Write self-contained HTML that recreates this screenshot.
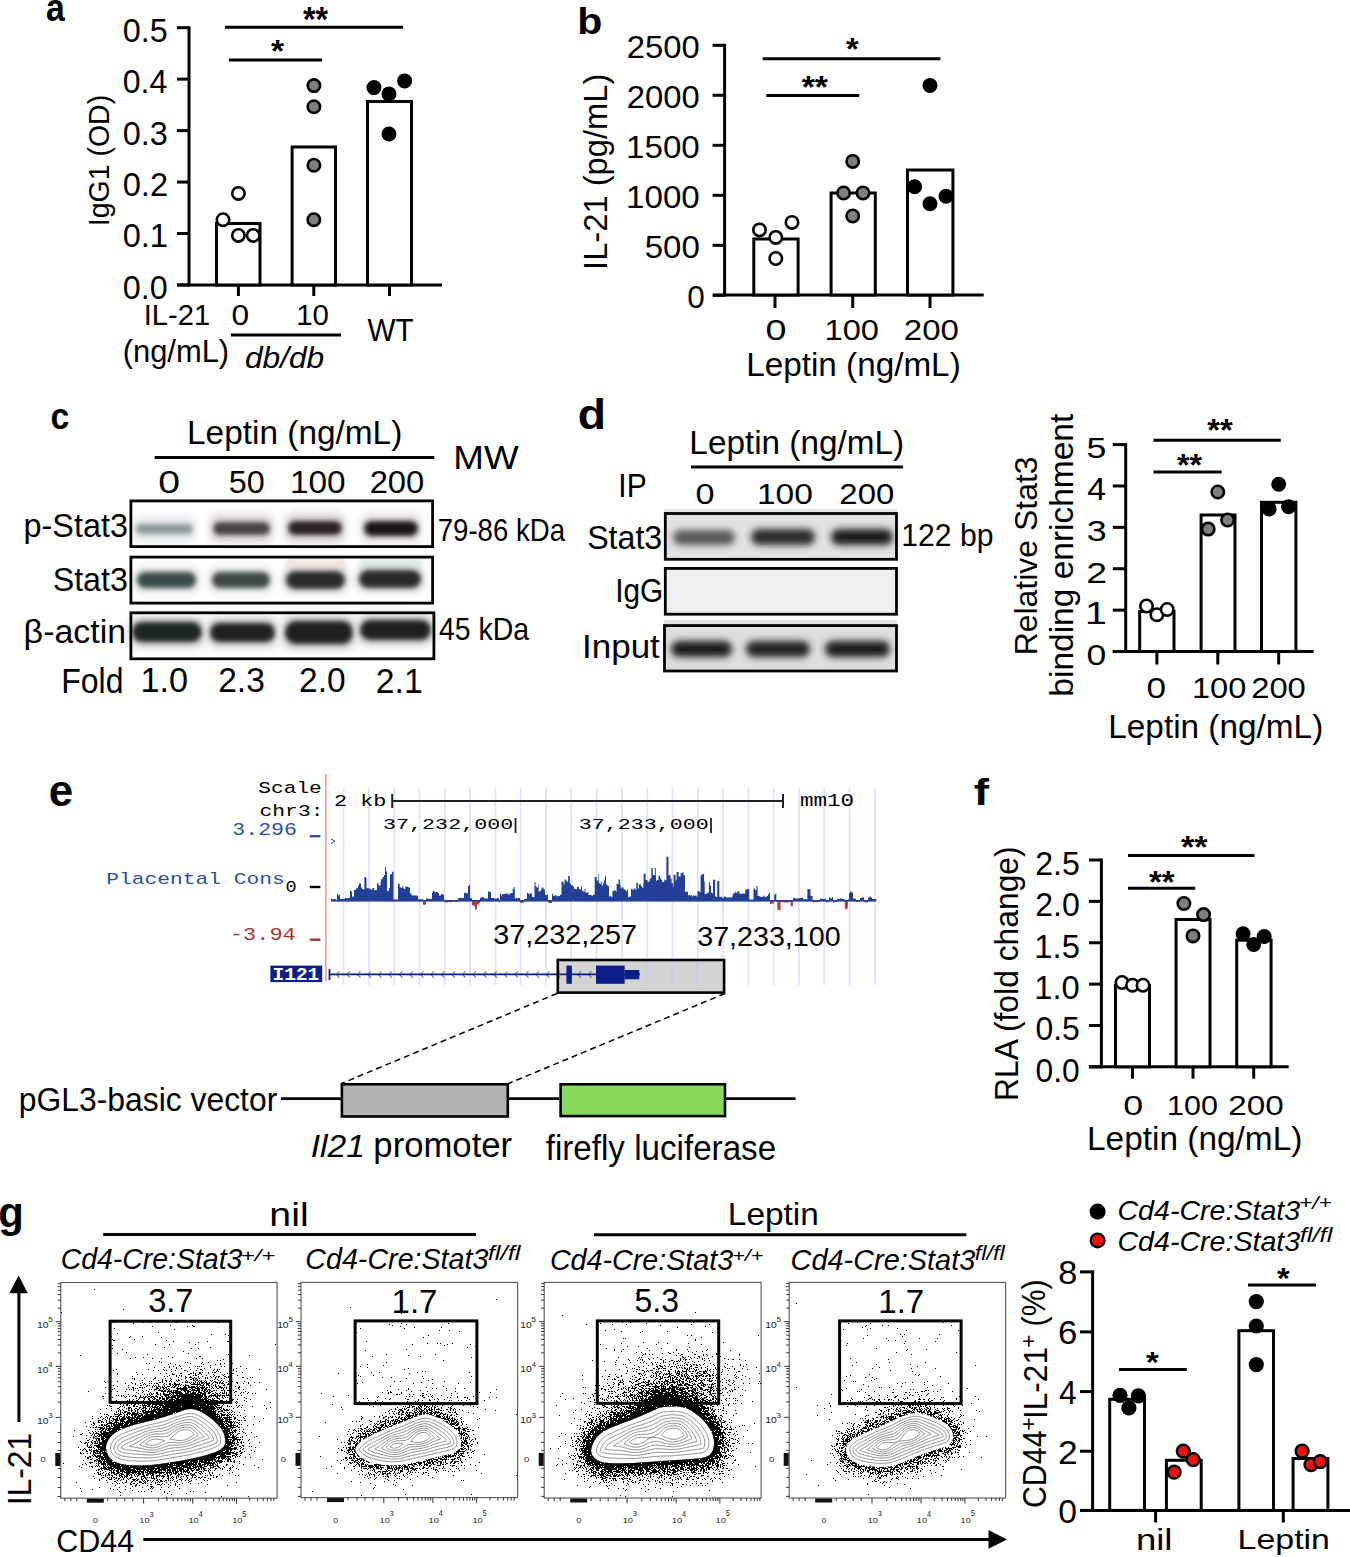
<!DOCTYPE html>
<html><head><meta charset="utf-8"><style>
html,body{margin:0;padding:0;background:#fff;width:1350px;height:1557px;overflow:hidden}
svg{display:block}
</style></head><body>
<svg width="1350" height="1557" viewBox="0 0 1350 1557">
<defs>
<filter id="bl25" x="-50%" y="-150%" width="200%" height="400%"><feGaussianBlur stdDeviation="2.5"/></filter>
<filter id="bl35" x="-50%" y="-150%" width="200%" height="400%"><feGaussianBlur stdDeviation="3.5"/></filter>
<filter id="bl40" x="-50%" y="-150%" width="200%" height="400%"><feGaussianBlur stdDeviation="4"/></filter>
<filter id="bl15" x="-50%" y="-150%" width="200%" height="400%"><feGaussianBlur stdDeviation="1.5"/></filter>
</defs>
<rect width="1350" height="1557" fill="#fff"/>
<text transform="translate(45.99,21.21) scale(0.8568,1)" font-size="39.45" style="font-family:'Liberation Sans', sans-serif;font-weight:bold;" fill="#000" >a</text>
<line x1="189" y1="26.2" x2="189" y2="286.5" stroke="#000" stroke-width="3" />
<line x1="177" y1="27.7" x2="189" y2="27.7" stroke="#000" stroke-width="3" />
<line x1="177" y1="79.15" x2="189" y2="79.15" stroke="#000" stroke-width="3" />
<line x1="177" y1="130.6" x2="189" y2="130.6" stroke="#000" stroke-width="3" />
<line x1="177" y1="182.05" x2="189" y2="182.05" stroke="#000" stroke-width="3" />
<line x1="177" y1="233.5" x2="189" y2="233.5" stroke="#000" stroke-width="3" />
<line x1="177" y1="284.95" x2="189" y2="284.95" stroke="#000" stroke-width="3" />
<line x1="177" y1="285" x2="442" y2="285" stroke="#000" stroke-width="3" />
<line x1="238.4" y1="285" x2="238.4" y2="296" stroke="#000" stroke-width="3" />
<line x1="313.8" y1="285" x2="313.8" y2="296" stroke="#000" stroke-width="3" />
<line x1="389.5" y1="285" x2="389.5" y2="296" stroke="#000" stroke-width="3" />
<rect x="216.5" y="223.5" width="43.5" height="61.5" fill="#fff" stroke="#000" stroke-width="3"/>
<rect x="292.1" y="147.0" width="43.39999999999998" height="138.0" fill="#fff" stroke="#000" stroke-width="3"/>
<rect x="367.5" y="101.5" width="44" height="183.5" fill="#fff" stroke="#000" stroke-width="3"/>
<circle cx="238.4" cy="193.4" r="6.2" fill="#fff" stroke="#000" stroke-width="2.6"/>
<circle cx="223" cy="219.7" r="6.2" fill="#fff" stroke="#000" stroke-width="2.6"/>
<circle cx="238.4" cy="235.4" r="6.2" fill="#fff" stroke="#000" stroke-width="2.6"/>
<circle cx="253.2" cy="235.4" r="6.2" fill="#fff" stroke="#000" stroke-width="2.6"/>
<circle cx="313.9" cy="85.6" r="6.2" fill="#7f7f7f" stroke="#000" stroke-width="2.6"/>
<circle cx="313.9" cy="106.8" r="6.2" fill="#7f7f7f" stroke="#000" stroke-width="2.6"/>
<circle cx="313.9" cy="165.2" r="6.2" fill="#7f7f7f" stroke="#000" stroke-width="2.6"/>
<circle cx="313.8" cy="219.7" r="6.2" fill="#7f7f7f" stroke="#000" stroke-width="2.6"/>
<circle cx="374" cy="87.6" r="6.2" fill="#000" stroke="#000" stroke-width="2.6"/>
<circle cx="389" cy="93.9" r="6.2" fill="#000" stroke="#000" stroke-width="2.6"/>
<circle cx="404.6" cy="80.9" r="6.2" fill="#000" stroke="#000" stroke-width="2.6"/>
<circle cx="389" cy="134" r="6.2" fill="#000" stroke="#000" stroke-width="2.6"/>
<text transform="translate(122.71,41.67) scale(0.9956,1)" font-size="32.51" style="font-family:'Liberation Sans', sans-serif;" fill="#000" >0.5</text>
<text transform="translate(122.72,93.12) scale(0.9862,1)" font-size="32.51" style="font-family:'Liberation Sans', sans-serif;" fill="#000" >0.4</text>
<text transform="translate(122.70,144.57) scale(0.9975,1)" font-size="32.51" style="font-family:'Liberation Sans', sans-serif;" fill="#000" >0.3</text>
<text transform="translate(122.70,196.02) scale(1.0033,1)" font-size="32.51" style="font-family:'Liberation Sans', sans-serif;" fill="#000" >0.2</text>
<text transform="translate(122.70,247.47) scale(1.0014,1)" font-size="32.51" style="font-family:'Liberation Sans', sans-serif;" fill="#000" >0.1</text>
<text transform="translate(122.71,298.92) scale(0.9937,1)" font-size="32.51" style="font-family:'Liberation Sans', sans-serif;" fill="#000" >0.0</text>
<line x1="225" y1="27.2" x2="403" y2="27.2" stroke="#000" stroke-width="3" />
<text transform="translate(302.92,30.99) scale(0.9243,1)" font-size="34.90" style="font-family:'Liberation Sans', sans-serif;font-weight:bold;" fill="#000" >**</text>
<line x1="229" y1="60" x2="322" y2="60" stroke="#000" stroke-width="3" />
<text transform="translate(270.92,62.15) scale(1.0482,1)" font-size="32.21" style="font-family:'Liberation Sans', sans-serif;font-weight:bold;" fill="#000" >*</text>
<text transform="translate(109.40,226.24) rotate(-90) scale(0.9427,1)" font-size="30.25" style="font-family:'Liberation Sans', sans-serif;" fill="#000" >IgG1 (OD)</text>
<text transform="translate(143.70,325.20) scale(0.9965,1)" font-size="29.25" style="font-family:'Liberation Sans', sans-serif;" fill="#000" >IL-21</text>
<text transform="translate(231.44,324.91) scale(1.0967,1)" font-size="28.83" style="font-family:'Liberation Sans', sans-serif;" fill="#000" >0</text>
<text transform="translate(296.19,324.91) scale(1.0222,1)" font-size="28.83" style="font-family:'Liberation Sans', sans-serif;" fill="#000" >10</text>
<text transform="translate(122.67,362.20) scale(0.9704,1)" font-size="31.85" style="font-family:'Liberation Sans', sans-serif;" fill="#000" >(ng/mL)</text>
<line x1="230.9" y1="335" x2="341.1" y2="335" stroke="#000" stroke-width="3" />
<text transform="translate(244.97,367.90) scale(1.0783,1)" font-size="29.38" style="font-family:'Liberation Sans', sans-serif;font-style:italic;" fill="#000" >db/db</text>
<text transform="translate(367.55,341.00) scale(0.9709,1)" font-size="30.55" style="font-family:'Liberation Sans', sans-serif;" fill="#000" >WT</text>
<text transform="translate(577.34,33.63) scale(1.0956,1)" font-size="37.41" style="font-family:'Liberation Sans', sans-serif;font-weight:bold;" fill="#000" >b</text>
<line x1="724.6" y1="43.8" x2="724.6" y2="296.5" stroke="#000" stroke-width="3" />
<line x1="712.6" y1="45.3" x2="724.6" y2="45.3" stroke="#000" stroke-width="3" />
<line x1="712.6" y1="95.3" x2="724.6" y2="95.3" stroke="#000" stroke-width="3" />
<line x1="712.6" y1="145.3" x2="724.6" y2="145.3" stroke="#000" stroke-width="3" />
<line x1="712.6" y1="195.3" x2="724.6" y2="195.3" stroke="#000" stroke-width="3" />
<line x1="712.6" y1="245.3" x2="724.6" y2="245.3" stroke="#000" stroke-width="3" />
<line x1="712.6" y1="295.3" x2="724.6" y2="295.3" stroke="#000" stroke-width="3" />
<line x1="713" y1="295" x2="983.7" y2="295" stroke="#000" stroke-width="3" />
<line x1="775" y1="295" x2="775" y2="308" stroke="#000" stroke-width="3" />
<line x1="852.7" y1="295" x2="852.7" y2="308" stroke="#000" stroke-width="3" />
<line x1="930" y1="295" x2="930" y2="308" stroke="#000" stroke-width="3" />
<rect x="753.8" y="239.0" width="44.30000000000007" height="56.0" fill="#fff" stroke="#000" stroke-width="3"/>
<rect x="831.1" y="193.0" width="44.19999999999993" height="102.0" fill="#fff" stroke="#000" stroke-width="3"/>
<rect x="907.5" y="170.0" width="45.39999999999998" height="125.0" fill="#fff" stroke="#000" stroke-width="3"/>
<circle cx="759.5" cy="229.9" r="6.2" fill="#fff" stroke="#000" stroke-width="2.6"/>
<circle cx="775.8" cy="237.4" r="6.2" fill="#fff" stroke="#000" stroke-width="2.6"/>
<circle cx="792" cy="222.4" r="6.2" fill="#fff" stroke="#000" stroke-width="2.6"/>
<circle cx="775.8" cy="258.5" r="6.2" fill="#fff" stroke="#000" stroke-width="2.6"/>
<circle cx="852.7" cy="161.4" r="6.2" fill="#7f7f7f" stroke="#000" stroke-width="2.6"/>
<circle cx="843.6" cy="193" r="6.2" fill="#7f7f7f" stroke="#000" stroke-width="2.6"/>
<circle cx="863" cy="193" r="6.2" fill="#7f7f7f" stroke="#000" stroke-width="2.6"/>
<circle cx="852.7" cy="216" r="6.2" fill="#7f7f7f" stroke="#000" stroke-width="2.6"/>
<circle cx="914.6" cy="186.8" r="6.2" fill="#000" stroke="#000" stroke-width="2.6"/>
<circle cx="930" cy="203.8" r="6.2" fill="#000" stroke="#000" stroke-width="2.6"/>
<circle cx="946" cy="196.3" r="6.2" fill="#000" stroke="#000" stroke-width="2.6"/>
<circle cx="930" cy="85.4" r="6.2" fill="#000" stroke="#000" stroke-width="2.6"/>
<text transform="translate(626.86,58.49) scale(1.0544,1)" font-size="31.10" style="font-family:'Liberation Sans', sans-serif;" fill="#000" >2500</text>
<text transform="translate(626.86,108.49) scale(1.0544,1)" font-size="31.10" style="font-family:'Liberation Sans', sans-serif;" fill="#000" >2000</text>
<text transform="translate(626.01,158.49) scale(1.0669,1)" font-size="31.10" style="font-family:'Liberation Sans', sans-serif;" fill="#000" >1500</text>
<text transform="translate(626.01,208.49) scale(1.0669,1)" font-size="31.10" style="font-family:'Liberation Sans', sans-serif;" fill="#000" >1000</text>
<text transform="translate(644.68,258.49) scale(1.0619,1)" font-size="31.10" style="font-family:'Liberation Sans', sans-serif;" fill="#000" >500</text>
<text transform="translate(687.14,308.49) scale(1.0102,1)" font-size="31.10" style="font-family:'Liberation Sans', sans-serif;" fill="#000" >0</text>
<line x1="762.7" y1="58.7" x2="940.4" y2="58.7" stroke="#000" stroke-width="3" />
<text transform="translate(845.92,60.22) scale(1.0517,1)" font-size="30.87" style="font-family:'Liberation Sans', sans-serif;font-weight:bold;" fill="#000" >*</text>
<line x1="766.3" y1="95.5" x2="859.2" y2="95.5" stroke="#000" stroke-width="3" />
<text transform="translate(801.72,97.64) scale(1.1046,1)" font-size="30.60" style="font-family:'Liberation Sans', sans-serif;font-weight:bold;" fill="#000" >**</text>
<text transform="translate(607.20,269.93) rotate(-90) scale(0.9780,1)" font-size="33.45" style="font-family:'Liberation Sans', sans-serif;" fill="#000" >IL-21 (pg/mL)</text>
<text transform="translate(765.49,340.40) scale(1.2580,1)" font-size="29.96" style="font-family:'Liberation Sans', sans-serif;" fill="#000" >0</text>
<text transform="translate(824.55,340.40) scale(1.0902,1)" font-size="29.96" style="font-family:'Liberation Sans', sans-serif;" fill="#000" >100</text>
<text transform="translate(903.85,340.40) scale(1.1005,1)" font-size="29.96" style="font-family:'Liberation Sans', sans-serif;" fill="#000" >200</text>
<text transform="translate(746.15,375.60) scale(1.0259,1)" font-size="32.44" style="font-family:'Liberation Sans', sans-serif;" fill="#000" >Leptin (ng/mL)</text>
<text transform="translate(50.55,429.02) scale(0.8952,1)" font-size="37.81" style="font-family:'Liberation Sans', sans-serif;font-weight:bold;" fill="#000" >c</text>
<text transform="translate(187.04,444.30) scale(0.9856,1)" font-size="33.89" style="font-family:'Liberation Sans', sans-serif;" fill="#000" >Leptin (ng/mL)</text>
<line x1="154.7" y1="457.6" x2="434.3" y2="457.6" stroke="#000" stroke-width="3" />
<text transform="translate(453.26,468.80) scale(1.1098,1)" font-size="33.16" style="font-family:'Liberation Sans', sans-serif;" fill="#000" >MW</text>
<text transform="translate(158.13,492.59) scale(1.2594,1)" font-size="31.10" style="font-family:'Liberation Sans', sans-serif;" fill="#000" >0</text>
<text transform="translate(228.71,492.59) scale(1.0403,1)" font-size="31.10" style="font-family:'Liberation Sans', sans-serif;" fill="#000" >50</text>
<text transform="translate(289.90,492.59) scale(1.0733,1)" font-size="31.10" style="font-family:'Liberation Sans', sans-serif;" fill="#000" >100</text>
<text transform="translate(369.66,492.59) scale(1.0523,1)" font-size="31.10" style="font-family:'Liberation Sans', sans-serif;" fill="#000" >200</text>
<text transform="translate(23.49,536.90) scale(0.9781,1)" font-size="33.12" style="font-family:'Liberation Sans', sans-serif;" fill="#000" >p-Stat3</text>
<text transform="translate(52.65,590.80) scale(0.9685,1)" font-size="33.26" style="font-family:'Liberation Sans', sans-serif;" fill="#000" >Stat3</text>
<text transform="translate(23.62,642.80) scale(1.0084,1)" font-size="33.66" style="font-family:'Liberation Sans', sans-serif;" fill="#000" >β-actin</text>
<text transform="translate(437.72,541.19) scale(0.9016,1)" font-size="30.61" style="font-family:'Liberation Sans', sans-serif;" fill="#000" >79-86 kDa</text>
<text transform="translate(438.96,640.39) scale(0.9299,1)" font-size="30.61" style="font-family:'Liberation Sans', sans-serif;" fill="#000" >45 kDa</text>
<text transform="translate(61.26,692.50) scale(0.9167,1)" font-size="34.91" style="font-family:'Liberation Sans', sans-serif;" fill="#000" >Fold</text>
<text transform="translate(140.43,692.45) scale(0.9759,1)" font-size="35.05" style="font-family:'Liberation Sans', sans-serif;" fill="#000" >1.0</text>
<text transform="translate(218.22,692.45) scale(0.9564,1)" font-size="35.05" style="font-family:'Liberation Sans', sans-serif;" fill="#000" >2.3</text>
<text transform="translate(299.03,692.45) scale(0.9550,1)" font-size="35.05" style="font-family:'Liberation Sans', sans-serif;" fill="#000" >2.0</text>
<text transform="translate(375.82,692.80) scale(0.9466,1)" font-size="35.56" style="font-family:'Liberation Sans', sans-serif;" fill="#000" >2.1</text>
<rect x="133" y="516" width="63" height="26" rx="8" fill="#e6eaea" filter="url(#bl40)"/>
<rect x="136" y="524" width="57" height="10" rx="5.0" fill="#8c9898" opacity="1" filter="url(#bl25)"/>
<rect x="210" y="514" width="63" height="29" rx="8" fill="#dcd6d6" filter="url(#bl40)"/>
<rect x="213" y="522" width="57" height="13" rx="6.5" fill="#4c4242" opacity="1" filter="url(#bl25)"/>
<rect x="285" y="513" width="60" height="30" rx="8" fill="#dcd6d6" filter="url(#bl40)"/>
<rect x="288" y="521" width="54" height="14" rx="7.0" fill="#2c2222" opacity="1" filter="url(#bl25)"/>
<rect x="361" y="514" width="60" height="29" rx="8" fill="#e2dcdc" filter="url(#bl40)"/>
<rect x="364" y="521" width="54" height="15" rx="7.5" fill="#1c1212" opacity="1" filter="url(#bl25)"/>
<rect x="286" y="559" width="60" height="14" fill="#f6e6d8" filter="url(#bl25)"/>
<rect x="360" y="559" width="62" height="13" fill="#dfece2" filter="url(#bl25)"/>
<rect x="134" y="567" width="65" height="26" rx="8" fill="#dfe6e4" filter="url(#bl40)"/>
<rect x="137" y="572" width="59" height="16" rx="8.0" fill="#3a4c48" opacity="1" filter="url(#bl25)"/>
<rect x="209" y="567" width="64" height="26" rx="8" fill="#dfe6e4" filter="url(#bl40)"/>
<rect x="212" y="572" width="58" height="16" rx="8.0" fill="#3c4a46" opacity="1" filter="url(#bl25)"/>
<rect x="283" y="567" width="65" height="26" rx="8" fill="#d8dcdc" filter="url(#bl40)"/>
<rect x="286" y="571" width="59" height="18" rx="9.0" fill="#2a2c2a" opacity="1" filter="url(#bl25)"/>
<rect x="356" y="566" width="68" height="26" rx="8" fill="#d8dcdc" filter="url(#bl40)"/>
<rect x="359" y="570" width="62" height="18" rx="9.0" fill="#2a2a26" opacity="1" filter="url(#bl25)"/>
<rect x="130" y="617" width="74" height="30" rx="8" fill="#c8cccc" filter="url(#bl40)"/>
<rect x="132" y="622" width="70" height="20" rx="10.0" fill="#1c2624" opacity="1" filter="url(#bl25)"/>
<rect x="208" y="618" width="69" height="29" rx="8" fill="#c8cccc" filter="url(#bl40)"/>
<rect x="210" y="623" width="65" height="19" rx="9.5" fill="#1e2424" opacity="1" filter="url(#bl25)"/>
<rect x="283" y="616" width="72" height="33" rx="8" fill="#c8cccc" filter="url(#bl40)"/>
<rect x="285" y="621" width="68" height="23" rx="11.5" fill="#1c2222" opacity="1" filter="url(#bl25)"/>
<rect x="358" y="615" width="75" height="30" rx="8" fill="#c8cccc" filter="url(#bl40)"/>
<rect x="360" y="620" width="71" height="20" rx="10.0" fill="#1e2222" opacity="1" filter="url(#bl25)"/>
<rect x="130.9" y="500.9" width="301.7" height="45.7" fill="none" stroke="#000" stroke-width="2.8"/>
<rect x="130.9" y="557.1" width="301.7" height="45.99999999999996" fill="none" stroke="#000" stroke-width="2.8"/>
<rect x="130.9" y="612.8" width="303.0" height="46.00000000000007" fill="none" stroke="#000" stroke-width="2.8"/>
<text transform="translate(577.75,428.58) scale(1.0986,1)" font-size="42.18" style="font-family:'Liberation Sans', sans-serif;font-weight:bold;" fill="#000" >d</text>
<text transform="translate(689.35,454.10) scale(1.0182,1)" font-size="32.73" style="font-family:'Liberation Sans', sans-serif;" fill="#000" >Leptin (ng/mL)</text>
<line x1="691" y1="467.1" x2="903.1" y2="467.1" stroke="#000" stroke-width="3" />
<text transform="translate(618.33,496.60) scale(0.8967,1)" font-size="33.45" style="font-family:'Liberation Sans', sans-serif;" fill="#000" >IP</text>
<text transform="translate(695.53,503.70) scale(1.1446,1)" font-size="29.82" style="font-family:'Liberation Sans', sans-serif;" fill="#000" >0</text>
<text transform="translate(756.99,503.70) scale(1.1234,1)" font-size="29.82" style="font-family:'Liberation Sans', sans-serif;" fill="#000" >100</text>
<text transform="translate(839.35,503.70) scale(1.1035,1)" font-size="29.82" style="font-family:'Liberation Sans', sans-serif;" fill="#000" >200</text>
<text transform="translate(587.15,548.60) scale(0.9713,1)" font-size="33.12" style="font-family:'Liberation Sans', sans-serif;" fill="#000" >Stat3</text>
<text transform="translate(615.15,601.80) scale(0.9174,1)" font-size="32.44" style="font-family:'Liberation Sans', sans-serif;" fill="#000" >IgG</text>
<text transform="translate(582.07,658.40) scale(1.0779,1)" font-size="32.44" style="font-family:'Liberation Sans', sans-serif;" fill="#000" >Input</text>
<text transform="translate(901.34,546.10) scale(0.9858,1)" font-size="30.55" style="font-family:'Liberation Sans', sans-serif;" fill="#000" >122 bp</text>
<rect x="664" y="509" width="233" height="3" fill="#e4e4e4"/>
<rect x="664" y="512" width="233" height="48" fill="#e2e2e2"/>
<rect x="664" y="567" width="233" height="48" fill="#efefef"/>
<rect x="664" y="620" width="233" height="4" fill="#e4e4e4"/>
<rect x="664" y="624" width="233" height="48" fill="#dedede"/>
<rect x="673" y="530" width="62" height="15" rx="7.5" fill="#585858" opacity="1" filter="url(#bl35)"/>
<rect x="751" y="529" width="64" height="16" rx="8.0" fill="#2c2c2c" opacity="1" filter="url(#bl35)"/>
<rect x="831" y="529" width="62" height="16" rx="8.0" fill="#1e1e1e" opacity="1" filter="url(#bl35)"/>
<rect x="671" y="641" width="61" height="16" rx="8.0" fill="#1c1c1c" opacity="1" filter="url(#bl35)"/>
<rect x="746" y="641" width="64" height="16" rx="8.0" fill="#222" opacity="1" filter="url(#bl35)"/>
<rect x="825" y="641" width="65" height="16" rx="8.0" fill="#1c1c1c" opacity="1" filter="url(#bl35)"/>
<rect x="665.3" y="513.5" width="231.2" height="45.800000000000026" fill="none" stroke="#000" stroke-width="2.8"/>
<rect x="665.3" y="568.4" width="231.2" height="45.800000000000026" fill="none" stroke="#000" stroke-width="2.8"/>
<rect x="664.5" y="625.6" width="231.99999999999994" height="45.399999999999935" fill="none" stroke="#000" stroke-width="2.8"/>
<line x1="1125.7" y1="443.1" x2="1125.7" y2="653.0" stroke="#000" stroke-width="3" />
<line x1="1112.8" y1="444.6" x2="1125.7" y2="444.6" stroke="#000" stroke-width="3" />
<line x1="1112.8" y1="485.98" x2="1125.7" y2="485.98" stroke="#000" stroke-width="3" />
<line x1="1112.8" y1="527.36" x2="1125.7" y2="527.36" stroke="#000" stroke-width="3" />
<line x1="1112.8" y1="568.74" x2="1125.7" y2="568.74" stroke="#000" stroke-width="3" />
<line x1="1112.8" y1="610.12" x2="1125.7" y2="610.12" stroke="#000" stroke-width="3" />
<line x1="1112.8" y1="651.5" x2="1125.7" y2="651.5" stroke="#000" stroke-width="3" />
<line x1="1112.8" y1="651.5" x2="1313.7" y2="651.5" stroke="#000" stroke-width="3" />
<line x1="1156.9" y1="651.5" x2="1156.9" y2="664.5" stroke="#000" stroke-width="3" />
<line x1="1217.8" y1="651.5" x2="1217.8" y2="664.5" stroke="#000" stroke-width="3" />
<line x1="1278.7" y1="651.5" x2="1278.7" y2="664.5" stroke="#000" stroke-width="3" />
<rect x="1139.7" y="611.5" width="34.299999999999955" height="40.0" fill="#fff" stroke="#000" stroke-width="3"/>
<rect x="1201.1" y="515.0" width="33.90000000000009" height="136.5" fill="#fff" stroke="#000" stroke-width="3"/>
<rect x="1261.5" y="502.3" width="34.40000000000009" height="149.2" fill="#fff" stroke="#000" stroke-width="3"/>
<circle cx="1146.5" cy="606" r="6.2" fill="#fff" stroke="#000" stroke-width="2.6"/>
<circle cx="1156.9" cy="614.7" r="6.2" fill="#fff" stroke="#000" stroke-width="2.6"/>
<circle cx="1167.2" cy="609.5" r="6.2" fill="#fff" stroke="#000" stroke-width="2.6"/>
<circle cx="1217.8" cy="492" r="6.2" fill="#7f7f7f" stroke="#000" stroke-width="2.6"/>
<circle cx="1208.2" cy="529.1" r="6.2" fill="#7f7f7f" stroke="#000" stroke-width="2.6"/>
<circle cx="1227.6" cy="520" r="6.2" fill="#7f7f7f" stroke="#000" stroke-width="2.6"/>
<circle cx="1278.7" cy="484.3" r="6.2" fill="#000" stroke="#000" stroke-width="2.6"/>
<circle cx="1269.1" cy="508.9" r="6.2" fill="#000" stroke="#000" stroke-width="2.6"/>
<circle cx="1288.6" cy="506.8" r="6.2" fill="#000" stroke="#000" stroke-width="2.6"/>
<text transform="translate(1086.57,458.10) scale(1.1887,1)" font-size="30.11" style="font-family:'Liberation Sans', sans-serif;" fill="#000" >5</text>
<text transform="translate(1087.24,499.78) scale(1.1021,1)" font-size="30.55" style="font-family:'Liberation Sans', sans-serif;" fill="#000" >4</text>
<text transform="translate(1086.66,540.86) scale(1.2058,1)" font-size="29.68" style="font-family:'Liberation Sans', sans-serif;" fill="#000" >3</text>
<text transform="translate(1086.13,582.54) scale(1.2410,1)" font-size="30.11" style="font-family:'Liberation Sans', sans-serif;" fill="#000" >2</text>
<text transform="translate(1085.05,623.92) scale(1.2868,1)" font-size="30.55" style="font-family:'Liberation Sans', sans-serif;" fill="#000" >1</text>
<text transform="translate(1086.58,665.00) scale(1.1995,1)" font-size="29.68" style="font-family:'Liberation Sans', sans-serif;" fill="#000" >0</text>
<line x1="1153.5" y1="440.2" x2="1280.8" y2="440.2" stroke="#000" stroke-width="3" />
<text transform="translate(1207.32,440.81) scale(1.0524,1)" font-size="31.14" style="font-family:'Liberation Sans', sans-serif;font-weight:bold;" fill="#000" >**</text>
<line x1="1153.5" y1="472" x2="1221.7" y2="472" stroke="#000" stroke-width="3" />
<text transform="translate(1176.92,475.81) scale(1.0359,1)" font-size="31.14" style="font-family:'Liberation Sans', sans-serif;font-weight:bold;" fill="#000" >**</text>
<text transform="translate(1146.39,697.71) scale(1.2084,1)" font-size="29.12" style="font-family:'Liberation Sans', sans-serif;" fill="#000" >0</text>
<text transform="translate(1191.96,697.71) scale(1.1176,1)" font-size="29.12" style="font-family:'Liberation Sans', sans-serif;" fill="#000" >100</text>
<text transform="translate(1251.16,697.71) scale(1.1260,1)" font-size="29.12" style="font-family:'Liberation Sans', sans-serif;" fill="#000" >200</text>
<text transform="translate(1108.25,737.90) scale(1.0058,1)" font-size="33.16" style="font-family:'Liberation Sans', sans-serif;" fill="#000" >Leptin (ng/mL)</text>
<text transform="translate(1036.80,655.34) rotate(-90) scale(0.9900,1)" font-size="32.29" style="font-family:'Liberation Sans', sans-serif;" fill="#000" >Relative Stat3</text>
<text transform="translate(1072.70,696.68) rotate(-90) scale(0.9993,1)" font-size="33.52" style="font-family:'Liberation Sans', sans-serif;" fill="#000" >binding enrichment</text>
<text transform="translate(973.70,804.80) scale(1.2542,1)" font-size="36.41" style="font-family:'Liberation Sans', sans-serif;font-weight:bold;" fill="#000" >f</text>
<line x1="1101.4" y1="858.5" x2="1101.4" y2="1068.3" stroke="#000" stroke-width="3" />
<line x1="1089.0" y1="860.0" x2="1101.4" y2="860.0" stroke="#000" stroke-width="3" />
<line x1="1089.0" y1="901.38" x2="1101.4" y2="901.38" stroke="#000" stroke-width="3" />
<line x1="1089.0" y1="942.76" x2="1101.4" y2="942.76" stroke="#000" stroke-width="3" />
<line x1="1089.0" y1="984.14" x2="1101.4" y2="984.14" stroke="#000" stroke-width="3" />
<line x1="1089.0" y1="1025.52" x2="1101.4" y2="1025.52" stroke="#000" stroke-width="3" />
<line x1="1089.0" y1="1066.9" x2="1101.4" y2="1066.9" stroke="#000" stroke-width="3" />
<line x1="1089" y1="1066.8" x2="1288.7" y2="1066.8" stroke="#000" stroke-width="3" />
<line x1="1132.5" y1="1066.8" x2="1132.5" y2="1078.7" stroke="#000" stroke-width="3" />
<line x1="1193" y1="1066.8" x2="1193" y2="1078.7" stroke="#000" stroke-width="3" />
<line x1="1253.7" y1="1066.8" x2="1253.7" y2="1078.7" stroke="#000" stroke-width="3" />
<rect x="1115.5" y="985.5" width="34" height="81.29999999999995" fill="#fff" stroke="#000" stroke-width="3"/>
<rect x="1176.1" y="919.5" width="33.90000000000009" height="147.29999999999995" fill="#fff" stroke="#000" stroke-width="3"/>
<rect x="1236.7" y="940.2" width="34.399999999999864" height="126.59999999999991" fill="#fff" stroke="#000" stroke-width="3"/>
<circle cx="1122" cy="982.5" r="6.2" fill="#fff" stroke="#000" stroke-width="2.6"/>
<circle cx="1132.5" cy="985.2" r="6.2" fill="#fff" stroke="#000" stroke-width="2.6"/>
<circle cx="1143" cy="985.2" r="6.2" fill="#fff" stroke="#000" stroke-width="2.6"/>
<circle cx="1183.9" cy="903.5" r="6.2" fill="#7f7f7f" stroke="#000" stroke-width="2.6"/>
<circle cx="1203.6" cy="914.6" r="6.2" fill="#7f7f7f" stroke="#000" stroke-width="2.6"/>
<circle cx="1193" cy="935.9" r="6.2" fill="#7f7f7f" stroke="#000" stroke-width="2.6"/>
<circle cx="1243.1" cy="933.8" r="6.2" fill="#000" stroke="#000" stroke-width="2.6"/>
<circle cx="1253.7" cy="944.4" r="6.2" fill="#000" stroke="#000" stroke-width="2.6"/>
<circle cx="1264.2" cy="936.5" r="6.2" fill="#000" stroke="#000" stroke-width="2.6"/>
<text transform="translate(1035.19,874.77) scale(0.9722,1)" font-size="33.07" style="font-family:'Liberation Sans', sans-serif;" fill="#000" >2.5</text>
<text transform="translate(1035.20,916.15) scale(0.9703,1)" font-size="33.07" style="font-family:'Liberation Sans', sans-serif;" fill="#000" >2.0</text>
<text transform="translate(1034.34,957.52) scale(0.9772,1)" font-size="33.55" style="font-family:'Liberation Sans', sans-serif;" fill="#000" >1.5</text>
<text transform="translate(1034.35,998.91) scale(0.9893,1)" font-size="33.07" style="font-family:'Liberation Sans', sans-serif;" fill="#000" >1.0</text>
<text transform="translate(1035.52,1040.29) scale(0.9648,1)" font-size="33.07" style="font-family:'Liberation Sans', sans-serif;" fill="#000" >0.5</text>
<text transform="translate(1035.53,1081.67) scale(0.9629,1)" font-size="33.07" style="font-family:'Liberation Sans', sans-serif;" fill="#000" >0.0</text>
<line x1="1128" y1="855.6" x2="1254.4" y2="855.6" stroke="#000" stroke-width="3" />
<text transform="translate(1180.91,858.18) scale(1.0835,1)" font-size="31.68" style="font-family:'Liberation Sans', sans-serif;font-weight:bold;" fill="#000" >**</text>
<line x1="1128" y1="888.3" x2="1195.2" y2="888.3" stroke="#000" stroke-width="3" />
<text transform="translate(1148.92,892.56) scale(1.0340,1)" font-size="31.95" style="font-family:'Liberation Sans', sans-serif;font-weight:bold;" fill="#000" >**</text>
<text transform="translate(1123.17,1115.22) scale(1.2861,1)" font-size="27.84" style="font-family:'Liberation Sans', sans-serif;" fill="#000" >0</text>
<text transform="translate(1167.11,1115.22) scale(1.0947,1)" font-size="27.84" style="font-family:'Liberation Sans', sans-serif;" fill="#000" >100</text>
<text transform="translate(1228.34,1115.22) scale(1.1956,1)" font-size="27.84" style="font-family:'Liberation Sans', sans-serif;" fill="#000" >200</text>
<text transform="translate(1087.04,1150.00) scale(1.0161,1)" font-size="32.87" style="font-family:'Liberation Sans', sans-serif;" fill="#000" >Leptin (ng/mL)</text>
<text transform="translate(1017.60,1101.03) rotate(-90) scale(0.9554,1)" font-size="33.31" style="font-family:'Liberation Sans', sans-serif;" fill="#000" >RLA (fold change)</text>
<text transform="translate(48.64,805.56) scale(1.0023,1)" font-size="43.84" style="font-family:'Liberation Sans', sans-serif;font-weight:bold;" fill="#000" >e</text>
<rect x="342.7" y="788" width="1.8" height="197" fill="#dfe3fd"/>
<rect x="368.0" y="788" width="1.8" height="197" fill="#dfe3fd"/>
<rect x="393.3" y="788" width="1.8" height="197" fill="#dfe3fd"/>
<rect x="418.6" y="788" width="1.8" height="197" fill="#dfe3fd"/>
<rect x="443.9" y="788" width="1.8" height="197" fill="#dfe3fd"/>
<rect x="469.2" y="788" width="1.8" height="197" fill="#dfe3fd"/>
<rect x="494.5" y="788" width="1.8" height="197" fill="#dfe3fd"/>
<rect x="519.8" y="788" width="1.8" height="197" fill="#dfe3fd"/>
<rect x="545.1" y="788" width="1.8" height="197" fill="#dfe3fd"/>
<rect x="570.4" y="788" width="1.8" height="197" fill="#dfe3fd"/>
<rect x="595.7" y="788" width="1.8" height="197" fill="#dfe3fd"/>
<rect x="621.0" y="788" width="1.8" height="197" fill="#dfe3fd"/>
<rect x="646.3" y="788" width="1.8" height="197" fill="#dfe3fd"/>
<rect x="671.6" y="788" width="1.8" height="197" fill="#dfe3fd"/>
<rect x="696.9" y="788" width="1.8" height="197" fill="#dfe3fd"/>
<rect x="722.2" y="788" width="1.8" height="197" fill="#dfe3fd"/>
<rect x="747.5" y="788" width="1.8" height="197" fill="#dfe3fd"/>
<rect x="772.8" y="788" width="1.8" height="197" fill="#dfe3fd"/>
<rect x="798.1" y="788" width="1.8" height="197" fill="#dfe3fd"/>
<rect x="823.4" y="788" width="1.8" height="197" fill="#dfe3fd"/>
<rect x="848.7" y="788" width="1.8" height="197" fill="#dfe3fd"/>
<rect x="874.0" y="788" width="1.8" height="197" fill="#dfe3fd"/>
<rect x="325" y="773.6" width="1.8" height="208" fill="#f6a4a4"/>
<text transform="translate(258.31,792.94) scale(1.3522,1)" font-size="15.65" style="font-family:'Liberation Mono', monospace;" fill="#000" >Scale</text>
<text transform="translate(259.57,816.44) scale(1.3155,1)" font-size="16.19" style="font-family:'Liberation Mono', monospace;" fill="#000" >chr3:</text>
<text transform="translate(232.35,834.73) scale(1.2314,1)" font-size="17.50" style="font-family:'Liberation Mono', monospace;" fill="#2d4ea0" >3.296</text>
<rect x="309.8" y="835" width="10.6" height="2.4" fill="#2d4ea0"/>
<text transform="translate(106.30,883.63) scale(1.2495,1)" font-size="17.01" style="font-family:'Liberation Mono', monospace;" fill="#2d4ea0" >Placental Cons</text>
<text transform="translate(285.59,891.63) scale(1.0869,1)" font-size="17.06" style="font-family:'Liberation Mono', monospace;" fill="#000" >0</text>
<rect x="309.8" y="885.8" width="10.6" height="2.4" fill="#000"/>
<text transform="translate(229.83,940.43) scale(1.2566,1)" font-size="17.50" style="font-family:'Liberation Mono', monospace;" fill="#a83232" >-3.94</text>
<rect x="309.8" y="938.5" width="10.6" height="2.4" fill="#a83232"/>
<path d="M331 839 L335 841 L331 843.5" fill="none" stroke="#2d4ea0" stroke-width="1"/>
<text transform="translate(334.07,805.84) scale(1.3955,1)" font-size="15.65" style="font-family:'Liberation Mono', monospace;" fill="#000" >2 kb</text>
<line x1="392.2" y1="800.9" x2="783" y2="800.9" stroke="#222" stroke-width="2" />
<line x1="392.2" y1="794" x2="392.2" y2="808" stroke="#222" stroke-width="2" />
<line x1="783" y1="794" x2="783" y2="808" stroke="#222" stroke-width="2" />
<text transform="translate(799.93,806.32) scale(1.2779,1)" font-size="17.65" style="font-family:'Liberation Mono', monospace;" fill="#000" >mm10</text>
<text transform="translate(383.04,829.49) scale(1.5333,1)" font-size="14.16" style="font-family:'Liberation Mono', monospace;" fill="#000" >37,232,000</text>
<line x1="515.5" y1="818" x2="515.5" y2="833" stroke="#222" stroke-width="1.8" />
<text transform="translate(578.64,829.49) scale(1.5321,1)" font-size="14.16" style="font-family:'Liberation Mono', monospace;" fill="#000" >37,233,000</text>
<line x1="711" y1="818" x2="711" y2="833" stroke="#222" stroke-width="1.8" />
<path d="M423.0 900.8V904.8H425.0V900.8ZM425.0 900.8V904.5H426.0V900.8ZM444.0 900.8V901.9H445.5V900.8ZM445.5 900.8V902.6H447.0V900.8ZM447.0 900.8V902.2H448.5V900.8ZM448.5 900.8V901.9H450.0V900.8ZM450.0 900.8V902.4H451.0V900.8ZM451.0 900.8V902.0H453.0V900.8ZM453.0 900.8V902.0H455.0V900.8ZM455.0 900.8V902.0H456.0V900.8ZM456.0 900.8V902.1H458.0V900.8ZM472.0 900.8V905.2H473.5V900.8ZM473.5 900.8V906.4H474.5V900.8ZM474.5 900.8V905.4H475.0V900.8ZM475.0 900.8V909.9H476.0V900.8ZM476.0 900.8V909.0H477.0V900.8ZM477.0 900.8V904.4H479.0V900.8ZM479.0 900.8V903.0H480.0V900.8ZM499.0 900.8V902.4H500.0V900.8ZM520.0 900.8V903.1H521.5V900.8ZM521.5 900.8V902.8H523.5V900.8ZM523.5 900.8V902.6H524.0V900.8ZM548.0 900.8V902.7H549.5V900.8ZM549.5 900.8V902.9H550.5V900.8ZM550.5 900.8V903.1H552.0V900.8ZM770.0 900.8V903.9H771.5V900.8ZM771.5 900.8V903.3H772.5V900.8ZM772.5 900.8V903.6H774.0V900.8ZM776.3 900.8V901.9H777.3V900.8ZM777.3 900.8V909.8H779.3V900.8ZM779.3 900.8V910.3H780.5V900.8ZM780.5 900.8V901.9H782.5V900.8ZM782.5 900.8V902.2H784.5V900.8ZM784.5 900.8V902.4H786.5V900.8ZM786.5 900.8V902.5H788.5V900.8ZM788.5 900.8V901.9H790.0V900.8ZM790.0 900.8V901.9H790.8V900.8ZM790.8 900.8V906.2H792.3V900.8ZM792.3 900.8V906.0H792.9V900.8ZM812.6 900.8V902.4H813.6V900.8ZM813.6 900.8V902.1H815.1V900.8ZM815.1 900.8V902.2H817.1V900.8ZM817.1 900.8V902.1H818.6V900.8ZM818.6 900.8V902.2H819.6V900.8ZM819.6 900.8V902.6H820.0V900.8ZM826.0 900.8V902.5H827.5V900.8ZM827.5 900.8V901.9H828.5V900.8ZM828.5 900.8V902.4H829.0V900.8ZM833.0 900.8V902.5H835.0V900.8ZM835.0 900.8V902.0H836.5V900.8ZM836.5 900.8V902.0H837.0V900.8ZM844.8 900.8V908.7H845.8V900.8ZM845.8 900.8V909.6H847.3V900.8ZM847.3 900.8V907.5H847.9V900.8ZM856.0 900.8V902.1H858.0V900.8ZM858.0 900.8V902.1H859.5V900.8ZM859.5 900.8V902.3H860.0V900.8ZM864.0 900.8V901.9H865.0V900.8ZM865.0 900.8V902.5H866.5V900.8ZM866.5 900.8V902.2H868.0V900.8Z" fill="#b83a3a"/>
<path d="M331.0 900.8V899.0H332.5V900.8ZM332.5 900.8V899.2H334.0V900.8ZM334.0 900.8V899.1H335.0V900.8ZM335.0 900.8V899.3H336.0V900.8ZM337.0 900.8V893.7H338.0V900.8ZM338.0 900.8V895.6H339.0V900.8ZM339.0 900.8V894.8H340.0V900.8ZM340.0 900.8V899.1H341.0V900.8ZM341.0 900.8V899.1H342.5V900.8ZM342.5 900.8V899.1H344.5V900.8ZM344.5 900.8V898.7H345.0V900.8ZM345.0 900.8V897.9H347.0V900.8ZM347.0 900.8V898.2H349.0V900.8ZM349.0 900.8V897.8H350.0V900.8ZM350.0 900.8V890.6H351.0V900.8ZM351.0 900.8V891.6H352.0V900.8ZM352.0 900.8V896.4H353.0V900.8ZM353.0 900.8V896.7H354.0V900.8ZM354.0 900.8V890.0H356.0V900.8ZM356.0 900.8V888.2H358.0V900.8ZM358.0 900.8V885.5H359.0V900.8ZM359.0 900.8V883.4H361.0V900.8ZM361.0 900.8V887.4H362.0V900.8ZM362.0 900.8V889.0H363.0V900.8ZM363.0 900.8V889.3H364.4V900.8ZM364.4 900.8V877.1H365.9V900.8ZM365.9 900.8V878.1H366.5V900.8ZM366.5 900.8V888.2H367.5V900.8ZM367.5 900.8V888.3H369.5V900.8ZM369.5 900.8V889.1H370.5V900.8ZM370.5 900.8V889.5H372.5V900.8ZM372.5 900.8V888.5H372.7V900.8ZM372.7 900.8V888.0H374.2V900.8ZM374.2 900.8V890.3H375.2V900.8ZM375.2 900.8V890.1H376.7V900.8ZM376.7 900.8V890.1H377.0V900.8ZM377.0 900.8V883.3H378.5V900.8ZM378.5 900.8V885.6H380.5V900.8ZM380.5 900.8V882.2H381.0V900.8ZM381.0 900.8V879.2H382.5V900.8ZM382.5 900.8V876.9H384.0V900.8ZM384.0 900.8V875.1H385.0V900.8ZM385.0 900.8V867.3H386.0V900.8ZM386.0 900.8V871.5H387.0V900.8ZM387.0 900.8V890.9H389.0V900.8ZM389.0 900.8V888.1H390.0V900.8ZM390.0 900.8V874.2H392.0V900.8ZM392.0 900.8V871.7H393.5V900.8ZM393.5 900.8V899.4H395.0V900.8ZM395.0 900.8V899.5H397.0V900.8ZM397.0 900.8V899.5H398.0V900.8ZM398.0 900.8V883.8H399.7V900.8ZM399.7 900.8V887.3H400.7V900.8ZM400.7 900.8V887.8H402.2V900.8ZM402.2 900.8V886.3H403.2V900.8ZM403.2 900.8V888.1H403.8V900.8ZM403.8 900.8V889.0H405.3V900.8ZM405.3 900.8V886.7H406.8V900.8ZM406.8 900.8V886.8H408.3V900.8ZM408.3 900.8V887.6H409.8V900.8ZM409.8 900.8V887.7H410.0V900.8ZM410.0 900.8V893.6H411.5V900.8ZM411.5 900.8V895.5H412.5V900.8ZM412.5 900.8V895.2H413.5V900.8ZM413.5 900.8V895.7H414.5V900.8ZM414.5 900.8V895.3H416.5V900.8ZM416.5 900.8V895.7H418.0V900.8ZM418.0 900.8V899.2H419.5V900.8ZM419.5 900.8V899.2H421.5V900.8ZM421.5 900.8V899.2H422.5V900.8ZM422.5 900.8V899.0H423.0V900.8ZM426.0 900.8V898.6H428.0V900.8ZM428.0 900.8V898.9H429.5V900.8ZM429.5 900.8V899.1H431.0V900.8ZM431.0 900.8V898.8H432.0V900.8ZM432.0 900.8V892.5H433.0V900.8ZM433.0 900.8V891.1H434.0V900.8ZM434.0 900.8V891.4H435.0V900.8ZM435.0 900.8V892.3H436.0V900.8ZM436.0 900.8V892.1H438.0V900.8ZM438.0 900.8V893.6H439.0V900.8ZM439.0 900.8V895.6H441.0V900.8ZM441.0 900.8V894.3H442.0V900.8ZM442.0 900.8V894.3H443.0V900.8ZM443.0 900.8V894.4H444.0V900.8ZM458.0 900.8V898.3H460.0V900.8ZM460.0 900.8V898.0H461.0V900.8ZM461.0 900.8V897.8H462.5V900.8ZM462.5 900.8V898.1H463.5V900.8ZM463.5 900.8V898.3H464.0V900.8ZM464.0 900.8V893.1H465.0V900.8ZM465.0 900.8V892.6H466.0V900.8ZM466.0 900.8V893.2H468.0V900.8ZM468.0 900.8V886.0H469.0V900.8ZM469.0 900.8V885.0H470.0V900.8ZM470.0 900.8V898.1H471.5V900.8ZM471.5 900.8V898.6H472.0V900.8ZM480.0 900.8V897.8H481.0V900.8ZM481.0 900.8V897.6H482.0V900.8ZM482.0 900.8V897.2H483.5V900.8ZM483.5 900.8V896.8H484.0V900.8ZM484.0 900.8V898.5H485.5V900.8ZM485.5 900.8V898.6H487.0V900.8ZM487.0 900.8V898.5H488.0V900.8ZM488.0 900.8V891.5H489.0V900.8ZM489.0 900.8V892.0H491.0V900.8ZM491.0 900.8V897.9H492.5V900.8ZM492.5 900.8V898.0H494.0V900.8ZM494.0 900.8V898.7H495.5V900.8ZM495.5 900.8V898.4H497.5V900.8ZM497.5 900.8V898.1H499.0V900.8ZM500.0 900.8V893.5H501.0V900.8ZM501.0 900.8V895.4H502.0V900.8ZM502.0 900.8V893.9H503.5V900.8ZM503.5 900.8V894.3H504.5V900.8ZM504.5 900.8V893.5H506.5V900.8ZM506.5 900.8V893.6H507.5V900.8ZM507.5 900.8V893.5H508.5V900.8ZM508.5 900.8V894.9H509.5V900.8ZM509.5 900.8V893.3H511.5V900.8ZM511.5 900.8V893.0H512.7V900.8ZM512.7 900.8V888.8H513.7V900.8ZM513.7 900.8V887.0H514.7V900.8ZM514.7 900.8V890.7H514.8V900.8ZM514.8 900.8V898.5H515.8V900.8ZM515.8 900.8V898.0H516.8V900.8ZM516.8 900.8V898.5H518.3V900.8ZM518.3 900.8V898.0H519.8V900.8ZM519.8 900.8V897.9H520.0V900.8ZM524.0 900.8V899.1H526.0V900.8ZM526.0 900.8V898.8H527.0V900.8ZM527.0 900.8V892.7H528.0V900.8ZM528.0 900.8V893.4H529.0V900.8ZM529.0 900.8V894.5H530.0V900.8ZM530.0 900.8V893.3H531.5V900.8ZM531.5 900.8V893.5H532.0V900.8ZM532.0 900.8V897.1H533.5V900.8ZM533.5 900.8V897.3H534.5V900.8ZM534.5 900.8V882.3H535.5V900.8ZM535.5 900.8V886.2H536.5V900.8ZM536.5 900.8V887.5H538.0V900.8ZM538.0 900.8V884.6H538.6V900.8ZM538.6 900.8V891.5H540.6V900.8ZM540.6 900.8V889.7H541.6V900.8ZM541.6 900.8V887.4H543.6V900.8ZM543.6 900.8V889.4H545.0V900.8ZM545.0 900.8V895.1H547.0V900.8ZM547.0 900.8V894.5H548.0V900.8ZM552.0 900.8V893.8H553.0V900.8ZM553.0 900.8V895.7H554.0V900.8ZM554.0 900.8V895.6H555.5V900.8ZM555.5 900.8V895.2H556.5V900.8ZM556.5 900.8V896.3H558.0V900.8ZM558.0 900.8V895.9H560.0V900.8ZM560.0 900.8V894.8H561.0V900.8ZM561.0 900.8V894.7H561.5V900.8ZM561.5 900.8V881.6H563.5V900.8ZM563.5 900.8V884.4H564.5V900.8ZM564.5 900.8V879.5H565.5V900.8ZM565.5 900.8V881.0H565.6V900.8ZM565.6 900.8V879.7H566.6V900.8ZM566.6 900.8V881.7H568.1V900.8ZM568.1 900.8V876.1H569.8V900.8ZM569.8 900.8V883.4H570.8V900.8ZM570.8 900.8V885.3H572.8V900.8ZM572.8 900.8V886.5H574.0V900.8ZM574.0 900.8V888.8H575.5V900.8ZM575.5 900.8V889.2H577.0V900.8ZM577.0 900.8V886.9H579.0V900.8ZM579.0 900.8V889.2H581.0V900.8ZM581.0 900.8V886.5H582.0V900.8ZM582.0 900.8V890.8H583.5V900.8ZM583.5 900.8V892.3H584.5V900.8ZM584.5 900.8V889.1H585.5V900.8ZM585.5 900.8V892.4H586.5V900.8ZM586.5 900.8V892.6H588.0V900.8ZM588.0 900.8V891.7H588.4V900.8ZM588.4 900.8V894.9H589.4V900.8ZM589.4 900.8V894.9H591.4V900.8ZM591.4 900.8V895.7H592.9V900.8ZM592.9 900.8V894.7H594.7V900.8ZM594.7 900.8V876.9H596.7V900.8ZM596.7 900.8V880.6H598.2V900.8ZM598.2 900.8V874.1H598.8V900.8ZM598.8 900.8V883.0H599.8V900.8ZM599.8 900.8V884.1H600.8V900.8ZM600.8 900.8V881.5H601.8V900.8ZM601.8 900.8V885.4H603.0V900.8ZM603.0 900.8V883.3H604.0V900.8ZM604.0 900.8V880.2H605.0V900.8ZM605.0 900.8V875.8H606.0V900.8ZM606.0 900.8V884.4H607.5V900.8ZM607.5 900.8V886.0H609.0V900.8ZM609.0 900.8V896.4H610.0V900.8ZM610.0 900.8V895.8H611.0V900.8ZM611.0 900.8V896.8H612.0V900.8ZM612.0 900.8V896.9H612.4V900.8ZM612.4 900.8V891.1H613.9V900.8ZM613.9 900.8V890.6H615.9V900.8ZM615.9 900.8V891.7H616.6V900.8ZM616.6 900.8V884.1H618.6V900.8ZM618.6 900.8V879.6H620.1V900.8ZM620.1 900.8V885.2H620.7V900.8ZM620.7 900.8V888.6H621.7V900.8ZM621.7 900.8V887.5H623.7V900.8ZM623.7 900.8V889.6H625.7V900.8ZM625.7 900.8V891.2H627.2V900.8ZM627.2 900.8V889.8H628.0V900.8ZM628.0 900.8V897.3H629.5V900.8ZM629.5 900.8V896.6H631.0V900.8ZM631.0 900.8V888.7H632.5V900.8ZM632.5 900.8V890.2H633.5V900.8ZM633.5 900.8V888.6H635.5V900.8ZM635.5 900.8V889.9H636.3V900.8ZM636.3 900.8V882.8H637.8V900.8ZM637.8 900.8V888.4H638.8V900.8ZM638.8 900.8V884.2H640.8V900.8ZM640.8 900.8V886.0H642.3V900.8ZM642.3 900.8V888.0H643.3V900.8ZM643.3 900.8V883.5H643.6V900.8ZM643.6 900.8V873.7H645.6V900.8ZM645.6 900.8V880.1H647.6V900.8ZM647.6 900.8V881.9H649.1V900.8ZM649.1 900.8V880.9H649.8V900.8ZM649.8 900.8V878.4H651.3V900.8ZM651.3 900.8V868.1H652.8V900.8ZM652.8 900.8V875.0H654.8V900.8ZM654.8 900.8V868.1H655.8V900.8ZM655.8 900.8V876.1H656.0V900.8ZM656.0 900.8V880.7H657.0V900.8ZM657.0 900.8V879.9H658.5V900.8ZM658.5 900.8V875.9H660.0V900.8ZM660.0 900.8V878.3H661.0V900.8ZM661.0 900.8V879.8H662.0V900.8ZM662.0 900.8V879.3H662.2V900.8ZM662.2 900.8V881.9H664.2V900.8ZM664.2 900.8V879.6H665.2V900.8ZM665.2 900.8V880.2H666.4V900.8ZM666.4 900.8V856.7H668.4V900.8ZM668.4 900.8V861.1H668.5V900.8ZM668.5 900.8V875.3H670.5V900.8ZM670.5 900.8V878.8H671.6V900.8ZM671.6 900.8V883.3H673.1V900.8ZM673.1 900.8V886.8H673.6V900.8ZM673.6 900.8V874.7H675.6V900.8ZM675.6 900.8V880.3H676.6V900.8ZM676.6 900.8V872.1H678.6V900.8ZM678.6 900.8V876.6H680.6V900.8ZM680.6 900.8V872.9H682.6V900.8ZM682.6 900.8V871.9H683.6V900.8ZM683.6 900.8V875.2H685.0V900.8ZM685.0 900.8V891.8H686.0V900.8ZM686.0 900.8V891.8H688.0V900.8ZM688.0 900.8V895.2H690.0V900.8ZM690.0 900.8V895.3H692.0V900.8ZM692.0 900.8V896.4H693.0V900.8ZM693.0 900.8V895.3H694.0V900.8ZM694.0 900.8V895.8H695.0V900.8ZM695.0 900.8V895.4H696.5V900.8ZM696.5 900.8V896.4H697.5V900.8ZM697.5 900.8V890.9H699.5V900.8ZM699.5 900.8V892.3H700.6V900.8ZM700.6 900.8V875.2H702.1V900.8ZM702.1 900.8V874.0H704.1V900.8ZM704.1 900.8V881.5H704.7V900.8ZM704.7 900.8V894.0H706.7V900.8ZM706.7 900.8V892.8H708.7V900.8ZM708.7 900.8V891.7H708.9V900.8ZM708.9 900.8V882.3H709.9V900.8ZM709.9 900.8V885.5H710.9V900.8ZM710.9 900.8V880.6H711.0V900.8ZM711.0 900.8V892.8H712.5V900.8ZM712.5 900.8V893.7H713.0V900.8ZM713.0 900.8V879.7H715.0V900.8ZM715.0 900.8V896.3H716.0V900.8ZM716.0 900.8V896.9H717.2V900.8ZM717.2 900.8V881.0H719.2V900.8ZM719.2 900.8V876.5H719.3V900.8ZM719.3 900.8V896.7H721.3V900.8ZM721.3 900.8V897.0H722.4V900.8ZM722.4 900.8V898.0H723.9V900.8ZM723.9 900.8V896.6H725.4V900.8ZM725.4 900.8V897.1H726.4V900.8ZM726.4 900.8V897.4H728.4V900.8ZM728.4 900.8V897.3H730.4V900.8ZM730.4 900.8V897.4H731.9V900.8ZM731.9 900.8V896.6H732.8V900.8ZM732.8 900.8V893.6H734.8V900.8ZM734.8 900.8V891.4H735.8V900.8ZM735.8 900.8V893.3H736.8V900.8ZM736.8 900.8V891.8H737.8V900.8ZM737.8 900.8V891.3H739.3V900.8ZM739.3 900.8V893.6H740.8V900.8ZM740.8 900.8V894.0H741.8V900.8ZM741.8 900.8V893.8H742.8V900.8ZM742.8 900.8V893.4H744.8V900.8ZM744.8 900.8V893.8H745.2V900.8ZM745.2 900.8V889.5H747.2V900.8ZM747.2 900.8V888.7H748.2V900.8ZM748.2 900.8V889.5H749.2V900.8ZM749.2 900.8V890.0H749.3V900.8ZM749.3 900.8V899.6H750.3V900.8ZM750.3 900.8V899.4H751.8V900.8ZM751.8 900.8V899.5H753.3V900.8ZM753.3 900.8V899.5H753.5V900.8ZM753.5 900.8V888.5H755.0V900.8ZM755.0 900.8V890.1H756.5V900.8ZM756.5 900.8V885.9H757.6V900.8ZM757.6 900.8V895.8H758.6V900.8ZM758.6 900.8V896.1H759.6V900.8ZM759.6 900.8V896.8H761.6V900.8ZM761.6 900.8V897.1H763.1V900.8ZM763.1 900.8V895.7H764.6V900.8ZM764.6 900.8V897.1H766.6V900.8ZM766.6 900.8V896.1H768.0V900.8ZM768.0 900.8V894.2H769.0V900.8ZM769.0 900.8V892.8H770.0V900.8ZM774.2 900.8V894.5H775.7V900.8ZM775.7 900.8V892.9H776.3V900.8ZM792.9 900.8V898.1H794.9V900.8ZM794.9 900.8V898.5H796.9V900.8ZM796.9 900.8V898.6H798.9V900.8ZM798.9 900.8V898.2H799.0V900.8ZM799.0 900.8V897.9H800.5V900.8ZM800.5 900.8V897.9H802.5V900.8ZM802.5 900.8V897.3H803.0V900.8ZM803.0 900.8V899.2H804.5V900.8ZM804.5 900.8V899.0H806.0V900.8ZM806.0 900.8V899.3H807.4V900.8ZM807.4 900.8V889.1H809.4V900.8ZM809.4 900.8V889.2H810.4V900.8ZM810.4 900.8V889.6H810.5V900.8ZM810.5 900.8V895.8H811.5V900.8ZM811.5 900.8V896.1H812.6V900.8ZM820.0 900.8V898.6H821.0V900.8ZM821.0 900.8V898.7H823.0V900.8ZM823.0 900.8V899.1H824.0V900.8ZM824.0 900.8V898.9H825.0V900.8ZM825.0 900.8V898.8H826.0V900.8ZM829.0 900.8V897.2H830.5V900.8ZM830.5 900.8V898.4H832.0V900.8ZM832.0 900.8V897.3H833.0V900.8ZM837.0 900.8V898.8H838.0V900.8ZM838.0 900.8V899.1H840.0V900.8ZM840.0 900.8V898.6H842.0V900.8ZM842.0 900.8V899.1H843.5V900.8ZM843.5 900.8V899.1H844.5V900.8ZM844.5 900.8V899.0H844.8V900.8ZM847.9 900.8V899.3H849.0V900.8ZM849.0 900.8V892.9H850.0V900.8ZM850.0 900.8V891.4H851.5V900.8ZM851.5 900.8V892.6H853.0V900.8ZM853.0 900.8V898.6H854.5V900.8ZM854.5 900.8V898.8H856.0V900.8ZM860.0 900.8V897.9H861.0V900.8ZM861.0 900.8V897.8H862.0V900.8ZM862.0 900.8V897.2H863.0V900.8ZM863.0 900.8V897.6H864.0V900.8ZM868.0 900.8V897.8H869.5V900.8ZM869.5 900.8V896.7H871.0V900.8ZM871.0 900.8V897.4H872.0V900.8ZM872.0 900.8V898.9H874.0V900.8ZM874.0 900.8V898.9H875.5V900.8ZM875.5 900.8V899.0H876.4V900.8Z" fill="#243f98"/>
<rect x="331" y="900.0" width="545" height="1.6" fill="#243f98"/>
<text transform="translate(493.22,943.80) scale(1.0138,1)" font-size="28.36" style="font-family:'Liberation Sans', sans-serif;" fill="#000" >37,232,257</text>
<text transform="translate(697.22,945.70) scale(1.0112,1)" font-size="28.36" style="font-family:'Liberation Sans', sans-serif;" fill="#000" >37,233,100</text>
<rect x="270.4" y="965.6" width="51.8" height="16.5" fill="#0c1f88"/>
<text transform="translate(272.49,980.40) scale(1.0378,1)" font-size="18.81" style="font-family:'Liberation Mono', monospace;font-weight:bold;" fill="#fff" >I121</text>
<rect x="557.8" y="960" width="166.3" height="32.6" fill="#d4d4d4"/>
<rect x="645.8000000000001" y="961" width="1.8" height="25" fill="#c8cde8"/>
<rect x="671.0" y="961" width="1.8" height="25" fill="#c8cde8"/>
<rect x="696.1" y="961" width="1.8" height="25" fill="#c8cde8"/>
<line x1="329" y1="974.4" x2="640" y2="974.4" stroke="#0c1f88" stroke-width="1.8" />
<line x1="329.5" y1="969" x2="329.5" y2="980" stroke="#0c1f88" stroke-width="1.8" />
<path d="M339.5 971L336.5 974.4L339.5 977.8M350.0 971L347.0 974.4L350.0 977.8M360.5 971L357.5 974.4L360.5 977.8M371.0 971L368.0 974.4L371.0 977.8M381.5 971L378.5 974.4L381.5 977.8M392.0 971L389.0 974.4L392.0 977.8M402.5 971L399.5 974.4L402.5 977.8M413.0 971L410.0 974.4L413.0 977.8M423.5 971L420.5 974.4L423.5 977.8M434.0 971L431.0 974.4L434.0 977.8M444.5 971L441.5 974.4L444.5 977.8M455.0 971L452.0 974.4L455.0 977.8M465.5 971L462.5 974.4L465.5 977.8M476.0 971L473.0 974.4L476.0 977.8M486.5 971L483.5 974.4L486.5 977.8M497.0 971L494.0 974.4L497.0 977.8M507.5 971L504.5 974.4L507.5 977.8M518.0 971L515.0 974.4L518.0 977.8M528.5 971L525.5 974.4L528.5 977.8M539.0 971L536.0 974.4L539.0 977.8M549.5 971L546.5 974.4L549.5 977.8M560.0 971L557.0 974.4L560.0 977.8M581.0 971L578.0 974.4L581.0 977.8M591.5 971L588.5 974.4L591.5 977.8" fill="none" stroke="#0c1f88" stroke-width="1.1" opacity="0.6"/>
<rect x="566.4" y="965.6" width="5.5" height="18.2" fill="#0c1f88"/>
<rect x="596" y="965.6" width="28.7" height="18.2" fill="#0c1f88"/>
<rect x="624.7" y="970" width="14.6" height="9.3" fill="#0c1f88"/>
<rect x="557.8" y="960" width="166.3" height="32.6" fill="none" stroke="#000" stroke-width="2.6"/>
<path d="M557 993.5 L341.5 1083.5 M725 993.5 L508.5 1083.5" stroke="#000" stroke-width="1.5" stroke-dasharray="6,4" fill="none"/>
<line x1="281" y1="1098.6" x2="341" y2="1098.6" stroke="#000" stroke-width="2.6" />
<line x1="508" y1="1098.6" x2="559" y2="1098.6" stroke="#000" stroke-width="2.6" />
<line x1="726" y1="1098.6" x2="795.6" y2="1098.6" stroke="#000" stroke-width="2.6" />
<rect x="341.9" y="1084.3" width="165.9" height="32.2" fill="#b2b2b2" stroke="#000" stroke-width="2.6"/>
<rect x="560.6" y="1084.3" width="164.4" height="31.8" fill="#88d85c" stroke="#000" stroke-width="2.6"/>
<text transform="translate(18.73,1111.10) scale(0.9611,1)" font-size="33.16" style="font-family:'Liberation Sans', sans-serif;" fill="#000" >pGL3-basic vector</text>
<text transform="translate(310.75,1157.00) scale(1.0999,1)" font-size="30.62" style="font-family:'Liberation Sans', sans-serif;font-style:italic;" fill="#000" >Il21</text>
<text transform="translate(373.34,1157.00) scale(0.9787,1)" font-size="35.45" style="font-family:'Liberation Sans', sans-serif;" fill="#000" >promoter</text>
<text transform="translate(545.70,1159.70) scale(0.9358,1)" font-size="35.45" style="font-family:'Liberation Sans', sans-serif;" fill="#000" >firefly luciferase</text>
<text transform="translate(-1.67,1226.76) scale(1.0044,1)" font-size="41.60" style="font-family:'Liberation Sans', sans-serif;font-weight:bold;" fill="#000" >g</text>
<text transform="translate(269.35,1226.00) scale(1.1874,1)" font-size="33.10" style="font-family:'Liberation Sans', sans-serif;" fill="#000" >nil</text>
<line x1="103.2" y1="1234.4" x2="476" y2="1234.4" stroke="#000" stroke-width="3" />
<text transform="translate(727.84,1225.02) scale(1.0383,1)" font-size="32.17" style="font-family:'Liberation Sans', sans-serif;" fill="#000" >Leptin</text>
<line x1="594" y1="1234.8" x2="966.3" y2="1234.8" stroke="#000" stroke-width="3" />
<text transform="translate(60.64,1269.31) scale(0.9770,1)" font-size="29.12" style="font-family:'Liberation Sans', sans-serif;font-style:italic;" fill="#000" >Cd4-Cre:Stat3</text>
<text transform="translate(240.71,1260.93) scale(1.4370,1)" font-size="16.60" style="font-family:'Liberation Sans', sans-serif;font-style:italic;" fill="#000" >+/+</text>
<text transform="translate(305.32,1269.41) scale(0.9841,1)" font-size="29.12" style="font-family:'Liberation Sans', sans-serif;font-style:italic;" fill="#000" >Cd4-Cre:Stat3</text>
<text transform="translate(487.66,1259.71) scale(1.3313,1)" font-size="19.32" style="font-family:'Liberation Sans', sans-serif;font-style:italic;" fill="#000" >fl/fl</text>
<text transform="translate(549.92,1270.40) scale(0.9497,1)" font-size="30.20" style="font-family:'Liberation Sans', sans-serif;font-style:italic;" fill="#000" >Cd4-Cre:Stat3</text>
<text transform="translate(732.15,1260.93) scale(1.2986,1)" font-size="16.60" style="font-family:'Liberation Sans', sans-serif;font-style:italic;" fill="#000" >+/+</text>
<text transform="translate(790.61,1270.40) scale(0.9565,1)" font-size="30.20" style="font-family:'Liberation Sans', sans-serif;font-style:italic;" fill="#000" >Cd4-Cre:Stat3</text>
<text transform="translate(974.74,1259.71) scale(1.2129,1)" font-size="19.32" style="font-family:'Liberation Sans', sans-serif;font-style:italic;" fill="#000" >fl/fl</text>
<rect x="60.8" y="1282.5" width="216.3" height="215.70000000000005" fill="none" stroke="#555" stroke-width="1.1"/>
<path d="M57.8 1308.2H60.8M57.8 1300.2H60.8M57.8 1294.6H60.8M57.8 1290.2H60.8M57.8 1286.7H60.8M57.8 1283.7H60.8M57.8 1352.9H60.8M57.8 1345.1H60.8M57.8 1339.5H60.8M57.8 1335.2H60.8M57.8 1331.6H60.8M57.8 1328.6H60.8M57.8 1326.0H60.8M57.8 1323.7H60.8M57.8 1402.0H60.8M57.8 1393.1H60.8M57.8 1386.7H60.8M57.8 1381.8H60.8M57.8 1377.7H60.8M57.8 1374.3H60.8M57.8 1371.3H60.8M57.8 1368.7H60.8M55.8 1321.7H60.8M55.8 1366.4H60.8M55.8 1417.4H60.8M57.8 1432.5H60.8M57.8 1442.5H60.8M57.8 1450.5H60.8M57.8 1468.5H60.8M57.8 1477.5H60.8M57.8 1487.5H60.8M57.8 1496.5H60.8M158.4 1498.2V1501.2M167.0 1498.2V1501.2M173.2 1498.2V1501.2M177.9 1498.2V1501.2M181.8 1498.2V1501.2M185.1 1498.2V1501.2M187.9 1498.2V1501.2M190.5 1498.2V1501.2M205.9 1498.2V1501.2M213.6 1498.2V1501.2M219.1 1498.2V1501.2M223.3 1498.2V1501.2M226.8 1498.2V1501.2M229.7 1498.2V1501.2M232.3 1498.2V1501.2M234.5 1498.2V1501.2M249.8 1498.2V1501.2M257.6 1498.2V1501.2M263.2 1498.2V1501.2M267.5 1498.2V1501.2M271.0 1498.2V1501.2M273.9 1498.2V1501.2M143.6 1498.2V1503.7M192.7 1498.2V1503.7M236.5 1498.2V1503.7M64.8 1498.2V1501.2M70.8 1498.2V1501.2M76.8 1498.2V1501.2M107.8 1498.2V1501.2M116.8 1498.2V1501.2M124.8 1498.2V1501.2M132.8 1498.2V1501.2" stroke="#333" stroke-width="1" fill="none"/>
<rect x="86.8" y="1498.7" width="17" height="4" fill="#111"/>
<rect x="55.3" y="1453.0" width="5" height="13" fill="#111"/>
<text transform="translate(36.93,1327.82) scale(1.2596,1)" font-size="8.20" style="font-family:'Liberation Sans', sans-serif;" fill="#222" >10</text>
<text transform="translate(48.18,1322.03) scale(1.0731,1)" font-size="7.46" style="font-family:'Liberation Sans', sans-serif;" fill="#222" >5</text>
<text transform="translate(36.93,1372.52) scale(1.2596,1)" font-size="8.20" style="font-family:'Liberation Sans', sans-serif;" fill="#222" >10</text>
<text transform="translate(48.33,1366.80) scale(0.9949,1)" font-size="7.56" style="font-family:'Liberation Sans', sans-serif;" fill="#222" >4</text>
<text transform="translate(36.93,1423.52) scale(1.2596,1)" font-size="8.20" style="font-family:'Liberation Sans', sans-serif;" fill="#222" >10</text>
<text transform="translate(48.20,1417.73) scale(1.0885,1)" font-size="7.35" style="font-family:'Liberation Sans', sans-serif;" fill="#222" >3</text>
<text transform="translate(40.62,1461.83) scale(1.3074,1)" font-size="7.21" style="font-family:'Liberation Sans', sans-serif;" fill="#222" >0</text>
<text transform="translate(139.30,1523.22) scale(1.1993,1)" font-size="7.77" style="font-family:'Liberation Sans', sans-serif;" fill="#222" >10</text>
<text transform="translate(149.42,1516.62) scale(0.9407,1)" font-size="8.06" style="font-family:'Liberation Sans', sans-serif;" fill="#222" >3</text>
<text transform="translate(188.40,1523.22) scale(1.1993,1)" font-size="7.77" style="font-family:'Liberation Sans', sans-serif;" fill="#222" >10</text>
<text transform="translate(198.64,1516.70) scale(0.8598,1)" font-size="8.29" style="font-family:'Liberation Sans', sans-serif;" fill="#222" >4</text>
<text transform="translate(232.20,1523.22) scale(1.1993,1)" font-size="7.77" style="font-family:'Liberation Sans', sans-serif;" fill="#222" >10</text>
<text transform="translate(242.30,1516.62) scale(0.9274,1)" font-size="8.17" style="font-family:'Liberation Sans', sans-serif;" fill="#222" >5</text>
<text transform="translate(93.05,1523.22) scale(1.1315,1)" font-size="7.77" style="font-family:'Liberation Sans', sans-serif;" fill="#222" >0</text>
<path d="M94 1289.5h1M123 1309.5h1M61 1312.5h1M118 1320.5h1m37 0h1m25 0h1M113 1322.5h1m29 0h1m6 0h1m25 0h1m41 0h1M133 1323.5h1M170 1325.5h1m21 0h1M152 1326.5h1m34 0h1m5 0h2M114 1328.5h1m116 0h1M174 1329.5h1M158 1332.5h1M117 1333.5h1M211 1334.5h1m13 0h1M228 1335.5h1M111 1336.5h1m18 0h1m11 0h1M129 1337.5h1m31 0h1M112 1339.5h1m21 0h1M113 1340.5h2m51 0h1M173 1341.5h1m33 0h1m19 0h2M189 1342.5h1m8 0h1M155 1344.5h1m13 0h1m25 0h1m79 0h1M112 1345.5h1m117 0h1M164 1347.5h1m45 0h1M112 1348.5h1m78 0h1m6 0h1M122 1349.5h1M183 1351.5h1M126 1352.5h1M117 1353.5h1m70 0h1M147 1354.5h1m80 0h1M80 1355.5h1m148 0h1m19 0h1M168 1356.5h1m30 0h2M135 1357.5h1m7 0h1m28 0h1m58 0h1M130 1358.5h1m21 0h1m8 0h1m34 0h1m5 0h1M223 1359.5h1M109 1360.5h1m107 0h1m2 0h1M159 1361.5h1M161 1362.5h1m23 0h1m1 0h1m14 0h1m5 0h1M146 1363.5h1m2 0h1m20 0h1m19 0h1m10 0h1m18 0h1m3 0h1m6 0h2M168 1364.5h1m6 0h1m27 0h1m11 0h1m4 0h1M179 1365.5h1m30 0h1M169 1366.5h1m3 0h1m6 0h1m14 0h1m1 0h1m1 0h1m1 0h1m19 0h1m2 0h1m15 0h1M154 1367.5h1m9 0h1m4 0h1m6 0h1m12 0h1m20 0h1M176 1368.5h1m4 0h1m15 0h1m6 0h1m31 0h1m9 0h1M116 1369.5h1m31 0h1m14 0h1m7 0h1m18 0h1m9 0h2m12 0h1m2 0h1m1 0h1m13 0h1m25 0h1M113 1370.5h1m39 0h1m4 0h1m5 0h1m1 0h1m8 0h1m8 0h2m10 0h1m5 0h1m10 0h1m3 0h1m12 0h1m2 0h1M171 1371.5h1m15 0h1m28 0h1m1 0h1m17 0h1M136 1372.5h1m56 0h1m5 0h2m1 0h1m5 0h1m3 0h1m1 0h2m4 0h1m21 0h1M117 1373.5h1m42 0h1m5 0h1m5 0h1m7 0h2m8 0h2m1 0h1m1 0h1m3 0h2m7 0h1m18 0h1m1 0h1m2 0h2M117 1374.5h1m19 0h1m4 0h1m29 0h3m13 0h2m5 0h1m2 0h1m2 0h1m11 0h1m8 0h1m1 0h1M169 1375.5h1m6 0h1m2 0h1m1 0h1m11 0h1m1 0h2m9 0h1m7 0h1m8 0h1m13 0h1M132 1376.5h1m31 0h1m2 0h1m8 0h1m4 0h1m3 0h1m4 0h1m7 0h1m3 0h1m7 0h1m2 0h1m2 0h1m1 0h2m4 0h2m2 0h1M155 1377.5h1m22 0h1m6 0h2m2 0h3m2 0h1m3 0h1m6 0h1m1 0h1m3 0h1m3 0h1m2 0h1m7 0h1m1 0h1m13 0h2m6 0h1m1 0h1M132 1378.5h1m1 0h1m9 0h1m9 0h2m9 0h1m4 0h1m14 0h1m6 0h2m1 0h2m2 0h1m5 0h1m1 0h1m7 0h1m5 0h1m2 0h1m22 0h1M134 1379.5h1m18 0h1m8 0h1m8 0h1m6 0h1m2 0h1m8 0h2m1 0h1m1 0h1m1 0h1m16 0h1m2 0h1m11 0h1M142 1380.5h1m15 0h1m3 0h1m2 0h2m3 0h1m5 0h1m1 0h2m6 0h1m6 0h2m1 0h2m1 0h1m1 0h1m3 0h1m4 0h1m1 0h1m5 0h1m2 0h1M104 1381.5h1m12 0h1m31 0h1m1 0h1m10 0h1m3 0h1m2 0h1m1 0h1m5 0h1m7 0h1m1 0h1m7 0h1m2 0h1m1 0h2m2 0h1m1 0h1m4 0h1m2 0h2m4 0h1m2 0h1m4 0h1m3 0h1m11 0h1M105 1382.5h1m25 0h1m10 0h1m16 0h2m1 0h1m11 0h1m7 0h1m2 0h3m1 0h1m1 0h1m1 0h1m1 0h1m1 0h1m1 0h1m1 0h3m1 0h2m2 0h1m3 0h1m1 0h3m1 0h2m1 0h1m3 0h1m9 0h2m10 0h1m5 0h1m4 0h1M125 1383.5h1m6 0h1m2 0h1m4 0h1m3 0h1m4 0h1m1 0h1m2 0h1m1 0h2m6 0h1m4 0h2m3 0h2m3 0h1m10 0h1m2 0h2m2 0h1m1 0h1m1 0h2m1 0h1m1 0h4m2 0h1m4 0h1m1 0h1m1 0h3m4 0h1m2 0h1m5 0h1m5 0h1m4 0h1M135 1384.5h1m7 0h1m1 0h1m12 0h1m4 0h1m2 0h1m2 0h2m1 0h1m1 0h6m1 0h1m3 0h1m5 0h10m2 0h1m2 0h3m2 0h1m3 0h1m8 0h1m2 0h2M113 1385.5h1m14 0h1m11 0h2m5 0h1m1 0h1m3 0h1m1 0h1m2 0h1m5 0h1m5 0h1m2 0h1m1 0h2m1 0h1m1 0h1m2 0h1m1 0h4m8 0h1m2 0h4m2 0h1m1 0h2m3 0h1m1 0h1m2 0h1m4 0h2m25 0h1M117 1386.5h1m28 0h1m5 0h1m1 0h1m1 0h1m1 0h2m2 0h1m1 0h1m2 0h3m2 0h1m1 0h2m2 0h1m5 0h2m2 0h2m1 0h4m1 0h2m1 0h1m2 0h1m1 0h1m4 0h1m1 0h1m3 0h2m2 0h2m8 0h1m5 0h1m3 0h1M105 1387.5h1m22 0h1m3 0h2m5 0h2m1 0h1m1 0h1m7 0h1m3 0h2m2 0h1m1 0h2m1 0h2m4 0h1m1 0h2m2 0h1m2 0h1m2 0h4m1 0h8m1 0h2m1 0h5m1 0h2m1 0h1m2 0h1m3 0h1m2 0h4m1 0h1m1 0h1m2 0h2m7 0h2M114 1388.5h1m18 0h1m1 0h1m1 0h1m4 0h1m13 0h3m1 0h1m2 0h2m1 0h1m1 0h1m7 0h12m3 0h2m2 0h5m1 0h3m1 0h2m4 0h1m1 0h1m3 0h2m2 0h1m1 0h1m2 0h1m4 0h1m6 0h1M112 1389.5h1m13 0h1m2 0h1m1 0h1m1 0h1m15 0h1m1 0h1m2 0h3m2 0h1m3 0h1m2 0h2m1 0h1m7 0h2m1 0h7m2 0h2m1 0h3m2 0h3m2 0h1m1 0h3m1 0h2m13 0h1m15 0h1m3 0h1m22 0h1M133 1390.5h1m4 0h1m3 0h1m3 0h1m7 0h1m3 0h5m1 0h2m2 0h2m1 0h1m1 0h5m3 0h1m1 0h6m2 0h9m1 0h2m1 0h2m1 0h1m1 0h2m2 0h2m1 0h1m4 0h2m1 0h1m2 0h3m1 0h1m1 0h1M88 1391.5h1m22 0h1m5 0h1m7 0h1m17 0h1m4 0h1m12 0h5m1 0h5m1 0h1m1 0h6m3 0h2m1 0h4m2 0h1m2 0h1m1 0h2m3 0h2m1 0h2m1 0h1m1 0h2m11 0h1m10 0h2m8 0h1M136 1392.5h1m5 0h1m7 0h1m5 0h2m5 0h1m3 0h1m1 0h1m1 0h11m3 0h1m1 0h2m1 0h1m1 0h4m2 0h4m2 0h2m2 0h3m4 0h1m4 0h1m1 0h1m1 0h1m1 0h1m2 0h1m4 0h1m6 0h1m1 0h1m4 0h1M105 1393.5h1m32 0h1m10 0h1m1 0h1m1 0h1m2 0h2m2 0h1m2 0h2m4 0h2m1 0h2m1 0h8m2 0h4m1 0h6m1 0h2m1 0h6m2 0h2m2 0h2m2 0h2m1 0h1m2 0h3m1 0h1m13 0h1m6 0h1m4 0h1m2 0h1M128 1394.5h1m15 0h1m2 0h1m1 0h1m1 0h2m4 0h2m1 0h1m2 0h7m1 0h1m1 0h1m2 0h2m1 0h22m1 0h4m5 0h1m2 0h2m1 0h1m2 0h1m5 0h1m1 0h1m1 0h1M116 1395.5h1m1 0h1m2 0h1m1 0h1m9 0h1m1 0h1m4 0h1m6 0h1m2 0h1m5 0h1m3 0h1m3 0h5m1 0h1m1 0h22m1 0h8m1 0h2m3 0h7m1 0h4m1 0h3m1 0h3m2 0h1m3 0h1m2 0h1m2 0h1M102 1396.5h2m5 0h1m11 0h1m2 0h1m1 0h1m2 0h1m2 0h1m2 0h2m3 0h1m2 0h1m1 0h2m1 0h2m1 0h3m1 0h3m3 0h2m2 0h2m1 0h2m1 0h5m1 0h26m1 0h3m1 0h2m1 0h1m1 0h1m1 0h3m1 0h1m2 0h1m1 0h1m6 0h1M112 1397.5h1m12 0h1m13 0h4m1 0h2m1 0h1m2 0h2m1 0h2m2 0h1m1 0h2m1 0h1m3 0h10m1 0h3m1 0h21m1 0h1m1 0h2m1 0h1m1 0h1m5 0h2m4 0h1m2 0h1m1 0h1m16 0h1M103 1398.5h1m32 0h1m2 0h1m3 0h2m3 0h2m2 0h1m1 0h2m3 0h2m1 0h3m1 0h3m2 0h2m2 0h4m1 0h21m1 0h1m1 0h4m4 0h1m1 0h1m2 0h3m3 0h1m6 0h1m15 0h1M129 1399.5h1m3 0h1m4 0h1m5 0h1m3 0h2m3 0h2m1 0h2m1 0h1m2 0h3m1 0h2m1 0h6m1 0h31m1 0h3m1 0h2m5 0h1m12 0h2m3 0h1m12 0h1M110 1400.5h1m5 0h1m10 0h1m1 0h1m2 0h1m3 0h2m5 0h1m5 0h2m1 0h1m3 0h3m1 0h2m2 0h3m1 0h5m1 0h30m1 0h4m1 0h8m2 0h3m3 0h1m5 0h1m11 0h1M112 1401.5h1m6 0h1m4 0h1m3 0h1m3 0h1m10 0h3m1 0h3m1 0h1m1 0h2m2 0h5m1 0h1m1 0h4m1 0h3m1 0h29m1 0h4m2 0h4m5 0h1m1 0h1m1 0h1m4 0h1m7 0h1m9 0h1M114 1402.5h1m9 0h1m2 0h4m2 0h1m2 0h3m3 0h4m1 0h2m3 0h3m2 0h8m1 0h45m1 0h2m1 0h1m1 0h2m1 0h1m2 0h1m1 0h1m3 0h2m4 0h1m1 0h1m32 0h1M119 1403.5h1m4 0h1m3 0h1m2 0h2m2 0h1m1 0h2m1 0h1m2 0h1m1 0h3m1 0h1m3 0h10m1 0h9m1 0h31m1 0h2m1 0h10m1 0h1m1 0h1m2 0h1m10 0h1M120 1404.5h1m2 0h1m2 0h2m3 0h1m2 0h2m2 0h1m3 0h1m1 0h1m2 0h4m1 0h11m1 0h29m1 0h12m1 0h11m5 0h1M107 1405.5h1m1 0h1m13 0h1m2 0h2m1 0h1m3 0h2m5 0h1m1 0h5m1 0h2m2 0h1m2 0h2m2 0h5m1 0h44m1 0h3m1 0h2m1 0h3m2 0h1m4 0h1m8 0h1m2 0h1m2 0h1m21 0h1M110 1406.5h2m8 0h1m1 0h1m10 0h2m1 0h2m5 0h1m1 0h1m1 0h3m1 0h2m1 0h2m1 0h2m1 0h1m1 0h19m1 0h17m1 0h14m1 0h2m4 0h1m5 0h1m1 0h1m1 0h1m6 0h1m13 0h1M119 1407.5h1m4 0h1m3 0h3m8 0h2m2 0h3m4 0h1m1 0h6m1 0h2m1 0h53m1 0h6m15 0h1m3 0h1m28 0h1M106 1408.5h1m4 0h1m5 0h2m7 0h1m1 0h2m1 0h1m3 0h2m2 0h1m2 0h2m1 0h2m2 0h1m1 0h1m2 0h1m1 0h4m1 0h1m1 0h6m1 0h46m1 0h1m1 0h1m1 0h1m1 0h1m9 0h1m32 0h1M100 1409.5h1m18 0h1m2 0h1m5 0h1m2 0h1m2 0h1m2 0h2m2 0h1m3 0h1m3 0h1m1 0h1m1 0h37m2 0h9m1 0h13m2 0h2m1 0h1m2 0h2m1 0h2m1 0h1M111 1410.5h1m6 0h1m1 0h1m2 0h1m4 0h2m1 0h2m2 0h1m1 0h1m4 0h4m2 0h1m2 0h5m1 0h27m13 0h15m1 0h1m1 0h2m4 0h2m1 0h5m2 0h1m12 0h1M116 1411.5h1m1 0h1m1 0h1m3 0h3m4 0h1m3 0h1m1 0h1m2 0h1m1 0h2m1 0h12m1 0h3m1 0h6m1 0h13m17 0h17m2 0h5m9 0h1M116 1412.5h1m3 0h1m1 0h1m1 0h2m1 0h3m2 0h3m2 0h2m4 0h11m1 0h20m1 0h3m22 0h15m2 0h1m4 0h2m2 0h1m1 0h1m1 0h1m2 0h1m4 0h1M100 1413.5h1m13 0h1m3 0h1m1 0h1m2 0h1m3 0h4m1 0h6m1 0h3m1 0h5m2 0h4m2 0h17m1 0h2m27 0h13m1 0h1m2 0h2m6 0h1M104 1414.5h1m1 0h2m6 0h4m1 0h3m2 0h1m1 0h2m1 0h1m1 0h8m2 0h2m2 0h28m32 0h14m2 0h5m1 0h1m1 0h2m1 0h1m1 0h1M108 1415.5h1m9 0h2m4 0h1m2 0h1m3 0h2m1 0h3m1 0h5m1 0h26m36 0h10m1 0h1m1 0h1m1 0h4m1 0h3m2 0h1m5 0h1m2 0h1M92 1416.5h1m8 0h1m4 0h1m3 0h2m1 0h1m1 0h4m1 0h2m1 0h2m1 0h1m1 0h2m2 0h1m1 0h2m1 0h4m1 0h25m41 0h12m1 0h1m5 0h1m1 0h1m3 0h1m11 0h1m8 0h1M100 1417.5h1m4 0h1m1 0h1m2 0h1m6 0h1m1 0h1m2 0h3m1 0h14m1 0h23m45 0h9m1 0h3m1 0h9m2 0h2m7 0h1M92 1418.5h1m5 0h1m4 0h1m3 0h1m1 0h1m2 0h2m2 0h2m1 0h1m1 0h5m1 0h3m1 0h4m1 0h18m1 0h5m50 0h11m1 0h1m1 0h4m1 0h1m4 0h2m8 0h1m18 0h1M102 1419.5h1m2 0h1m3 0h1m3 0h5m1 0h7m2 0h5m1 0h4m1 0h18m55 0h12m1 0h7m2 0h1m2 0h1M98 1420.5h3m5 0h1m2 0h1m1 0h1m1 0h1m1 0h4m1 0h4m3 0h26m60 0h10m2 0h3m1 0h1m8 0h2m1 0h1m2 0h2M90 1421.5h1m7 0h1m2 0h2m3 0h1m2 0h1m2 0h1m2 0h2m3 0h5m1 0h7m1 0h15m65 0h18m1 0h1m1 0h1m23 0h1M85 1422.5h1m7 0h1m4 0h2m1 0h1m1 0h1m2 0h1m2 0h3m2 0h5m1 0h1m1 0h1m1 0h14m1 0h6m70 0h8m1 0h1m1 0h1m1 0h5m1 0h1m1 0h2m1 0h1M93 1423.5h2m12 0h8m1 0h1m1 0h6m1 0h4m1 0h11m75 0h8m1 0h3m2 0h2m2 0h1m3 0h1M91 1424.5h1m2 0h1m6 0h2m1 0h1m1 0h2m3 0h1m1 0h10m1 0h4m1 0h8m80 0h8m2 0h2m1 0h2m1 0h1m5 0h1m1 0h1m11 0h1M93 1425.5h1m5 0h1m1 0h2m1 0h3m1 0h2m1 0h1m1 0h20m85 0h2m1 0h3m1 0h2m1 0h8m1 0h1m9 0h1M86 1426.5h1m9 0h1m6 0h1m2 0h4m1 0h2m1 0h6m1 0h9m89 0h6m1 0h6m1 0h1m2 0h2M90 1427.5h1m2 0h1m1 0h2m1 0h5m1 0h1m1 0h1m2 0h2m2 0h14m93 0h8m2 0h6m2 0h2M100 1428.5h5m1 0h14m2 0h3m96 0h10m1 0h1M95 1429.5h1m1 0h1m1 0h2m1 0h2m1 0h2m1 0h3m1 0h10m99 0h2m1 0h6m1 0h1m3 0h1m3 0h1m3 0h1M74 1430.5h1m13 0h1m12 0h2m2 0h1m1 0h3m1 0h6m1 0h2m102 0h8m1 0h1m1 0h4M92 1431.5h1m2 0h1m2 0h1m1 0h2m1 0h3m3 0h9m104 0h8m2 0h1m1 0h2m3 0h1m2 0h1M89 1432.5h1m3 0h1m2 0h1m3 0h2m1 0h13m107 0h5m1 0h5m1 0h1m7 0h1m7 0h1M82 1433.5h1m7 0h1m2 0h1m1 0h4m2 0h14m108 0h8m1 0h1m5 0h2m5 0h1M80 1434.5h2m10 0h1m1 0h1m3 0h16m110 0h5m1 0h2m1 0h1m3 0h1M86 1435.5h1m4 0h1m2 0h1m2 0h1m1 0h3m1 0h9m112 0h5m1 0h1m1 0h2m2 0h1m9 0h1M73 1436.5h1m19 0h1m1 0h2m1 0h2m1 0h10m113 0h6m2 0h4m6 0h1m13 0h1M90 1437.5h1m2 0h2m6 0h3m1 0h6m113 0h11m1 0h3m1 0h1m1 0h1m11 0h1M86 1438.5h1m6 0h1m1 0h5m1 0h4m1 0h4m115 0h3m4 0h5M89 1439.5h1m6 0h1m1 0h2m1 0h3m1 0h4m116 0h7m1 0h8m1 0h1m6 0h1M87 1440.5h2m3 0h1m3 0h1m1 0h2m2 0h7m116 0h4m1 0h1m1 0h3m2 0h1m1 0h1m8 0h1M80 1441.5h1m10 0h1m2 0h2m1 0h1m1 0h1m2 0h6m117 0h6m1 0h2m3 0h1m3 0h1M81 1442.5h1m3 0h2m1 0h1m2 0h2m2 0h1m1 0h1m1 0h9m117 0h8m1 0h1m2 0h2m1 0h2m1 0h1m15 0h1M84 1443.5h2m1 0h1m4 0h1m1 0h4m1 0h8m118 0h10m1 0h1m4 0h1m7 0h1M87 1444.5h1m3 0h1m6 0h9m117 0h2m1 0h5m2 0h1m2 0h2M87 1445.5h1m2 0h1m3 0h6m2 0h5m117 0h6m1 0h3m1 0h1m1 0h1m4 0h2M87 1446.5h1m1 0h1m1 0h1m4 0h10m117 0h6m1 0h3m6 0h2m2 0h1m5 0h1m1 0h1M78 1447.5h1m9 0h4m1 0h1m3 0h9m116 0h9m3 0h3m4 0h1m13 0h1M84 1448.5h1m9 0h1m3 0h1m1 0h6m115 0h16m3 0h1m2 0h1M80 1449.5h1m2 0h1m1 0h1m3 0h1m1 0h1m4 0h1m1 0h9m113 0h13m1 0h2m1 0h1m4 0h1M82 1450.5h1m3 0h1m2 0h2m2 0h5m2 0h7m111 0h7m1 0h3m1 0h2m8 0h1m10 0h1M86 1451.5h2m3 0h1m1 0h2m1 0h7m1 0h1m1 0h1m109 0h7m2 0h4m1 0h1m3 0h1m4 0h2m3 0h1m9 0h1M80 1452.5h1m9 0h1m2 0h3m1 0h1m1 0h2m1 0h5m106 0h21m2 0h2m3 0h2M80 1453.5h2m1 0h1m3 0h1m2 0h1m2 0h1m1 0h13m102 0h21m1 0h5m3 0h2M93 1454.5h2m5 0h1m2 0h5m99 0h18m1 0h5m4 0h3m11 0h1M92 1455.5h1m1 0h2m1 0h4m2 0h6m94 0h14m3 0h6m6 0h3m1 0h1m3 0h1M85 1456.5h1m3 0h2m2 0h1m1 0h8m1 0h5m90 0h17m2 0h13m1 0h1m2 0h1m1 0h1m1 0h1M87 1457.5h2m1 0h1m5 0h2m1 0h11m85 0h25m1 0h5m1 0h2m1 0h1m4 0h1m9 0h1m4 0h1M87 1458.5h2m3 0h1m5 0h2m1 0h3m1 0h6m79 0h25m1 0h1m1 0h2m1 0h4m1 0h1m1 0h2m3 0h1M90 1459.5h2m4 0h2m1 0h1m1 0h11m73 0h31m2 0h1m3 0h1m2 0h1m1 0h4m31 0h1M83 1460.5h1m10 0h2m1 0h4m1 0h1m1 0h1m1 0h7m67 0h18m1 0h4m1 0h9m1 0h2m1 0h5m5 0h2m1 0h1m3 0h1M94 1461.5h1m1 0h1m1 0h4m1 0h9m2 0h1m59 0h15m1 0h8m1 0h8m1 0h2m2 0h1m2 0h8m1 0h1m2 0h2m1 0h2m1 0h2m4 0h1M89 1462.5h4m5 0h1m1 0h2m1 0h2m1 0h12m49 0h21m1 0h3m1 0h5m1 0h1m1 0h11m1 0h2m1 0h1m2 0h3m12 0h1M63 1463.5h1m21 0h1m4 0h1m5 0h1m1 0h2m1 0h5m1 0h7m1 0h6m39 0h9m1 0h14m1 0h9m1 0h2m1 0h3m3 0h11m2 0h1m1 0h1m19 0h1M82 1464.5h1m3 0h1m11 0h1m2 0h5m1 0h20m25 0h21m1 0h1m1 0h7m2 0h12m1 0h3m1 0h4m1 0h2m1 0h1m1 0h2m1 0h1m1 0h1m8 0h2m15 0h1M96 1465.5h1m1 0h1m4 0h1m1 0h1m1 0h1m1 0h11m1 0h47m1 0h23m1 0h3m1 0h1m1 0h4m1 0h1m2 0h1m1 0h5m2 0h2m8 0h1m5 0h1m21 0h1M79 1466.5h1m9 0h1m1 0h2m2 0h1m1 0h1m1 0h1m3 0h2m1 0h1m1 0h1m1 0h19m1 0h43m3 0h4m1 0h7m1 0h2m1 0h2m1 0h7m2 0h3m3 0h1m2 0h3m1 0h2m4 0h1m9 0h1M81 1467.5h1m10 0h1m8 0h1m1 0h3m1 0h5m1 0h8m1 0h33m2 0h21m1 0h3m1 0h8m2 0h4m1 0h1m1 0h4m6 0h4m4 0h2m4 0h1m5 0h1m1 0h1m25 0h1M100 1468.5h7m1 0h6m1 0h6m1 0h9m2 0h13m1 0h13m1 0h7m1 0h1m1 0h13m3 0h7m1 0h1m2 0h2m1 0h1m1 0h3m2 0h1m1 0h1m4 0h2m3 0h1m1 0h1m6 0h2m5 0h1M98 1469.5h2m1 0h1m2 0h6m1 0h2m1 0h1m2 0h18m1 0h18m1 0h2m1 0h8m1 0h4m1 0h4m1 0h1m1 0h5m1 0h1m1 0h2m1 0h2m2 0h1m1 0h4m1 0h1m1 0h2m4 0h1m5 0h1m6 0h1m7 0h1m7 0h1M96 1470.5h1m1 0h1m3 0h1m6 0h3m1 0h2m1 0h3m1 0h4m1 0h11m1 0h1m1 0h2m2 0h2m1 0h3m1 0h3m1 0h2m2 0h4m1 0h3m1 0h4m1 0h4m1 0h1m1 0h3m1 0h2m1 0h3m2 0h3m2 0h3m5 0h3m1 0h1m1 0h1m3 0h1m12 0h1m1 0h1M100 1471.5h1m4 0h1m5 0h1m1 0h1m2 0h3m1 0h5m1 0h5m1 0h12m1 0h1m1 0h13m1 0h1m3 0h1m1 0h1m1 0h2m1 0h2m1 0h4m1 0h2m1 0h5m1 0h1m2 0h1m6 0h3m1 0h1m4 0h1M97 1472.5h2m4 0h1m5 0h1m1 0h4m2 0h3m2 0h1m1 0h13m1 0h2m1 0h3m1 0h3m1 0h16m1 0h6m1 0h1m1 0h3m3 0h1m1 0h1m1 0h1m1 0h3m5 0h2m1 0h1m2 0h1m7 0h1m2 0h1m19 0h1M94 1473.5h1m3 0h1m1 0h1m1 0h1m3 0h1m1 0h1m2 0h1m1 0h2m1 0h3m1 0h3m3 0h4m2 0h2m1 0h1m1 0h4m1 0h2m3 0h7m1 0h2m2 0h3m1 0h1m2 0h2m1 0h1m1 0h1m1 0h4m1 0h1m1 0h2m6 0h1m1 0h2m2 0h1m4 0h2m1 0h1m2 0h1m3 0h1m2 0h1m16 0h1M98 1474.5h3m4 0h1m2 0h2m4 0h3m2 0h1m1 0h3m2 0h3m1 0h2m2 0h1m1 0h1m1 0h3m1 0h2m2 0h3m1 0h1m1 0h2m5 0h1m4 0h2m1 0h1m2 0h2m3 0h1m2 0h2m1 0h2m1 0h2m4 0h1m1 0h3m5 0h1m9 0h1m8 0h1M101 1475.5h1m1 0h1m1 0h1m1 0h1m1 0h1m1 0h2m3 0h1m2 0h3m2 0h1m1 0h2m1 0h1m1 0h1m2 0h1m2 0h2m4 0h2m1 0h2m3 0h3m2 0h5m1 0h2m3 0h2m1 0h1m6 0h2m7 0h3m2 0h3m1 0h1m9 0h1m1 0h1m2 0h2m1 0h1m8 0h1m12 0h1m2 0h1M93 1476.5h1m11 0h1m6 0h1m6 0h1m1 0h2m1 0h4m3 0h1m3 0h1m1 0h1m3 0h4m6 0h1m1 0h1m2 0h2m1 0h1m1 0h4m2 0h2m3 0h1m3 0h1m1 0h1m2 0h1m1 0h1m2 0h1m5 0h1m3 0h1m5 0h1m13 0h2M102 1477.5h2m3 0h1m1 0h1m1 0h1m1 0h2m1 0h1m3 0h1m1 0h1m1 0h1m1 0h1m3 0h3m8 0h1m2 0h2m1 0h1m1 0h1m1 0h1m1 0h1m2 0h1m6 0h1m4 0h1m2 0h1m1 0h1m2 0h1m3 0h1m6 0h1m4 0h1m1 0h2m2 0h2m1 0h1m2 0h2m7 0h1m2 0h1M94 1478.5h1m6 0h1m6 0h1m2 0h1m3 0h2m1 0h2m3 0h1m3 0h1m1 0h2m5 0h1m4 0h1m1 0h1m1 0h2m4 0h4m1 0h1m5 0h1m4 0h2m1 0h1m1 0h1m3 0h1m4 0h1m5 0h1m3 0h1m8 0h1m7 0h1m1 0h1M99 1479.5h1m9 0h3m2 0h1m3 0h1m2 0h1m1 0h1m4 0h1m3 0h4m1 0h2m2 0h2m3 0h1m7 0h1m2 0h1m1 0h1m8 0h1m4 0h1m5 0h2m1 0h1m3 0h1m2 0h1m6 0h1m6 0h1m6 0h1M99 1480.5h1m6 0h1m10 0h1m2 0h1m5 0h1m6 0h2m1 0h2m4 0h1m1 0h1m2 0h2m1 0h1m2 0h1m2 0h2m2 0h2m3 0h2m1 0h1m1 0h1m1 0h1m4 0h1m3 0h1m3 0h1m2 0h1m2 0h1m12 0h1m2 0h1M114 1481.5h2m10 0h1m4 0h2m2 0h1m3 0h2m2 0h1m1 0h1m1 0h1m4 0h1m5 0h1m1 0h3m1 0h1m9 0h1m1 0h1m12 0h2M76 1482.5h1m30 0h1m8 0h1m5 0h1m2 0h2m4 0h1m7 0h3m2 0h2m5 0h1m3 0h1m1 0h1m1 0h1m6 0h1m3 0h1m6 0h1m10 0h1m12 0h1m34 0h1M112 1483.5h1m4 0h1m1 0h1m3 0h1m6 0h1m2 0h2m2 0h1m4 0h2m1 0h1m1 0h1m7 0h1m6 0h1m12 0h1m6 0h1m7 0h1m7 0h1M130 1484.5h2m4 0h1m13 0h2m5 0h3m1 0h1m2 0h1m3 0h1m6 0h1m3 0h1m27 0h1M115 1485.5h1m19 0h2m2 0h1m7 0h1m12 0h1m9 0h1m4 0h1m51 0h1M125 1486.5h1m6 0h1m2 0h1m14 0h3m24 0h1M99 1487.5h1m19 0h1m22 0h1m8 0h1m1 0h1m7 0h1m6 0h1M80 1488.5h1m29 0h1m19 0h1m19 0h1m1 0h1m26 0h1M92 1489.5h1m20 0h1m3 0h1m7 0h1m22 0h1m11 0h1M132 1490.5h1M81 1491.5h1m37 0h1m18 0h1m2 0h1m2 0h1m6 0h1m12 0h1m4 0h1m20 0h1m2 0h1M120 1492.5h1m43 0h1m40 0h1M167 1493.5h1m18 0h1M171 1494.5h1M120 1495.5h1M221 1496.5h1m26 0h1M166 1497.5h1" stroke="#000" stroke-width="1" fill="none" shape-rendering="crispEdges"/>
<path d="M109.0 1439.7L109.9 1438.3L110.9 1437.1L112.0 1435.8L113.4 1434.6L114.9 1433.5L116.5 1432.4L118.4 1431.3L120.4 1430.3L122.5 1429.4L124.8 1428.4L127.2 1427.5L129.8 1426.7L132.4 1425.8L135.2 1425.0L138.1 1424.2L141.1 1423.5L144.2 1422.7L147.3 1422.0L150.3 1421.2L153.3 1420.5L156.2 1419.7L159.0 1418.9L161.8 1418.1L164.5 1417.3L167.1 1416.4L169.6 1415.6L172.0 1414.9L174.2 1414.1L176.2 1413.4L178.1 1412.8L179.8 1412.1L181.4 1411.5L182.9 1411.0L184.3 1410.5L185.7 1410.1L187.0 1409.8L188.3 1409.6L189.6 1409.5L190.9 1409.5L192.1 1409.5L193.4 1409.7L194.6 1409.9L196.0 1410.3L197.3 1410.8L198.8 1411.4L200.3 1412.0L201.8 1412.8L203.5 1413.7L205.1 1414.8L206.8 1415.8L208.4 1416.9L210.0 1418.1L211.6 1419.4L213.1 1420.6L214.6 1422.0L216.1 1423.4L217.5 1424.8L218.8 1426.3L220.0 1427.7L221.1 1429.2L222.0 1430.6L222.7 1432.1L223.4 1433.5L223.9 1434.9L224.2 1436.4L224.5 1437.7L224.7 1439.1L224.8 1440.3L224.8 1441.5L224.7 1442.7L224.5 1443.7L224.2 1444.8L223.9 1445.7L223.2 1446.7L222.4 1447.6L221.2 1448.5L219.9 1449.4L218.2 1450.3L216.3 1451.2L214.2 1452.1L211.7 1452.9L209.2 1453.8L206.5 1454.6L203.6 1455.4L200.6 1456.2L197.4 1456.9L194.1 1457.7L190.7 1458.4L187.0 1459.1L183.4 1459.8L179.8 1460.4L176.2 1461.1L172.6 1461.7L169.0 1462.2L165.4 1462.8L161.8 1463.3L158.2 1463.8L154.7 1464.2L151.3 1464.5L147.9 1464.8L144.7 1465.0L141.5 1465.1L138.4 1465.1L135.5 1465.1L132.5 1464.9L129.8 1464.8L127.3 1464.5L124.9 1464.2L122.8 1463.8L120.8 1463.4L119.0 1462.9L117.4 1462.4L115.9 1461.8L114.6 1461.2L113.4 1460.5L112.3 1459.7L111.3 1458.9L110.5 1458.1L109.7 1457.2L109.1 1456.3L108.5 1455.4L108.1 1454.4L107.7 1453.4L107.3 1452.5L107.0 1451.5L106.8 1450.6L106.6 1449.6L106.4 1448.6L106.4 1447.7L106.4 1446.7L106.6 1445.6L106.8 1444.5L107.2 1443.4L107.7 1442.2L108.3 1440.9Z" fill="#fff" stroke="#fff" stroke-width="0.6"/>
<path d="M146.8 1461.0L145.3 1461.1L143.8 1461.1L142.3 1461.1L140.8 1461.1L139.3 1461.1L137.8 1461.1L136.3 1461.0L135.3 1461.0L133.8 1460.9L132.3 1460.8L130.8 1460.7L129.3 1460.6L128.3 1460.5L126.8 1460.3L125.3 1460.1L124.3 1459.9L122.8 1459.7L121.8 1459.4L120.3 1459.0L119.3 1458.7L118.3 1458.3L117.3 1457.9L116.3 1457.4L115.3 1456.8L114.3 1456.1L113.6 1455.5L112.8 1454.5L112.3 1453.7L111.8 1452.7L111.3 1451.5L111.0 1450.5L110.7 1449.5L110.5 1448.0L110.6 1446.5L110.8 1445.5L111.3 1444.2L111.8 1443.1L112.3 1442.2L112.8 1441.4L113.4 1440.5L114.2 1439.5L114.8 1438.9L115.8 1438.0L116.4 1437.5L117.3 1436.8L118.3 1436.1L119.3 1435.5L120.2 1435.0L121.2 1434.5L122.2 1434.0L123.3 1433.5L124.3 1433.1L125.3 1432.7L126.3 1432.2L127.3 1431.9L128.3 1431.5L129.6 1431.0L130.8 1430.6L131.8 1430.2L132.8 1429.9L133.9 1429.5L135.3 1429.1L136.3 1428.7L137.3 1428.4L138.5 1428.0L139.8 1427.6L140.8 1427.3L141.8 1427.0L143.3 1426.6L144.3 1426.3L145.3 1426.0L146.8 1425.6L147.8 1425.3L149.0 1425.0L150.3 1424.7L151.3 1424.5L152.8 1424.1L153.8 1423.9L155.3 1423.6L156.3 1423.3L157.8 1423.0L158.8 1422.8L159.9 1422.5L161.3 1422.1L162.3 1421.9L163.5 1421.5L164.8 1421.1L165.8 1420.8L166.8 1420.4L168.0 1420.0L169.3 1419.5L170.3 1419.1L171.3 1418.8L172.3 1418.4L173.4 1418.0L174.8 1417.5L175.8 1417.1L176.8 1416.8L177.8 1416.5L179.2 1416.0L180.3 1415.6L181.3 1415.3L182.3 1415.0L183.8 1414.5L184.8 1414.2L185.8 1414.0L187.3 1413.6L188.3 1413.5L189.8 1413.4L191.3 1413.4L192.3 1413.5L193.8 1413.8L194.8 1414.1L195.9 1414.5L197.1 1415.0L198.2 1415.5L199.2 1416.0L200.1 1416.5L201.0 1417.0L201.9 1417.5L202.8 1418.1L203.8 1418.7L204.8 1419.4L205.7 1420.0L206.4 1420.5L207.3 1421.2L208.3 1422.0L208.9 1422.5L209.8 1423.2L210.7 1424.0L211.3 1424.5L212.3 1425.4L212.9 1426.0L213.8 1426.9L214.4 1427.5L215.3 1428.5L215.8 1429.0L216.6 1430.0L217.3 1431.0L217.8 1431.7L218.3 1432.5L218.9 1433.5L219.3 1434.5L219.8 1435.7L220.2 1437.0L220.4 1438.0L220.6 1439.5L220.7 1441.0L220.6 1442.5L220.3 1443.6L219.7 1444.5L218.8 1445.2L217.8 1445.9L216.8 1446.4L215.8 1446.9L214.8 1447.4L213.8 1447.8L212.8 1448.2L211.8 1448.6L210.6 1449.0L209.3 1449.4L208.3 1449.7L207.3 1450.1L205.8 1450.5L204.8 1450.8L203.8 1451.1L202.3 1451.5L201.3 1451.8L200.3 1452.0L198.8 1452.4L197.8 1452.7L196.6 1453.0L195.3 1453.3L194.3 1453.5L192.8 1453.9L191.8 1454.1L190.3 1454.5L189.3 1454.7L187.8 1455.0L186.8 1455.2L185.3 1455.5L184.3 1455.6L182.8 1455.9L181.8 1456.1L180.3 1456.4L179.3 1456.5L177.8 1456.8L176.4 1457.0L175.3 1457.2L173.8 1457.4L172.8 1457.6L171.3 1457.8L170.3 1458.0L168.8 1458.3L167.5 1458.5L166.3 1458.7L164.8 1459.0L163.8 1459.1L162.3 1459.4L161.3 1459.6L159.8 1459.8L158.6 1460.0L157.3 1460.2L155.8 1460.4L154.6 1460.5L153.3 1460.6L151.8 1460.8L150.3 1460.9L148.8 1460.9L147.3 1461.0ZM154.3 1457.5L152.8 1457.7L151.3 1457.8L149.8 1457.8L148.3 1457.8L146.8 1457.9L145.3 1457.8L143.8 1457.8L142.3 1457.8L140.8 1457.7L139.3 1457.7L137.8 1457.6L136.3 1457.6L135.2 1457.5L133.8 1457.4L132.3 1457.3L130.8 1457.2L129.3 1457.1L128.3 1457.0L126.8 1456.8L125.3 1456.5L124.3 1456.4L122.8 1456.1L121.8 1455.8L120.8 1455.5L119.4 1455.0L118.3 1454.5L117.4 1454.0L116.7 1453.5L115.8 1452.7L115.3 1451.9L114.8 1450.8L114.3 1449.5L114.1 1448.5L114.1 1447.0L114.4 1446.0L114.8 1445.0L115.3 1444.0L115.9 1443.0L116.7 1442.0L117.3 1441.4L118.2 1440.5L118.9 1440.0L119.8 1439.4L120.8 1438.7L121.8 1438.2L122.8 1437.6L123.8 1437.1L124.8 1436.7L125.8 1436.2L126.8 1435.8L127.8 1435.4L128.9 1435.0L130.1 1434.5L131.3 1434.1L132.3 1433.7L133.3 1433.3L134.3 1432.9L135.5 1432.5L136.8 1432.0L137.8 1431.6L138.8 1431.3L139.8 1430.9L140.8 1430.5L142.2 1430.0L143.3 1429.6L144.3 1429.3L145.3 1429.0L146.8 1428.5L147.8 1428.2L148.8 1427.9L150.3 1427.6L151.3 1427.3L152.8 1427.0L153.8 1426.8L155.3 1426.5L156.3 1426.3L157.8 1426.1L158.8 1425.9L160.3 1425.6L161.3 1425.4L162.8 1425.0L163.8 1424.7L164.8 1424.4L166.0 1424.0L167.3 1423.5L168.3 1423.1L169.3 1422.7L170.3 1422.3L171.3 1421.9L172.3 1421.5L173.4 1421.0L174.7 1420.5L175.8 1420.1L176.8 1419.7L177.8 1419.4L179.0 1419.0L180.3 1418.6L181.3 1418.3L182.4 1418.0L183.8 1417.6L184.8 1417.3L186.2 1417.0L187.3 1416.8L188.8 1416.6L190.3 1416.6L191.8 1416.7L193.0 1417.0L194.3 1417.4L195.3 1417.8L196.3 1418.3L197.3 1418.8L198.3 1419.3L199.3 1419.9L200.2 1420.5L201.0 1421.0L201.8 1421.5L202.8 1422.2L203.8 1422.9L204.6 1423.5L205.3 1424.0L206.3 1424.8L207.1 1425.5L207.8 1426.1L208.8 1427.0L209.4 1427.5L210.3 1428.4L210.9 1429.0L211.8 1429.9L212.4 1430.5L213.3 1431.5L213.8 1432.1L214.4 1433.0L215.1 1434.0L215.7 1435.0L216.2 1436.0L216.5 1437.0L216.8 1438.1L217.1 1439.5L217.2 1441.0L216.8 1442.3L215.8 1443.0L214.8 1443.5L213.8 1444.0L212.8 1444.4L211.8 1444.8L210.8 1445.2L209.8 1445.5L208.4 1446.0L207.3 1446.4L206.3 1446.7L205.3 1447.0L203.8 1447.5L202.8 1447.8L201.8 1448.1L200.3 1448.5L199.3 1448.8L198.3 1449.0L196.8 1449.5L195.8 1449.7L194.8 1450.0L193.3 1450.4L192.3 1450.7L190.9 1451.0L189.8 1451.3L188.8 1451.5L187.3 1451.8L186.3 1452.0L184.8 1452.3L183.8 1452.5L182.3 1452.8L180.8 1453.0L179.8 1453.1L178.3 1453.4L177.3 1453.5L175.8 1453.7L174.3 1454.0L173.3 1454.1L171.8 1454.4L170.8 1454.5L169.3 1454.8L168.3 1455.0L166.8 1455.3L165.8 1455.5L164.3 1455.8L163.3 1456.0L161.8 1456.3L160.8 1456.5L159.3 1456.8L158.2 1457.0L156.8 1457.2L155.3 1457.4L154.3 1457.5ZM150.8 1455.0L149.3 1455.0L148.3 1455.0L146.8 1454.9L145.3 1454.9L143.8 1454.7L142.3 1454.6L140.8 1454.5L139.8 1454.4L138.3 1454.3L136.8 1454.2L135.3 1454.1L134.3 1454.0L132.8 1453.9L131.3 1453.7L129.8 1453.6L128.8 1453.5L127.3 1453.3L125.8 1453.1L124.8 1452.9L123.3 1452.6L122.3 1452.3L121.3 1452.0L120.2 1451.5L119.3 1451.0L118.3 1450.0L117.9 1449.0L117.6 1448.0L117.8 1446.9L118.3 1445.9L118.8 1445.0L119.6 1444.0L120.3 1443.4L121.3 1442.6L122.2 1442.0L123.0 1441.5L123.9 1441.0L124.9 1440.5L126.0 1440.0L127.1 1439.5L128.3 1439.0L129.3 1438.6L130.3 1438.2L131.3 1437.8L132.3 1437.3L133.3 1436.9L134.4 1436.5L135.5 1436.0L136.7 1435.5L137.8 1435.0L138.8 1434.6L139.8 1434.1L140.8 1433.6L141.8 1433.2L142.8 1432.8L143.8 1432.3L144.8 1431.9L146.0 1431.5L147.3 1431.0L148.3 1430.7L149.3 1430.4L150.8 1430.0L151.8 1429.8L153.3 1429.5L154.3 1429.3L155.8 1429.1L156.8 1429.0L158.3 1428.8L159.8 1428.6L160.8 1428.5L162.3 1428.2L163.3 1428.0L164.8 1427.6L165.8 1427.2L166.8 1426.9L167.8 1426.5L168.8 1426.0L169.9 1425.5L170.9 1425.0L171.9 1424.5L173.0 1424.0L174.1 1423.5L175.2 1423.0L176.3 1422.6L177.3 1422.2L178.3 1421.8L179.4 1421.5L180.8 1421.1L181.8 1420.8L183.2 1420.5L184.3 1420.2L185.5 1420.0L186.8 1419.8L188.3 1419.6L189.8 1419.5L191.3 1419.7L192.4 1420.0L193.7 1420.5L194.7 1421.0L195.7 1421.5L196.5 1422.0L197.4 1422.5L198.3 1423.1L199.3 1423.8L200.3 1424.5L201.0 1425.0L201.8 1425.6L202.8 1426.4L203.5 1427.0L204.3 1427.6L205.3 1428.5L205.9 1429.0L206.8 1429.9L207.5 1430.5L208.3 1431.3L209.0 1432.0L209.8 1432.9L210.4 1433.5L211.2 1434.5L211.8 1435.4L212.3 1436.2L212.8 1437.1L213.3 1438.5L213.5 1439.5L213.0 1440.5L211.9 1441.0L210.8 1441.4L209.8 1441.8L208.8 1442.2L207.8 1442.5L206.4 1443.0L205.3 1443.4L204.3 1443.7L203.3 1444.0L201.8 1444.5L200.8 1444.8L199.8 1445.1L198.6 1445.5L197.3 1445.9L196.3 1446.3L195.3 1446.6L194.0 1447.0L192.8 1447.4L191.8 1447.7L190.6 1448.0L189.3 1448.4L188.3 1448.6L186.8 1449.0L185.8 1449.2L184.3 1449.5L183.3 1449.6L181.8 1449.9L180.8 1450.0L179.3 1450.2L177.8 1450.4L176.6 1450.5L175.3 1450.6L173.8 1450.8L172.5 1451.0L171.3 1451.2L169.8 1451.5L168.8 1451.7L167.3 1452.0L166.3 1452.2L165.3 1452.5L163.8 1452.9L162.8 1453.2L161.4 1453.5L160.3 1453.8L159.3 1454.0L157.8 1454.3L156.6 1454.5L155.3 1454.7L153.8 1454.9L152.3 1455.0L151.2 1455.0ZM156.3 1452.0L154.8 1452.3L153.3 1452.4L151.8 1452.5L150.3 1452.5L148.8 1452.4L147.3 1452.3L145.8 1452.1L144.8 1452.0L143.3 1451.8L141.8 1451.6L140.8 1451.4L139.3 1451.2L137.9 1451.0L136.8 1450.9L135.3 1450.7L133.8 1450.5L132.8 1450.4L131.3 1450.3L129.8 1450.1L128.8 1450.0L127.3 1449.8L125.8 1449.5L124.8 1449.3L123.6 1449.0L122.3 1448.6L121.3 1448.0L121.4 1447.5L122.1 1446.5L122.8 1445.9L123.8 1445.2L124.8 1444.5L125.8 1444.0L126.8 1443.5L127.8 1443.0L128.8 1442.6L129.8 1442.1L130.8 1441.7L131.8 1441.3L132.8 1440.8L133.8 1440.4L134.8 1439.9L135.8 1439.4L136.8 1438.9L137.8 1438.4L138.8 1437.9L139.8 1437.4L140.8 1436.8L141.8 1436.2L142.8 1435.7L143.8 1435.2L144.8 1434.7L145.8 1434.2L146.8 1433.8L147.8 1433.4L148.9 1433.0L150.3 1432.6L151.3 1432.3L152.8 1432.0L153.8 1431.8L155.3 1431.6L156.8 1431.5L157.8 1431.4L159.3 1431.3L160.8 1431.2L162.3 1431.1L163.3 1430.9L164.8 1430.6L165.8 1430.3L166.8 1430.0L167.9 1429.5L168.9 1429.0L169.8 1428.5L170.8 1428.0L171.8 1427.4L172.8 1426.8L173.8 1426.3L174.8 1425.8L175.8 1425.3L176.8 1424.8L177.8 1424.4L179.0 1424.0L180.3 1423.6L181.3 1423.3L182.8 1423.0L183.8 1422.8L185.3 1422.6L186.3 1422.4L187.8 1422.3L189.3 1422.3L190.8 1422.4L191.8 1422.7L192.8 1423.2L193.8 1423.7L194.8 1424.3L195.8 1425.0L196.5 1425.5L197.3 1426.1L198.3 1426.9L199.1 1427.5L199.8 1428.1L200.8 1429.0L201.4 1429.5L202.3 1430.3L203.0 1431.0L203.8 1431.7L204.6 1432.5L205.3 1433.2L206.1 1434.0L206.8 1434.7L207.5 1435.5L208.3 1436.5L208.8 1437.2L209.3 1438.0L208.7 1438.5L207.3 1439.0L206.3 1439.4L205.3 1439.7L204.3 1440.1L203.0 1440.5L201.8 1440.9L200.8 1441.3L199.8 1441.7L198.8 1442.0L197.6 1442.5L196.4 1443.0L195.3 1443.4L194.3 1443.8L193.3 1444.2L192.3 1444.6L191.1 1445.0L189.8 1445.4L188.8 1445.8L187.8 1446.0L186.3 1446.4L185.3 1446.6L183.8 1446.9L182.8 1447.1L181.3 1447.3L179.8 1447.4L178.8 1447.5L177.3 1447.6L175.8 1447.7L174.3 1447.8L172.8 1447.9L171.8 1448.1L170.3 1448.3L169.1 1448.5L167.8 1448.8L166.8 1449.1L165.4 1449.5L164.3 1449.8L163.3 1450.2L162.3 1450.5L160.8 1451.0L159.8 1451.2L158.8 1451.5L157.3 1451.9L156.3 1452.0ZM153.8 1450.0L152.3 1450.1L150.8 1450.1L149.3 1450.0L148.3 1449.9L146.8 1449.7L145.8 1449.5L144.3 1449.2L143.3 1448.9L141.8 1448.6L140.8 1448.4L139.3 1448.0L138.3 1447.8L136.8 1447.5L135.8 1447.4L134.3 1447.2L133.2 1447.0L131.8 1446.8L130.3 1446.6L129.3 1446.5L129.8 1445.9L130.8 1445.5L131.9 1445.0L133.0 1444.5L134.1 1444.0L135.1 1443.5L136.1 1443.0L137.0 1442.5L137.8 1442.0L138.8 1441.4L139.8 1440.8L140.8 1440.1L141.7 1439.5L142.5 1439.0L143.3 1438.5L144.3 1437.8L145.3 1437.2L146.3 1436.7L147.3 1436.2L148.3 1435.7L149.3 1435.3L150.3 1435.0L151.8 1434.6L152.8 1434.3L154.3 1434.1L155.3 1434.0L156.8 1433.9L158.3 1433.9L159.8 1433.9L161.3 1433.9L162.8 1433.9L164.3 1433.7L165.4 1433.5L166.8 1433.1L167.8 1432.7L168.8 1432.2L169.8 1431.6L170.8 1431.0L171.5 1430.5L172.3 1430.0L173.3 1429.3L174.3 1428.7L175.3 1428.1L176.3 1427.5L177.3 1427.0L178.3 1426.6L179.3 1426.2L180.3 1425.9L181.7 1425.5L182.8 1425.3L184.3 1425.1L185.3 1424.9L186.8 1424.8L188.3 1424.8L189.8 1424.9L190.8 1425.1L191.8 1425.6L192.8 1426.2L193.8 1426.9L194.6 1427.5L195.3 1428.1L196.3 1429.0L196.9 1429.5L197.8 1430.3L198.5 1431.0L199.3 1431.8L200.0 1432.5L200.8 1433.3L201.4 1434.0L202.3 1434.9L202.9 1435.5L203.8 1436.5L202.8 1437.0L201.5 1437.5L200.3 1438.0L199.3 1438.4L198.3 1438.9L197.3 1439.3L196.3 1439.8L195.3 1440.3L194.3 1440.8L193.3 1441.3L192.3 1441.7L191.3 1442.2L190.3 1442.6L189.3 1443.0L187.9 1443.5L186.8 1443.8L185.8 1444.1L184.3 1444.5L183.3 1444.6L181.8 1444.8L180.3 1445.0L179.3 1445.0L177.8 1445.1L176.3 1445.1L174.8 1445.1L173.3 1445.1L171.8 1445.2L170.3 1445.3L169.1 1445.5L167.8 1445.8L166.8 1446.1L165.6 1446.5L164.3 1447.0L163.3 1447.4L162.3 1447.8L161.3 1448.2L160.3 1448.5L158.9 1449.0L157.8 1449.3L156.8 1449.6L155.3 1449.9L154.2 1450.0ZM155.3 1447.5L153.8 1447.7L152.3 1447.8L150.8 1447.8L149.3 1447.6L148.3 1447.5L146.8 1447.1L145.8 1446.9L144.6 1446.5L143.3 1446.1L142.3 1445.8L141.3 1445.4L139.9 1445.0L140.6 1444.0L141.3 1443.5L142.3 1442.7L143.2 1442.0L143.8 1441.5L144.8 1440.7L145.7 1440.0L146.5 1439.5L147.3 1439.0L148.3 1438.4L149.3 1437.9L150.3 1437.5L151.7 1437.0L152.8 1436.7L154.3 1436.5L155.3 1436.4L156.8 1436.4L158.3 1436.4L159.3 1436.5L160.8 1436.7L162.3 1436.8L163.8 1436.8L165.3 1436.7L166.5 1436.5L167.8 1436.1L168.8 1435.6L169.8 1435.0L170.6 1434.5L171.3 1433.9L172.3 1433.1L173.1 1432.5L173.8 1431.9L174.8 1431.1L175.7 1430.5L176.4 1430.0L177.3 1429.5L178.3 1429.0L179.4 1428.5L180.8 1428.0L181.8 1427.7L183.0 1427.5L184.3 1427.3L185.8 1427.2L187.3 1427.3L188.8 1427.3L190.1 1427.5L191.2 1428.0L191.9 1428.5L192.8 1429.3L193.6 1430.0L194.3 1430.7L195.1 1431.5L195.8 1432.3L196.4 1433.0L197.3 1434.0L197.8 1434.6L197.8 1435.7L196.8 1436.2L195.8 1436.8L194.8 1437.4L193.9 1438.0L193.0 1438.5L192.2 1439.0L191.3 1439.5L190.3 1440.0L189.3 1440.5L188.1 1441.0L186.8 1441.5L185.8 1441.8L184.8 1442.1L183.3 1442.4L182.3 1442.6L180.8 1442.7L179.3 1442.8L177.8 1442.7L176.3 1442.7L174.8 1442.5L173.8 1442.5L172.3 1442.4L170.8 1442.4L169.3 1442.5L168.3 1442.7L166.9 1443.0L165.8 1443.4L164.8 1443.8L163.8 1444.2L162.8 1444.7L161.8 1445.2L160.8 1445.7L159.8 1446.1L158.8 1446.5L157.4 1447.0L156.3 1447.3L155.3 1447.5ZM180.8 1440.5L179.3 1440.5L178.3 1440.5L176.8 1440.3L175.3 1440.1L174.3 1439.9L172.8 1439.7L171.3 1439.5L170.3 1439.4L169.8 1439.0L170.8 1438.3L171.8 1437.5L172.3 1437.0L173.3 1436.1L173.8 1435.5L174.8 1434.5L175.3 1434.0L176.3 1433.1L177.1 1432.5L177.8 1432.0L178.8 1431.4L179.8 1430.8L180.8 1430.4L182.3 1430.0L183.3 1429.8L184.8 1429.7L186.3 1429.7L187.8 1429.9L188.8 1430.0L190.3 1430.3L191.2 1431.0L191.8 1431.7L192.6 1432.5L193.3 1433.4L193.8 1434.0L193.5 1435.0L192.8 1435.5L191.8 1436.3L190.8 1436.9L190.0 1437.5L189.1 1438.0L188.2 1438.5L187.2 1439.0L185.9 1439.5L184.8 1439.9L183.8 1440.1L182.3 1440.4L181.0 1440.5ZM155.3 1445.1L153.8 1445.3L152.3 1445.4L150.8 1445.3L149.3 1445.1L148.3 1444.9L147.0 1444.5L145.8 1444.1L146.0 1443.5L146.8 1442.8L147.8 1442.0L148.4 1441.5L149.3 1440.9L150.3 1440.4L151.3 1439.9L152.5 1439.5L153.8 1439.2L155.3 1439.1L156.8 1439.1L158.3 1439.2L159.8 1439.5L160.8 1439.7L162.3 1440.0L163.3 1440.1L164.8 1440.5L164.3 1440.8L163.3 1441.3L162.3 1441.9L161.3 1442.4L160.3 1443.0L159.4 1443.5L158.4 1444.0L157.3 1444.5L156.3 1444.8L155.3 1445.1Z" fill="none" stroke="#606060" stroke-width="0.7"/>
<rect x="110.1" y="1321.2" width="120.6" height="81.20000000000005" fill="none" stroke="#000" stroke-width="3"/>
<text transform="translate(148.18,1312.07) scale(0.9970,1)" font-size="32.65" style="font-family:'Liberation Sans', sans-serif;" fill="#000" >3.7</text>
<rect x="301" y="1282.4" width="216.60000000000002" height="215.19999999999982" fill="none" stroke="#555" stroke-width="1.1"/>
<path d="M298 1308.1H301M298 1300.1H301M298 1294.5H301M298 1290.1H301M298 1286.6H301M298 1283.6H301M298 1352.8H301M298 1345.0H301M298 1339.4H301M298 1335.1H301M298 1331.5H301M298 1328.5H301M298 1325.9H301M298 1323.6H301M298 1401.9H301M298 1393.0H301M298 1386.6H301M298 1381.7H301M298 1377.6H301M298 1374.2H301M298 1371.2H301M298 1368.6H301M296 1321.6H301M296 1366.3H301M296 1417.3H301M298 1432.4H301M298 1442.4H301M298 1450.4H301M298 1468.4H301M298 1477.4H301M298 1487.4H301M298 1496.4H301M398.6 1497.6V1500.6M407.2 1497.6V1500.6M413.4 1497.6V1500.6M418.1 1497.6V1500.6M422.0 1497.6V1500.6M425.3 1497.6V1500.6M428.1 1497.6V1500.6M430.7 1497.6V1500.6M446.1 1497.6V1500.6M453.8 1497.6V1500.6M459.3 1497.6V1500.6M463.5 1497.6V1500.6M467.0 1497.6V1500.6M469.9 1497.6V1500.6M472.5 1497.6V1500.6M474.7 1497.6V1500.6M490.0 1497.6V1500.6M497.8 1497.6V1500.6M503.4 1497.6V1500.6M507.7 1497.6V1500.6M511.2 1497.6V1500.6M514.1 1497.6V1500.6M383.8 1497.6V1503.1M432.9 1497.6V1503.1M476.7 1497.6V1503.1M305.0 1497.6V1500.6M311.0 1497.6V1500.6M317.0 1497.6V1500.6M348.0 1497.6V1500.6M357.0 1497.6V1500.6M365.0 1497.6V1500.6M373.0 1497.6V1500.6" stroke="#333" stroke-width="1" fill="none"/>
<rect x="327" y="1498.1" width="17" height="4" fill="#111"/>
<rect x="295.5" y="1452.9" width="5" height="13" fill="#111"/>
<text transform="translate(277.13,1327.72) scale(1.2596,1)" font-size="8.20" style="font-family:'Liberation Sans', sans-serif;" fill="#222" >10</text>
<text transform="translate(288.38,1321.93) scale(1.0731,1)" font-size="7.46" style="font-family:'Liberation Sans', sans-serif;" fill="#222" >5</text>
<text transform="translate(277.13,1372.42) scale(1.2596,1)" font-size="8.20" style="font-family:'Liberation Sans', sans-serif;" fill="#222" >10</text>
<text transform="translate(288.53,1366.70) scale(0.9949,1)" font-size="7.56" style="font-family:'Liberation Sans', sans-serif;" fill="#222" >4</text>
<text transform="translate(277.13,1423.42) scale(1.2596,1)" font-size="8.20" style="font-family:'Liberation Sans', sans-serif;" fill="#222" >10</text>
<text transform="translate(288.40,1417.63) scale(1.0885,1)" font-size="7.35" style="font-family:'Liberation Sans', sans-serif;" fill="#222" >3</text>
<text transform="translate(280.82,1461.73) scale(1.3074,1)" font-size="7.21" style="font-family:'Liberation Sans', sans-serif;" fill="#222" >0</text>
<text transform="translate(379.50,1522.62) scale(1.1993,1)" font-size="7.77" style="font-family:'Liberation Sans', sans-serif;" fill="#222" >10</text>
<text transform="translate(389.62,1516.02) scale(0.9407,1)" font-size="8.06" style="font-family:'Liberation Sans', sans-serif;" fill="#222" >3</text>
<text transform="translate(428.60,1522.62) scale(1.1993,1)" font-size="7.77" style="font-family:'Liberation Sans', sans-serif;" fill="#222" >10</text>
<text transform="translate(438.84,1516.10) scale(0.8598,1)" font-size="8.29" style="font-family:'Liberation Sans', sans-serif;" fill="#222" >4</text>
<text transform="translate(472.40,1522.62) scale(1.1993,1)" font-size="7.77" style="font-family:'Liberation Sans', sans-serif;" fill="#222" >10</text>
<text transform="translate(482.50,1516.02) scale(0.9274,1)" font-size="8.17" style="font-family:'Liberation Sans', sans-serif;" fill="#222" >5</text>
<text transform="translate(333.25,1522.62) scale(1.1315,1)" font-size="7.77" style="font-family:'Liberation Sans', sans-serif;" fill="#222" >0</text>
<path d="M496 1299.5h1M350 1307.5h1M401 1313.5h1M387 1321.5h1m26 0h1M356 1323.5h1m44 0h1m46 0h1M389 1324.5h1m16 0h1M392 1325.5h1M400 1326.5h1M414 1327.5h1m26 0h1M360 1328.5h1m43 0h1M439 1330.5h1m9 0h1M459 1331.5h1M356 1332.5h1M428 1335.5h1M423 1337.5h1M366 1341.5h1M427 1343.5h1m9 0h1m2 0h1m11 0h1M412 1344.5h1m34 0h1m22 0h1M444 1345.5h1M475 1346.5h1M467 1347.5h1M406 1349.5h1M365 1350.5h1M386 1354.5h1m48 0h1M408 1355.5h1M372 1356.5h1m47 0h1M471 1357.5h1M443 1360.5h1M386 1362.5h1M354 1364.5h1m12 0h1M383 1365.5h1M360 1366.5h1M367 1367.5h1M408 1368.5h1M404 1369.5h1M422 1371.5h1m2 0h1M371 1372.5h1m7 0h1m37 0h1m51 0h1M338 1373.5h1m70 0h1M358 1375.5h1m14 0h1M360 1376.5h1m61 0h1m48 0h1M382 1377.5h1m8 0h1M406 1378.5h1m16 0h1M432 1379.5h1M428 1380.5h1M394 1381.5h1m5 0h1m43 0h1M362 1382.5h1m58 0h1m48 0h1m5 0h1M357 1383.5h1m55 0h1m18 0h1m25 0h1M390 1386.5h1m52 0h1M426 1387.5h1M408 1388.5h1m23 0h1m3 0h1m9 0h1m8 0h1m8 0h1M398 1389.5h1m9 0h1m68 0h1m18 0h1M387 1390.5h1m18 0h1m13 0h1m25 0h1M390 1391.5h1m20 0h1m15 0h1m27 0h1M382 1392.5h1m5 0h1m1 0h2m9 0h1m77 0h1m10 0h1M321 1393.5h1m66 0h1m12 0h1m20 0h2m27 0h1m5 0h1M396 1394.5h2m1 0h1m9 0h1m3 0h1m12 0h1m3 0h1M348 1395.5h1m71 0h1m1 0h2m8 0h1m8 0h1m9 0h1M333 1396.5h1m44 0h1m27 0h1m2 0h1m2 0h1m9 0h1m5 0h1m2 0h1m25 0h1m15 0h1M377 1397.5h1m45 0h2m7 0h1m14 0h1m2 0h1m6 0h1m6 0h2m1 0h1m9 0h1m11 0h1m6 0h1M363 1398.5h1m3 0h1m17 0h1m4 0h1m14 0h1m31 0h1m29 0h1M389 1399.5h1m17 0h2m9 0h1m10 0h1m4 0h1m3 0h1m5 0h1m24 0h1M368 1400.5h1m8 0h1m40 0h1m3 0h1m6 0h2m18 0h1m1 0h1m6 0h1m2 0h1m4 0h1m17 0h1M359 1401.5h1m15 0h1m6 0h1m24 0h1m7 0h1m1 0h1m19 0h1M411 1402.5h1m2 0h1m3 0h1m3 0h3m3 0h1m5 0h2m14 0h1m16 0h1M379 1403.5h1m16 0h1m1 0h1m1 0h1m20 0h1m1 0h1m1 0h1m6 0h1m9 0h1m1 0h1m4 0h2m3 0h1m2 0h1M332 1404.5h1m59 0h1m12 0h1m6 0h1m2 0h2m1 0h2m1 0h1m5 0h3m7 0h2m10 0h1m9 0h1m5 0h1M369 1405.5h1m10 0h1m28 0h1m1 0h1m7 0h2m1 0h1m1 0h2m6 0h1m2 0h1m6 0h1m9 0h1m10 0h1m6 0h1M373 1406.5h1m29 0h1m1 0h1m3 0h1m2 0h3m3 0h1m1 0h2m2 0h1m1 0h2m1 0h1m2 0h1m1 0h1m2 0h1m13 0h1m21 0h1M341 1407.5h1m55 0h1m9 0h3m2 0h1m3 0h1m1 0h2m1 0h1m4 0h1m1 0h1m2 0h1m2 0h2m5 0h1m6 0h1m1 0h1m26 0h1M395 1408.5h1m6 0h1m1 0h1m1 0h1m7 0h1m1 0h2m1 0h2m3 0h2m3 0h1m1 0h1m2 0h1m3 0h1m2 0h1m8 0h2m2 0h1M342 1409.5h1m48 0h1m3 0h1m3 0h3m2 0h2m2 0h1m5 0h1m1 0h1m1 0h1m1 0h2m2 0h1m1 0h1m1 0h2m1 0h2m1 0h1m1 0h4m6 0h2m2 0h1m2 0h1m1 0h1m3 0h1m25 0h1M389 1410.5h1m8 0h1m1 0h3m4 0h2m3 0h1m2 0h2m2 0h1m1 0h3m2 0h2m1 0h3m2 0h1m5 0h2m1 0h1m6 0h1m2 0h1m8 0h1m32 0h1M388 1411.5h1m3 0h1m1 0h1m4 0h1m2 0h2m2 0h1m7 0h1m2 0h1m1 0h4m1 0h1m1 0h2m3 0h2m2 0h2m1 0h1m9 0h1m6 0h1M385 1412.5h1m12 0h2m2 0h2m2 0h2m1 0h3m2 0h3m1 0h1m1 0h2m1 0h3m1 0h1m1 0h3m1 0h7m1 0h1m7 0h2m1 0h1m1 0h2m12 0h1M389 1413.5h1m3 0h1m2 0h1m1 0h1m2 0h1m3 0h1m1 0h1m1 0h1m2 0h2m1 0h1m1 0h1m1 0h3m1 0h2m1 0h3m1 0h3m1 0h2m1 0h1m2 0h3m2 0h1m10 0h1m16 0h1M394 1414.5h1m3 0h2m1 0h3m2 0h1m1 0h2m3 0h1m1 0h3m1 0h3m1 0h2m2 0h1m1 0h3m2 0h1m1 0h1m2 0h2m2 0h3m1 0h1m3 0h1m4 0h2m58 0h1M382 1415.5h1m18 0h1m4 0h8m1 0h2m2 0h1m11 0h3m2 0h4m3 0h1m3 0h1m2 0h2m2 0h1M361 1416.5h1m12 0h1m4 0h1m5 0h2m3 0h1m1 0h1m2 0h1m3 0h1m5 0h1m1 0h4m1 0h1m1 0h4m16 0h7m1 0h1m1 0h1m1 0h2m1 0h1m6 0h1M362 1417.5h1m16 0h1m3 0h2m3 0h1m2 0h2m3 0h1m1 0h2m1 0h2m1 0h1m1 0h1m1 0h2m1 0h2m24 0h4m2 0h2m1 0h2m1 0h1m2 0h1m8 0h1M361 1418.5h1m21 0h1m4 0h1m9 0h1m1 0h2m2 0h2m1 0h5m29 0h5m1 0h3m1 0h2m1 0h1m5 0h1m18 0h1M361 1419.5h1m23 0h2m6 0h1m1 0h3m3 0h7m1 0h1m34 0h5m1 0h1m1 0h1m1 0h2m1 0h1m3 0h1m15 0h1M369 1420.5h1m10 0h1m4 0h1m1 0h2m2 0h3m1 0h1m1 0h3m2 0h1m1 0h3m36 0h1m4 0h2m1 0h4m1 0h1M352 1421.5h1m3 0h1m2 0h1m10 0h2m5 0h2m1 0h1m1 0h4m2 0h1m1 0h1m1 0h1m1 0h4m1 0h4m1 0h1m39 0h4m1 0h1m1 0h3m2 0h2m3 0h1m1 0h1M325 1422.5h1m54 0h2m3 0h1m1 0h2m1 0h1m3 0h1m1 0h1m1 0h4m44 0h2m1 0h1m1 0h1m2 0h3m1 0h1m2 0h1M374 1423.5h1m1 0h1m2 0h1m4 0h2m3 0h2m1 0h5m1 0h2m47 0h2m1 0h6m1 0h2m3 0h1M362 1424.5h1m7 0h1m4 0h1m1 0h2m2 0h3m1 0h1m3 0h2m2 0h3m53 0h6m1 0h3m3 0h1m3 0h1M360 1425.5h1m13 0h1m5 0h4m1 0h2m1 0h1m2 0h2m57 0h2m3 0h3m3 0h1M360 1426.5h1m6 0h1m5 0h1m1 0h2m4 0h2m2 0h3m1 0h3m60 0h2m5 0h1M366 1427.5h2m5 0h1m2 0h6m1 0h2m2 0h2m65 0h1m3 0h2m2 0h1m4 0h1m10 0h1M358 1428.5h1m1 0h2m2 0h2m3 0h1m4 0h2m2 0h3m4 0h1m1 0h1m66 0h7m2 0h4M349 1429.5h1m4 0h1m6 0h2m3 0h1m1 0h1m1 0h2m1 0h2m1 0h1m2 0h2m1 0h2m72 0h1m1 0h2m2 0h3m2 0h2m1 0h1M353 1430.5h1m1 0h1m2 0h1m1 0h1m3 0h1m2 0h1m1 0h1m2 0h3m2 0h5m76 0h2m3 0h3m6 0h2M348 1431.5h1m7 0h1m1 0h1m2 0h1m2 0h1m1 0h5m1 0h1m2 0h1m1 0h3m79 0h1m1 0h1m3 0h1m1 0h3M353 1432.5h1m8 0h1m2 0h1m5 0h6m82 0h1m1 0h1m1 0h2M352 1433.5h1m5 0h3m1 0h4m1 0h2m1 0h1m2 0h1m84 0h6m1 0h2M347 1434.5h1m2 0h1m9 0h1m2 0h1m1 0h2m1 0h2m1 0h2m87 0h3m1 0h1m1 0h2m5 0h1M358 1435.5h1m1 0h1m4 0h2m1 0h4m87 0h1m1 0h1m1 0h2m3 0h1M319 1436.5h1m31 0h1m4 0h3m1 0h7m1 0h2m89 0h1m1 0h1m4 0h1m1 0h1M350 1437.5h4m2 0h1m2 0h4m1 0h3m94 0h1m1 0h1m1 0h1m1 0h1m1 0h1M349 1438.5h1m2 0h1m2 0h1m2 0h1m1 0h1m2 0h3m94 0h2m1 0h1m1 0h3m7 0h1M337 1439.5h1m11 0h1m1 0h1m5 0h1m2 0h1m2 0h1m96 0h1m2 0h1m1 0h1m3 0h1m2 0h1m2 0h1M348 1440.5h2m1 0h2m4 0h1m1 0h2m100 0h1m2 0h3m4 0h1M349 1441.5h2m2 0h2m1 0h1m2 0h2m101 0h1m1 0h3m3 0h1m2 0h1M341 1442.5h1m2 0h1m2 0h1m2 0h1m3 0h2m1 0h1m1 0h1m101 0h4m1 0h2m9 0h1M348 1443.5h3m2 0h2m1 0h3m102 0h1m1 0h2m1 0h2m1 0h1m7 0h1M348 1444.5h3m4 0h3m103 0h2m2 0h2m4 0h2M345 1445.5h1m9 0h2m103 0h4m3 0h2m1 0h1M350 1446.5h1m2 0h1m1 0h2m104 0h1m2 0h1m2 0h2m2 0h1M343 1447.5h1m2 0h1m1 0h3m1 0h4m107 0h1m4 0h1M338 1448.5h1m7 0h1m2 0h2m1 0h2m1 0h1m104 0h3m1 0h2m2 0h1M341 1449.5h1m6 0h7m103 0h2m1 0h3m2 0h1m1 0h1m1 0h1M341 1450.5h2m4 0h3m1 0h1m2 0h2m101 0h3m5 0h1m4 0h1m3 0h1M344 1451.5h1m3 0h1m1 0h1m1 0h1m1 0h2m100 0h9m7 0h2M337 1452.5h1m8 0h1m1 0h2m2 0h1m2 0h2m97 0h1m1 0h3m4 0h1m3 0h2m2 0h1M347 1453.5h1m5 0h2m1 0h1m94 0h1m2 0h3m1 0h1m1 0h4m3 0h1m5 0h1M349 1454.5h6m2 0h1m89 0h2m1 0h1m3 0h1m1 0h1m2 0h1m1 0h1m22 0h1M353 1455.5h2m2 0h2m83 0h5m1 0h3m1 0h4m2 0h1m1 0h3m5 0h1M320 1456.5h1m29 0h1m2 0h3m2 0h2m78 0h1m1 0h1m1 0h1m1 0h10m1 0h1m3 0h1m2 0h3M345 1457.5h2m2 0h1m1 0h1m1 0h1m1 0h1m79 0h2m1 0h1m3 0h2m1 0h2m1 0h1m1 0h1m6 0h3m9 0h1m1 0h1M345 1458.5h2m2 0h3m1 0h2m1 0h2m1 0h4m67 0h4m4 0h4m2 0h1m1 0h1m7 0h2m1 0h1m2 0h1M343 1459.5h1m3 0h1m4 0h1m4 0h3m1 0h4m60 0h2m1 0h4m1 0h5m2 0h7m1 0h1m2 0h4m3 0h1m1 0h1m4 0h1M337 1460.5h1m3 0h1m4 0h1m4 0h3m1 0h3m2 0h2m1 0h2m1 0h1m59 0h4m1 0h2m3 0h2m4 0h1m2 0h1m6 0h1m7 0h1M354 1461.5h2m2 0h1m1 0h1m2 0h1m2 0h3m47 0h1m1 0h1m4 0h3m1 0h1m1 0h1m1 0h2m1 0h2m2 0h4m3 0h1m5 0h2m1 0h5m2 0h1M349 1462.5h2m1 0h1m1 0h1m1 0h2m1 0h1m2 0h1m1 0h1m3 0h2m1 0h1m44 0h6m1 0h2m2 0h4m1 0h2m2 0h2m2 0h2m1 0h1m1 0h1m4 0h2m2 0h2m5 0h2m16 0h1M340 1463.5h1m9 0h2m5 0h2m2 0h3m12 0h1m30 0h1m3 0h1m1 0h3m2 0h4m2 0h1m1 0h1m1 0h3m1 0h2m3 0h1m2 0h2m4 0h2m2 0h1m2 0h2m3 0h1M348 1464.5h1m7 0h1m1 0h2m1 0h3m1 0h1m1 0h1m6 0h7m22 0h2m3 0h5m1 0h3m2 0h2m3 0h4m3 0h1m1 0h2m5 0h1m1 0h2m1 0h1m24 0h1M355 1465.5h1m3 0h1m1 0h1m3 0h2m1 0h5m1 0h3m1 0h7m1 0h3m1 0h3m1 0h3m1 0h3m1 0h1m1 0h2m2 0h1m3 0h2m3 0h1m1 0h1m1 0h1m2 0h1m1 0h2m1 0h2m6 0h4m9 0h1m1 0h3m6 0h1m2 0h1m10 0h1M331 1466.5h1m21 0h2m4 0h1m1 0h6m1 0h6m1 0h4m1 0h1m6 0h3m1 0h1m1 0h1m2 0h1m2 0h1m1 0h1m1 0h5m1 0h1m3 0h2m8 0h1m5 0h2m12 0h1m8 0h1m3 0h1M344 1467.5h1m16 0h1m7 0h4m1 0h1m1 0h3m1 0h4m3 0h3m1 0h1m1 0h1m1 0h2m1 0h3m1 0h1m1 0h4m1 0h1m1 0h2m10 0h2m3 0h1m4 0h1m2 0h1m6 0h1M326 1468.5h1m17 0h1m9 0h1m6 0h1m1 0h4m1 0h1m1 0h1m2 0h1m2 0h4m1 0h1m5 0h6m1 0h1m1 0h4m1 0h2m1 0h1m2 0h2m1 0h4m1 0h3m1 0h1m2 0h2m2 0h2m3 0h1m1 0h1m5 0h1m2 0h1m1 0h1m11 0h1m1 0h1m5 0h1M367 1469.5h1m5 0h2m5 0h2m3 0h1m1 0h1m4 0h1m1 0h3m1 0h1m3 0h1m1 0h1m1 0h3m3 0h4m4 0h1m12 0h1m1 0h2m13 0h1M351 1470.5h1m9 0h1m8 0h1m1 0h1m1 0h1m11 0h1m1 0h2m2 0h1m2 0h1m2 0h1m1 0h3m5 0h1m2 0h1m2 0h1m1 0h1m10 0h1m7 0h1m1 0h1m5 0h1m1 0h1m13 0h1m16 0h1M358 1471.5h1m3 0h1m11 0h1m3 0h3m1 0h6m2 0h2m2 0h1m5 0h3m5 0h1m1 0h1m27 0h1m9 0h1m3 0h1m1 0h1M368 1472.5h1m6 0h1m1 0h1m2 0h1m1 0h1m2 0h1m3 0h1m4 0h1m3 0h1m1 0h1m6 0h1m2 0h1m1 0h1m2 0h1m2 0h1m4 0h1m1 0h2m9 0h1M337 1473.5h1m30 0h1m1 0h1m5 0h1m5 0h4m1 0h4m2 0h1m1 0h1m1 0h1m1 0h1m6 0h1m2 0h1m13 0h1m4 0h1m52 0h1M359 1474.5h1m2 0h1m3 0h1m2 0h1m1 0h1m1 0h2m4 0h1m2 0h2m2 0h2m7 0h1m7 0h1m3 0h1m3 0h1m10 0h1M365 1475.5h1m3 0h1m4 0h1m3 0h1m8 0h1m2 0h1m3 0h1m1 0h1m6 0h1m24 0h1m24 0h1m62 0h1M367 1476.5h1m6 0h1m8 0h1m1 0h1m1 0h2m6 0h1m3 0h1m4 0h1m12 0h1M364 1477.5h1m5 0h1m5 0h1m11 0h1m18 0h1m24 0h1M368 1478.5h1m6 0h1m9 0h1m11 0h1m1 0h1M374 1479.5h1m12 0h1m13 0h1m8 0h1M388 1480.5h1m5 0h1m66 0h1m1 0h1M351 1481.5h1m32 0h1M360 1482.5h1m35 0h1M370 1483.5h1M393 1484.5h1M375 1485.5h1m19 0h1m16 0h1M374 1487.5h1M373 1488.5h1M403 1489.5h1M312 1491.5h1M405 1494.5h1m65 0h1M361 1495.5h1" stroke="#000" stroke-width="1" fill="none" shape-rendering="crispEdges"/>
<path d="M357.1 1445.7L358.0 1444.6L359.0 1443.5L360.1 1442.5L361.3 1441.4L362.7 1440.4L364.1 1439.5L365.6 1438.5L367.3 1437.6L369.1 1436.7L371.0 1435.8L373.0 1434.8L375.1 1433.9L377.3 1432.9L379.7 1431.8L382.1 1430.8L384.7 1429.7L387.3 1428.6L390.0 1427.5L392.5 1426.5L395.0 1425.4L397.5 1424.4L399.8 1423.5L402.2 1422.5L404.4 1421.6L406.7 1420.7L408.8 1419.9L410.8 1419.1L412.6 1418.4L414.4 1417.7L416.1 1417.1L417.6 1416.5L419.1 1416.0L420.4 1415.6L421.8 1415.2L423.1 1415.0L424.4 1414.8L425.8 1414.8L427.1 1414.8L428.4 1414.9L429.8 1415.2L431.1 1415.5L432.5 1415.9L434.0 1416.4L435.5 1417.0L437.0 1417.7L438.6 1418.4L440.3 1419.3L442.0 1420.2L443.8 1421.2L445.5 1422.2L447.1 1423.2L448.6 1424.3L450.1 1425.3L451.4 1426.4L452.7 1427.5L453.9 1428.6L455.0 1429.7L456.0 1430.8L456.9 1432.0L457.8 1433.2L458.5 1434.4L459.1 1435.7L459.6 1436.9L460.1 1438.2L460.4 1439.6L460.6 1440.8L460.8 1442.1L460.8 1443.3L460.6 1444.5L460.4 1445.6L460.1 1446.7L459.6 1447.7L459.1 1448.7L458.3 1449.6L457.4 1450.5L456.3 1451.3L455.0 1452.0L453.6 1452.7L451.9 1453.3L450.1 1453.8L448.1 1454.2L445.9 1454.7L443.6 1455.2L441.1 1455.8L438.4 1456.4L435.6 1457.1L432.6 1457.8L429.4 1458.5L426.1 1459.3L422.9 1460.0L419.8 1460.7L416.9 1461.4L414.1 1462.0L411.5 1462.6L409.0 1463.1L406.7 1463.6L404.4 1464.0L402.2 1464.4L399.8 1464.7L397.5 1464.9L395.0 1465.0L392.5 1465.0L390.0 1465.0L387.3 1464.8L384.7 1464.6L382.1 1464.3L379.7 1464.0L377.3 1463.6L375.1 1463.1L373.0 1462.6L371.0 1462.1L369.1 1461.4L367.3 1460.8L365.6 1460.0L364.1 1459.3L362.7 1458.4L361.3 1457.5L360.1 1456.6L359.0 1455.6L358.0 1454.5L357.1 1453.5L356.4 1452.3L356.0 1451.2L355.8 1450.1L355.8 1449.0L356.0 1447.9L356.4 1446.8Z" fill="#fff" stroke="#fff" stroke-width="0.6"/>
<path d="M399.5 1461.4L398.0 1461.6L396.5 1461.7L395.0 1461.7L393.5 1461.8L392.0 1461.7L390.5 1461.7L389.0 1461.5L387.6 1461.4L386.5 1461.3L385.0 1461.1L383.7 1460.9L382.5 1460.7L381.0 1460.5L380.0 1460.3L378.5 1460.0L377.5 1459.8L376.0 1459.5L375.0 1459.3L373.6 1458.9L372.5 1458.6L371.5 1458.3L370.3 1457.9L369.0 1457.4L368.0 1457.0L367.0 1456.5L366.0 1456.0L365.0 1455.4L364.1 1454.9L363.4 1454.4L362.5 1453.7L361.6 1452.9L361.0 1452.3L360.3 1451.4L359.7 1450.4L359.6 1448.9L360.2 1447.9L361.0 1446.9L361.5 1446.3L362.4 1445.4L363.0 1444.9L364.0 1444.1L365.0 1443.4L365.7 1442.9L366.5 1442.4L367.5 1441.8L368.5 1441.2L369.5 1440.7L370.5 1440.2L371.5 1439.7L372.5 1439.2L373.5 1438.7L374.5 1438.2L375.5 1437.7L376.5 1437.3L377.5 1436.8L378.5 1436.3L379.5 1435.8L380.5 1435.3L381.5 1434.8L382.5 1434.3L383.5 1433.9L384.5 1433.4L385.5 1432.9L386.7 1432.4L387.8 1431.9L389.0 1431.4L390.0 1431.0L391.0 1430.6L392.0 1430.2L393.0 1429.8L394.2 1429.4L395.5 1428.9L396.5 1428.6L397.5 1428.2L398.5 1427.8L399.6 1427.4L400.9 1426.9L402.0 1426.5L403.0 1426.0L404.0 1425.6L405.0 1425.2L406.0 1424.8L407.0 1424.3L408.0 1423.9L409.1 1423.4L410.2 1422.9L411.4 1422.4L412.5 1421.9L413.5 1421.5L414.5 1421.1L415.5 1420.8L416.5 1420.4L418.0 1419.9L419.0 1419.6L420.0 1419.2L421.2 1418.9L422.5 1418.6L423.8 1418.4L425.0 1418.3L426.5 1418.3L427.5 1418.4L429.0 1418.7L430.0 1419.0L431.4 1419.4L432.5 1419.8L433.5 1420.2L434.5 1420.6L435.5 1421.0L436.5 1421.5L437.5 1422.0L438.5 1422.5L439.5 1423.1L440.5 1423.6L441.5 1424.2L442.5 1424.8L443.5 1425.4L444.3 1425.9L445.1 1426.4L446.0 1427.0L447.0 1427.7L447.9 1428.4L448.5 1428.9L449.5 1429.7L450.3 1430.4L451.0 1431.0L451.9 1431.9L452.5 1432.5L453.3 1433.4L454.0 1434.4L454.5 1435.1L455.0 1435.9L455.5 1436.9L456.0 1437.9L456.5 1439.4L456.8 1440.4L457.0 1441.9L457.0 1442.9L456.9 1443.9L456.5 1445.4L456.1 1446.4L455.5 1447.1L454.6 1447.9L453.8 1448.4L452.8 1448.9L451.6 1449.4L450.5 1449.8L449.5 1450.0L448.0 1450.4L447.0 1450.6L445.8 1450.9L444.5 1451.2L443.5 1451.4L442.0 1451.8L441.0 1452.0L439.5 1452.3L438.5 1452.6L437.2 1452.9L436.0 1453.2L435.0 1453.4L433.5 1453.8L432.5 1454.0L431.0 1454.4L430.0 1454.6L428.9 1454.9L427.5 1455.2L426.5 1455.5L425.0 1455.8L424.0 1456.0L422.5 1456.4L421.5 1456.6L420.1 1456.9L419.0 1457.1L417.8 1457.4L416.5 1457.7L415.5 1457.9L414.0 1458.2L413.0 1458.5L411.5 1458.8L410.5 1459.0L409.0 1459.4L408.0 1459.6L406.9 1459.9L405.5 1460.3L404.5 1460.5L403.0 1460.8L402.0 1461.0L400.5 1461.3L399.5 1461.4ZM398.0 1458.9L396.5 1459.1L395.0 1459.1L393.5 1459.1L392.0 1459.1L390.5 1459.0L389.5 1458.8L388.0 1458.7L386.5 1458.4L385.5 1458.2L384.0 1458.0L383.0 1457.8L381.5 1457.5L380.5 1457.3L379.0 1456.9L378.0 1456.7L376.7 1456.4L375.5 1456.1L374.5 1455.8L373.0 1455.4L372.0 1455.1L371.0 1454.7L370.0 1454.3L369.0 1453.9L368.0 1453.4L367.0 1452.9L366.0 1452.3L365.0 1451.6L364.2 1450.9L363.5 1450.2L363.5 1448.9L364.0 1448.4L365.0 1447.4L365.7 1446.9L366.5 1446.3L367.5 1445.6L368.5 1444.9L369.4 1444.4L370.3 1443.9L371.3 1443.4L372.2 1442.9L373.2 1442.4L374.2 1441.9L375.2 1441.4L376.2 1440.9L377.1 1440.4L378.1 1439.9L379.0 1439.4L380.0 1438.9L381.0 1438.3L382.0 1437.8L383.0 1437.2L384.0 1436.7L385.0 1436.2L386.0 1435.7L387.0 1435.2L388.0 1434.7L389.0 1434.2L390.0 1433.8L391.1 1433.4L392.4 1432.9L393.5 1432.5L394.5 1432.2L395.5 1431.8L396.9 1431.4L398.0 1431.1L399.0 1430.7L400.0 1430.4L401.4 1429.9L402.5 1429.5L403.5 1429.1L404.5 1428.6L405.5 1428.2L406.5 1427.7L407.5 1427.2L408.5 1426.7L409.5 1426.2L410.5 1425.7L411.5 1425.3L412.5 1424.8L413.5 1424.4L414.6 1423.9L415.9 1423.4L417.0 1423.0L418.0 1422.7L419.0 1422.3L420.5 1421.9L421.5 1421.6L422.6 1421.4L424.0 1421.2L425.5 1421.2L427.0 1421.3L428.0 1421.5L429.5 1421.9L430.5 1422.2L431.5 1422.6L432.5 1423.0L433.5 1423.5L434.5 1424.0L435.5 1424.5L436.5 1425.0L437.5 1425.5L438.5 1426.1L439.5 1426.7L440.5 1427.3L441.5 1427.9L442.3 1428.4L443.0 1428.9L444.0 1429.6L445.0 1430.3L445.9 1430.9L446.5 1431.4L447.5 1432.2L448.3 1432.9L449.0 1433.6L449.8 1434.4L450.5 1435.1L451.1 1435.9L451.8 1436.9L452.4 1437.9L452.9 1438.9L453.3 1439.9L453.6 1440.9L453.8 1442.4L453.6 1443.9L453.2 1444.9L452.5 1445.4L451.5 1445.9L450.4 1446.4L449.0 1446.8L448.0 1447.1L446.7 1447.4L445.5 1447.7L444.5 1447.9L443.0 1448.2L442.0 1448.5L440.5 1448.8L439.5 1449.1L438.1 1449.4L437.0 1449.7L436.0 1449.9L434.5 1450.3L433.5 1450.6L432.3 1450.9L431.0 1451.2L430.0 1451.5L428.5 1451.9L427.5 1452.2L426.5 1452.4L425.0 1452.8L424.0 1453.0L422.5 1453.3L421.5 1453.5L420.0 1453.9L419.0 1454.1L417.5 1454.4L416.5 1454.6L415.0 1454.9L414.0 1455.1L412.5 1455.4L411.5 1455.6L410.5 1455.9L409.0 1456.3L408.0 1456.6L406.8 1456.9L405.5 1457.3L404.5 1457.6L403.3 1457.9L402.0 1458.2L401.0 1458.4L399.5 1458.7L398.1 1458.9ZM398.5 1456.4L397.0 1456.6L395.5 1456.8L394.0 1456.8L392.5 1456.7L391.0 1456.6L389.8 1456.4L388.5 1456.2L387.3 1455.9L386.0 1455.6L385.0 1455.4L383.5 1455.0L382.5 1454.7L381.3 1454.4L380.0 1454.0L379.0 1453.8L377.6 1453.4L376.5 1453.1L375.5 1452.8L374.1 1452.4L373.0 1452.0L372.0 1451.7L371.0 1451.3L370.0 1450.8L369.0 1450.3L368.0 1449.7L368.3 1448.9L369.1 1448.4L370.0 1447.8L371.0 1447.2L372.0 1446.6L373.0 1446.1L374.0 1445.6L375.0 1445.0L376.0 1444.5L377.0 1444.0L378.0 1443.4L378.8 1442.9L379.7 1442.4L380.5 1441.9L381.5 1441.3L382.5 1440.6L383.5 1440.0L384.4 1439.4L385.2 1438.9L386.1 1438.4L387.0 1437.9L388.0 1437.3L389.0 1436.8L390.0 1436.4L391.1 1435.9L392.4 1435.4L393.5 1435.0L394.5 1434.7L395.6 1434.4L397.0 1434.0L398.0 1433.8L399.5 1433.4L400.5 1433.1L401.5 1432.8L402.9 1432.4L404.0 1432.0L405.0 1431.5L406.0 1431.1L407.0 1430.5L408.0 1430.0L409.0 1429.4L409.9 1428.9L410.8 1428.4L411.7 1427.9L412.6 1427.4L413.6 1426.9L414.7 1426.4L415.8 1425.9L417.0 1425.4L418.0 1425.1L419.0 1424.8L420.4 1424.4L421.5 1424.2L422.8 1423.9L424.0 1423.7L425.5 1423.7L426.8 1423.9L428.0 1424.2L429.0 1424.5L430.0 1424.9L431.0 1425.4L432.0 1425.9L433.0 1426.4L434.0 1427.0L435.0 1427.5L436.0 1428.1L437.0 1428.8L438.0 1429.4L438.8 1429.9L439.6 1430.4L440.5 1431.0L441.5 1431.7L442.5 1432.4L443.2 1432.9L444.0 1433.5L445.0 1434.3L445.7 1434.9L446.5 1435.6L447.3 1436.4L448.0 1437.2L448.6 1437.9L449.3 1438.9L449.8 1439.9L450.2 1440.9L450.5 1442.1L450.4 1442.9L449.2 1443.4L448.0 1443.8L447.0 1444.0L445.5 1444.4L444.5 1444.6L443.2 1444.9L442.0 1445.2L441.0 1445.4L439.5 1445.8L438.5 1446.1L437.3 1446.4L436.0 1446.8L435.0 1447.0L433.8 1447.4L432.5 1447.8L431.5 1448.1L430.5 1448.4L429.0 1448.9L428.0 1449.2L427.0 1449.5L425.5 1449.9L424.5 1450.1L423.3 1450.4L422.0 1450.7L420.8 1450.9L419.5 1451.1L418.0 1451.4L417.0 1451.5L415.5 1451.8L414.5 1452.0L413.0 1452.3L412.0 1452.5L410.5 1452.8L409.5 1453.1L408.5 1453.4L407.1 1453.9L406.0 1454.3L405.0 1454.6L404.0 1455.0L402.8 1455.4L401.5 1455.8L400.5 1456.0L399.0 1456.4ZM397.0 1454.5L395.5 1454.6L394.0 1454.6L392.5 1454.5L391.5 1454.4L390.0 1454.1L389.0 1453.9L387.5 1453.5L386.5 1453.2L385.5 1452.8L384.2 1452.4L383.0 1452.0L382.0 1451.6L381.0 1451.3L379.8 1450.9L378.5 1450.5L377.5 1450.2L376.5 1449.8L375.2 1449.4L375.0 1448.6L376.0 1448.1L377.0 1447.5L378.0 1446.9L378.8 1446.4L379.6 1445.9L380.5 1445.3L381.5 1444.6L382.4 1443.9L383.1 1443.4L384.0 1442.7L385.0 1441.9L385.7 1441.4L386.5 1440.9L387.5 1440.2L388.5 1439.6L389.5 1439.0L390.5 1438.5L391.5 1438.1L392.5 1437.7L393.5 1437.3L395.0 1436.9L396.0 1436.7L397.2 1436.4L398.5 1436.1L399.9 1435.9L401.0 1435.7L402.3 1435.4L403.5 1435.1L404.5 1434.7L405.5 1434.3L406.5 1433.8L407.5 1433.3L408.5 1432.7L409.5 1432.0L410.4 1431.4L411.1 1430.9L412.0 1430.3L413.0 1429.7L414.0 1429.1L415.0 1428.6L416.0 1428.1L417.0 1427.7L418.0 1427.3L419.3 1426.9L420.5 1426.6L421.5 1426.4L423.0 1426.1L424.5 1426.0L426.0 1426.1L427.1 1426.4L428.4 1426.9L429.4 1427.4L430.4 1427.9L431.3 1428.4L432.1 1428.9L433.0 1429.5L434.0 1430.2L435.0 1430.9L435.8 1431.4L436.5 1431.9L437.5 1432.6L438.5 1433.4L439.2 1433.9L440.0 1434.5L441.0 1435.2L441.9 1435.9L442.5 1436.4L443.5 1437.2L444.2 1437.9L445.0 1438.7L445.7 1439.4L446.4 1440.4L445.5 1441.1L444.1 1441.4L443.0 1441.7L442.0 1441.9L440.5 1442.3L439.5 1442.6L438.3 1442.9L437.0 1443.3L436.0 1443.6L435.0 1444.0L433.8 1444.4L432.5 1444.9L431.5 1445.3L430.5 1445.7L429.5 1446.0L428.5 1446.4L427.0 1446.9L426.0 1447.2L425.0 1447.5L423.5 1447.9L422.5 1448.1L421.0 1448.4L420.0 1448.6L418.5 1448.8L417.3 1448.9L416.0 1449.0L414.5 1449.2L413.1 1449.4L412.0 1449.6L410.5 1449.9L409.5 1450.2L408.5 1450.5L407.4 1450.9L406.2 1451.4L405.0 1451.9L404.0 1452.4L403.0 1452.8L402.0 1453.2L401.0 1453.5L399.8 1453.9L398.5 1454.2L397.4 1454.4ZM396.5 1452.4L395.0 1452.5L393.5 1452.5L392.4 1452.4L391.0 1452.1L390.0 1451.9L388.5 1451.4L387.5 1451.0L386.5 1450.6L385.5 1450.2L384.5 1449.7L383.5 1449.3L382.5 1448.8L381.5 1448.4L382.0 1447.7L383.0 1446.9L383.5 1446.4L384.5 1445.5L385.2 1444.9L386.0 1444.2L386.9 1443.4L387.5 1442.9L388.5 1442.1L389.5 1441.5L390.4 1440.9L391.4 1440.4L392.5 1439.9L393.5 1439.5L394.5 1439.2L395.8 1438.9L397.0 1438.7L398.5 1438.5L399.5 1438.4L401.0 1438.2L402.5 1438.0L403.5 1437.9L405.0 1437.5L406.0 1437.1L407.0 1436.7L408.0 1436.1L409.0 1435.4L409.6 1434.9L410.5 1434.2L411.5 1433.4L412.1 1432.9L413.0 1432.2L414.0 1431.5L415.0 1430.9L415.8 1430.4L416.8 1429.9L418.0 1429.4L419.0 1429.1L420.0 1428.8L421.5 1428.5L422.5 1428.3L424.0 1428.2L425.5 1428.3L426.5 1428.5L427.5 1428.9L428.5 1429.4L429.5 1430.0L430.5 1430.7L431.4 1431.4L432.1 1431.9L433.0 1432.6L433.9 1433.4L434.5 1433.9L435.5 1434.7L436.3 1435.4L437.0 1435.9L438.0 1436.8L438.8 1437.4L439.5 1438.0L440.5 1438.8L440.0 1439.2L439.0 1439.5L437.6 1439.9L436.5 1440.3L435.5 1440.7L434.5 1441.1L433.5 1441.6L432.5 1442.0L431.5 1442.5L430.5 1443.0L429.5 1443.5L428.5 1443.9L427.4 1444.4L426.1 1444.9L425.0 1445.3L424.0 1445.6L422.6 1445.9L421.5 1446.1L420.0 1446.3L419.0 1446.5L417.5 1446.6L416.0 1446.6L414.5 1446.7L413.0 1446.8L411.8 1446.9L410.5 1447.1L409.2 1447.4L408.0 1447.8L407.0 1448.2L406.0 1448.7L405.0 1449.2L404.0 1449.7L403.0 1450.2L402.0 1450.7L401.0 1451.2L400.0 1451.6L399.0 1451.9L397.5 1452.3L396.5 1452.4ZM395.5 1450.4L394.0 1450.4L393.0 1450.3L391.5 1450.0L390.5 1449.7L389.5 1449.4L388.4 1448.9L387.5 1448.4L386.5 1447.9L386.7 1446.9L387.5 1446.0L388.1 1445.4L389.0 1444.6L389.8 1443.9L390.5 1443.4L391.5 1442.7L392.5 1442.2L393.5 1441.8L394.6 1441.4L396.0 1441.0L397.0 1440.9L398.5 1440.8L400.0 1440.7L401.5 1440.7L403.0 1440.6L404.5 1440.5L405.5 1440.3L406.9 1439.9L407.9 1439.4L408.8 1438.9L409.5 1438.4L410.5 1437.5L411.1 1436.9L412.0 1436.0L412.6 1435.4L413.5 1434.6L414.3 1433.9L415.0 1433.3L416.0 1432.6L417.0 1432.0L418.0 1431.5L419.0 1431.1L420.0 1430.8L421.5 1430.5L422.5 1430.4L424.0 1430.3L425.5 1430.4L426.5 1430.7L427.5 1431.3L428.4 1431.9L429.1 1432.4L430.0 1433.2L430.8 1433.9L431.5 1434.6L432.3 1435.4L433.0 1436.1L433.8 1436.9L434.5 1437.6L434.0 1438.3L433.0 1438.8L432.1 1439.4L431.2 1439.9L430.4 1440.4L429.5 1440.9L428.5 1441.5L427.5 1442.0L426.5 1442.5L425.5 1442.9L424.2 1443.4L423.0 1443.8L422.0 1444.0L420.5 1444.2L419.0 1444.4L418.0 1444.4L416.5 1444.4L415.5 1444.4L414.0 1444.3L412.5 1444.3L411.0 1444.3L410.0 1444.4L408.5 1444.7L407.5 1445.0L406.5 1445.4L405.5 1445.9L404.5 1446.5L403.5 1447.1L402.5 1447.8L401.5 1448.4L400.6 1448.9L399.6 1449.4L398.5 1449.8L397.5 1450.1L396.0 1450.4ZM422.0 1442.0L420.5 1442.3L419.0 1442.4L417.5 1442.4L416.0 1442.3L414.5 1442.1L413.3 1441.9L412.0 1441.7L410.5 1441.4L411.5 1440.5L412.0 1439.9L412.8 1438.9L413.5 1438.1L414.0 1437.4L414.9 1436.4L415.5 1435.8L416.5 1434.9L417.2 1434.4L418.0 1433.9L419.0 1433.4L420.2 1432.9L421.5 1432.6L423.0 1432.5L424.5 1432.5L426.0 1432.8L426.9 1433.4L427.5 1433.9L428.5 1434.8L429.1 1435.4L430.0 1436.4L430.5 1437.2L430.0 1437.8L429.2 1438.4L428.5 1438.9L427.5 1439.6L426.5 1440.2L425.5 1440.7L424.5 1441.2L423.5 1441.6L422.4 1441.9ZM396.5 1447.9L395.0 1448.1L393.5 1448.1L392.5 1447.9L391.1 1447.4L390.1 1446.9L391.0 1446.0L391.7 1445.4L392.5 1444.9L393.5 1444.3L394.5 1443.9L396.0 1443.4L397.0 1443.3L398.5 1443.2L400.0 1443.3L401.5 1443.4L402.5 1443.5L403.0 1444.2L402.1 1444.9L401.5 1445.4L400.5 1446.1L399.5 1446.8L398.5 1447.3L397.5 1447.7L396.5 1447.9Z" fill="none" stroke="#606060" stroke-width="0.7"/>
<rect x="355.1" y="1320.9" width="121.79999999999995" height="82.69999999999982" fill="none" stroke="#000" stroke-width="3"/>
<text transform="translate(391.52,1312.70) scale(0.9834,1)" font-size="33.60" style="font-family:'Liberation Sans', sans-serif;" fill="#000" >1.7</text>
<rect x="544.2" y="1282.4" width="216.89999999999998" height="215.5999999999999" fill="none" stroke="#555" stroke-width="1.1"/>
<path d="M541.2 1308.1H544.2M541.2 1300.1H544.2M541.2 1294.5H544.2M541.2 1290.1H544.2M541.2 1286.6H544.2M541.2 1283.6H544.2M541.2 1352.8H544.2M541.2 1345.0H544.2M541.2 1339.4H544.2M541.2 1335.1H544.2M541.2 1331.5H544.2M541.2 1328.5H544.2M541.2 1325.9H544.2M541.2 1323.6H544.2M541.2 1401.9H544.2M541.2 1393.0H544.2M541.2 1386.6H544.2M541.2 1381.7H544.2M541.2 1377.6H544.2M541.2 1374.2H544.2M541.2 1371.2H544.2M541.2 1368.6H544.2M539.2 1321.6H544.2M539.2 1366.3H544.2M539.2 1417.3H544.2M541.2 1432.4H544.2M541.2 1442.4H544.2M541.2 1450.4H544.2M541.2 1468.4H544.2M541.2 1477.4H544.2M541.2 1487.4H544.2M541.2 1496.4H544.2M641.8 1498V1501M650.4 1498V1501M656.6 1498V1501M661.3 1498V1501M665.2 1498V1501M668.5 1498V1501M671.3 1498V1501M673.9 1498V1501M689.3 1498V1501M697.0 1498V1501M702.5 1498V1501M706.7 1498V1501M710.2 1498V1501M713.1 1498V1501M715.7 1498V1501M717.9 1498V1501M733.2 1498V1501M741.0 1498V1501M746.6 1498V1501M750.9 1498V1501M754.4 1498V1501M757.3 1498V1501M759.9 1498V1501M627.0 1498V1503.5M676.1 1498V1503.5M719.9 1498V1503.5M548.2 1498V1501M554.2 1498V1501M560.2 1498V1501M591.2 1498V1501M600.2 1498V1501M608.2 1498V1501M616.2 1498V1501" stroke="#333" stroke-width="1" fill="none"/>
<rect x="570.2" y="1498.5" width="17" height="4" fill="#111"/>
<rect x="538.7" y="1452.9" width="5" height="13" fill="#111"/>
<text transform="translate(520.33,1327.72) scale(1.2596,1)" font-size="8.20" style="font-family:'Liberation Sans', sans-serif;" fill="#222" >10</text>
<text transform="translate(531.58,1321.93) scale(1.0731,1)" font-size="7.46" style="font-family:'Liberation Sans', sans-serif;" fill="#222" >5</text>
<text transform="translate(520.33,1372.42) scale(1.2596,1)" font-size="8.20" style="font-family:'Liberation Sans', sans-serif;" fill="#222" >10</text>
<text transform="translate(531.73,1366.70) scale(0.9949,1)" font-size="7.56" style="font-family:'Liberation Sans', sans-serif;" fill="#222" >4</text>
<text transform="translate(520.33,1423.42) scale(1.2596,1)" font-size="8.20" style="font-family:'Liberation Sans', sans-serif;" fill="#222" >10</text>
<text transform="translate(531.60,1417.63) scale(1.0885,1)" font-size="7.35" style="font-family:'Liberation Sans', sans-serif;" fill="#222" >3</text>
<text transform="translate(524.02,1461.73) scale(1.3074,1)" font-size="7.21" style="font-family:'Liberation Sans', sans-serif;" fill="#222" >0</text>
<text transform="translate(622.70,1523.02) scale(1.1993,1)" font-size="7.77" style="font-family:'Liberation Sans', sans-serif;" fill="#222" >10</text>
<text transform="translate(632.82,1516.42) scale(0.9407,1)" font-size="8.06" style="font-family:'Liberation Sans', sans-serif;" fill="#222" >3</text>
<text transform="translate(671.80,1523.02) scale(1.1993,1)" font-size="7.77" style="font-family:'Liberation Sans', sans-serif;" fill="#222" >10</text>
<text transform="translate(682.04,1516.50) scale(0.8598,1)" font-size="8.29" style="font-family:'Liberation Sans', sans-serif;" fill="#222" >4</text>
<text transform="translate(715.60,1523.02) scale(1.1993,1)" font-size="7.77" style="font-family:'Liberation Sans', sans-serif;" fill="#222" >10</text>
<text transform="translate(725.70,1516.42) scale(0.9274,1)" font-size="8.17" style="font-family:'Liberation Sans', sans-serif;" fill="#222" >5</text>
<text transform="translate(576.45,1523.02) scale(1.1315,1)" font-size="7.77" style="font-family:'Liberation Sans', sans-serif;" fill="#222" >0</text>
<path d="M636 1293.5h1M695 1312.5h1M562 1315.5h1M645 1320.5h1M622 1322.5h1m7 0h1m62 0h1M600 1323.5h1m45 0h1M586 1324.5h1m25 0h1m13 0h1m64 0h1m17 0h1M660 1325.5h1M705 1326.5h1M677 1327.5h1M717 1328.5h1M614 1329.5h1M605 1330.5h1M621 1331.5h1m20 0h1m24 0h1M640 1332.5h1m71 0h1M687 1335.5h1m3 0h1m66 0h1M701 1337.5h1M623 1338.5h1m1 0h1M695 1339.5h1M695 1340.5h1M643 1342.5h1m14 0h1m59 0h1m4 0h1M621 1343.5h1m45 0h1m20 0h1M600 1344.5h1m55 0h1m44 0h1M627 1346.5h1m10 0h1M689 1347.5h1M606 1348.5h1m40 0h1m13 0h1M614 1349.5h1m8 0h1m52 0h1m10 0h1m19 0h1M614 1350.5h1m34 0h1m26 0h1m29 0h1m23 0h1M621 1351.5h1m66 0h1m7 0h1m5 0h1M636 1352.5h1m4 0h1m26 0h1m4 0h1m18 0h1M645 1353.5h1m16 0h1m6 0h2m7 0h1m37 0h1M643 1354.5h1m1 0h1m3 0h1m2 0h1m28 0h2m11 0h2m7 0h1m2 0h1m9 0h1m22 0h1M597 1355.5h1m44 0h1m33 0h1m3 0h1m22 0h1m3 0h1m31 0h1M682 1356.5h1m5 0h1m9 0h2m12 0h1m7 0h1M618 1357.5h1m20 0h1m1 0h1m15 0h1m4 0h1m19 0h2m1 0h1m4 0h1m3 0h1m4 0h1M638 1358.5h1m9 0h1m4 0h1m26 0h1m3 0h1m6 0h1m5 0h1m4 0h1m1 0h1m3 0h1m15 0h1M628 1359.5h1m11 0h1m1 0h1m6 0h1m10 0h2m3 0h1m14 0h1m2 0h1m1 0h2m2 0h1m12 0h1m25 0h1m3 0h2m5 0h1M592 1360.5h1m23 0h1m12 0h1m7 0h1m4 0h1m20 0h1m7 0h2m5 0h1m1 0h1m4 0h1m18 0h1m4 0h1m35 0h1M604 1361.5h1m39 0h1m18 0h1m5 0h1m4 0h1m1 0h2m1 0h1m2 0h1m9 0h1m5 0h1M615 1362.5h1m14 0h1m9 0h1m2 0h1m7 0h1m3 0h1m1 0h1m5 0h1m1 0h1m7 0h1m11 0h1m2 0h1m5 0h1M646 1363.5h1m5 0h1m7 0h1m12 0h1m3 0h1m6 0h1m19 0h1m5 0h1m14 0h1M597 1364.5h1m17 0h1m7 0h1m1 0h1m26 0h1m3 0h1m12 0h1m5 0h1m10 0h2m2 0h1m2 0h2m1 0h1m2 0h1m3 0h1m9 0h1m3 0h1m9 0h1m12 0h1m5 0h1M634 1365.5h1m13 0h1m10 0h2m3 0h1m13 0h1m1 0h1m1 0h1m1 0h1m2 0h1m3 0h1m4 0h2m2 0h1m13 0h1m25 0h1M638 1366.5h1m4 0h1m12 0h2m2 0h3m2 0h1m2 0h1m2 0h2m1 0h1m1 0h1m13 0h2m15 0h1m16 0h1m7 0h1m10 0h1M626 1367.5h1m12 0h1m17 0h1m4 0h1m7 0h1m5 0h1m2 0h1m1 0h1m2 0h1m4 0h1m5 0h3m3 0h1m3 0h1m9 0h1m9 0h1m30 0h1M598 1368.5h1m33 0h1m1 0h1m11 0h1m6 0h2m3 0h2m1 0h1m1 0h3m11 0h1m4 0h1m1 0h2m1 0h1m1 0h1m1 0h1m1 0h1m7 0h1m5 0h1m7 0h1m11 0h1m1 0h1m4 0h1m7 0h1M619 1369.5h1m16 0h2m1 0h1m16 0h1m1 0h1m11 0h2m14 0h2m1 0h1m4 0h1m1 0h1m1 0h1m8 0h1m2 0h1m2 0h1m2 0h1m2 0h1m2 0h1m11 0h1m12 0h1M605 1370.5h1m21 0h1m14 0h2m3 0h1m2 0h3m10 0h1m1 0h1m2 0h1m6 0h1m2 0h1m3 0h1m3 0h1m1 0h1m6 0h2m8 0h1m1 0h1m1 0h1m18 0h1M627 1371.5h1m5 0h1m2 0h1m7 0h1m1 0h1m1 0h1m7 0h3m1 0h1m7 0h2m5 0h1m1 0h3m2 0h5m2 0h2m1 0h2m1 0h1m3 0h3m1 0h4m3 0h1m2 0h1m3 0h1m4 0h1m15 0h2M644 1372.5h1m7 0h1m2 0h1m1 0h1m3 0h1m7 0h1m5 0h1m1 0h1m1 0h1m1 0h1m4 0h1m10 0h2m4 0h2m1 0h1m14 0h1m14 0h1M626 1373.5h1m11 0h3m2 0h1m9 0h1m1 0h2m2 0h2m3 0h1m1 0h1m1 0h2m1 0h1m4 0h4m2 0h1m2 0h2m4 0h2m3 0h2m1 0h2m2 0h3m1 0h1m5 0h1m3 0h2m40 0h1M609 1374.5h1m5 0h1m23 0h1m1 0h1m3 0h1m10 0h1m2 0h1m3 0h1m1 0h3m1 0h2m5 0h1m1 0h2m1 0h1m2 0h1m1 0h2m13 0h2m5 0h2m2 0h1m3 0h1m4 0h1m5 0h1m7 0h1M582 1375.5h1m38 0h1m12 0h1m7 0h1m1 0h1m6 0h1m1 0h1m2 0h1m1 0h1m4 0h1m5 0h1m1 0h3m3 0h2m2 0h2m1 0h1m1 0h1m1 0h1m2 0h2m2 0h2m1 0h4m1 0h1m2 0h2m1 0h2m1 0h2m1 0h1m18 0h1m7 0h1M602 1376.5h1m5 0h2m6 0h1m4 0h1m10 0h1m7 0h1m9 0h1m2 0h1m2 0h1m2 0h2m1 0h1m5 0h3m3 0h2m3 0h1m1 0h2m1 0h2m1 0h1m1 0h1m3 0h1m1 0h3m1 0h1m2 0h2m1 0h2m2 0h2m8 0h1m16 0h1m8 0h1M617 1377.5h2m16 0h2m6 0h1m2 0h1m4 0h2m2 0h1m4 0h1m1 0h1m1 0h2m1 0h2m1 0h1m1 0h1m1 0h1m1 0h2m2 0h1m4 0h1m1 0h2m4 0h1m2 0h1m1 0h1m14 0h1m2 0h2m17 0h1m2 0h1M598 1378.5h1m15 0h1m15 0h1m8 0h2m15 0h2m2 0h3m7 0h1m1 0h2m2 0h1m3 0h2m1 0h1m2 0h5m1 0h1m3 0h2m3 0h1m3 0h1m1 0h1m1 0h2m1 0h1m3 0h1m7 0h1m11 0h1m12 0h1M582 1379.5h1m21 0h1m2 0h1m4 0h1m1 0h2m6 0h1m9 0h1m1 0h1m3 0h2m3 0h2m10 0h1m3 0h2m4 0h1m2 0h1m1 0h1m1 0h1m2 0h3m1 0h1m2 0h2m2 0h1m3 0h2m1 0h1m2 0h1m2 0h1m3 0h2m4 0h1m12 0h1m6 0h1m11 0h1M618 1380.5h1m1 0h1m1 0h1m13 0h2m10 0h2m4 0h1m10 0h3m2 0h1m1 0h2m4 0h3m4 0h2m2 0h1m3 0h3m2 0h1m1 0h3m1 0h1m2 0h3m1 0h2m2 0h1m3 0h1m6 0h1m1 0h1m4 0h1M598 1381.5h1m21 0h1m2 0h1m5 0h2m4 0h2m1 0h1m4 0h1m1 0h1m2 0h2m3 0h1m4 0h2m1 0h2m1 0h5m3 0h3m1 0h2m1 0h1m1 0h3m3 0h1m1 0h1m1 0h2m2 0h2m4 0h1m7 0h3m5 0h2m1 0h1m8 0h1m4 0h1m24 0h1M613 1382.5h1m5 0h4m8 0h1m1 0h1m7 0h4m1 0h3m4 0h1m2 0h1m2 0h1m3 0h2m2 0h1m1 0h7m1 0h1m1 0h1m2 0h2m5 0h2m9 0h3m16 0h1m2 0h1m3 0h1m6 0h1M598 1383.5h1m8 0h1m6 0h1m3 0h1m4 0h1m8 0h1m5 0h3m4 0h1m2 0h1m1 0h2m1 0h2m1 0h2m1 0h1m1 0h2m1 0h1m1 0h2m1 0h1m4 0h1m2 0h1m2 0h1m1 0h2m1 0h3m4 0h1m1 0h1m3 0h3m1 0h2m8 0h1m1 0h2m16 0h1m10 0h1m5 0h1m8 0h1m1 0h1M613 1384.5h1m4 0h2m3 0h1m11 0h4m7 0h4m1 0h2m2 0h1m5 0h2m1 0h2m1 0h2m2 0h2m4 0h5m2 0h6m3 0h3m1 0h1m3 0h1m1 0h3m1 0h1m1 0h1m1 0h3m5 0h1m8 0h1m5 0h1M595 1385.5h1m3 0h1m8 0h2m8 0h1m12 0h1m3 0h1m2 0h1m2 0h4m1 0h3m6 0h2m3 0h2m1 0h1m3 0h1m2 0h3m3 0h1m1 0h5m1 0h2m2 0h5m4 0h2m2 0h3m1 0h1m5 0h1m5 0h1m4 0h1m6 0h2M603 1386.5h1m9 0h1m11 0h1m6 0h1m1 0h1m4 0h2m2 0h1m1 0h1m3 0h2m1 0h8m1 0h5m3 0h1m1 0h6m1 0h1m7 0h2m4 0h1m2 0h1m2 0h2m3 0h2m3 0h1m2 0h1m1 0h1m1 0h1M583 1387.5h1m1 0h1m24 0h1m1 0h1m5 0h1m4 0h1m4 0h2m2 0h1m2 0h2m4 0h2m11 0h5m2 0h1m1 0h1m1 0h1m3 0h2m1 0h7m1 0h4m3 0h2m1 0h3m3 0h1m2 0h3m6 0h5m5 0h1m6 0h1m8 0h1m3 0h1M601 1388.5h2m8 0h1m9 0h1m1 0h1m1 0h1m2 0h1m2 0h5m2 0h1m3 0h2m1 0h2m1 0h2m1 0h3m1 0h1m2 0h2m1 0h5m1 0h8m1 0h2m1 0h2m1 0h7m2 0h1m1 0h3m1 0h1m2 0h3m7 0h2m1 0h1m2 0h1m1 0h1m4 0h1m2 0h1M601 1389.5h1m2 0h2m2 0h1m9 0h1m2 0h1m4 0h1m1 0h1m5 0h1m4 0h3m2 0h1m4 0h2m2 0h1m1 0h3m2 0h10m1 0h4m1 0h9m2 0h1m4 0h4m1 0h1m2 0h3m2 0h4m1 0h1m1 0h1m4 0h1m4 0h1m2 0h1m5 0h1m2 0h2m6 0h1M595 1390.5h1m9 0h1m11 0h1m10 0h1m1 0h1m3 0h1m1 0h2m3 0h1m1 0h1m1 0h2m1 0h2m1 0h9m1 0h5m2 0h2m1 0h5m3 0h4m2 0h1m2 0h5m1 0h2m1 0h1m5 0h3m1 0h1m2 0h2m1 0h2m1 0h1m1 0h1m1 0h1m8 0h1m2 0h1m12 0h1M608 1391.5h2m1 0h2m1 0h1m9 0h1m4 0h2m2 0h1m4 0h1m2 0h3m2 0h3m1 0h10m1 0h6m1 0h1m2 0h8m2 0h5m2 0h2m1 0h3m1 0h1m3 0h1m1 0h1m6 0h3m2 0h1m3 0h2m11 0h1m1 0h1M596 1392.5h1m18 0h1m7 0h4m1 0h1m3 0h1m5 0h5m1 0h1m1 0h4m2 0h11m2 0h13m1 0h4m1 0h4m4 0h3m1 0h3m4 0h1m3 0h1m1 0h2m6 0h2m3 0h1m4 0h1M562 1393.5h1m20 0h1m1 0h1m8 0h2m13 0h1m1 0h2m9 0h2m6 0h1m6 0h1m1 0h4m2 0h7m1 0h3m2 0h13m1 0h4m1 0h2m1 0h9m2 0h2m1 0h4m1 0h3m1 0h1m6 0h1m1 0h4m4 0h2M592 1394.5h1m3 0h2m4 0h1m15 0h1m1 0h1m3 0h1m1 0h1m3 0h3m1 0h1m1 0h1m1 0h1m2 0h2m1 0h1m1 0h1m1 0h1m1 0h13m1 0h9m1 0h4m3 0h3m1 0h2m1 0h2m2 0h2m1 0h1m1 0h1m3 0h3m5 0h3M593 1395.5h1m5 0h1m8 0h1m8 0h1m4 0h1m1 0h1m1 0h1m2 0h4m1 0h2m1 0h1m1 0h1m2 0h6m3 0h2m1 0h28m1 0h3m1 0h1m1 0h6m1 0h1m1 0h1m1 0h2m2 0h2m5 0h1m2 0h1m3 0h2m3 0h1m5 0h1m10 0h1m1 0h1M560 1396.5h1m32 0h1m14 0h1m1 0h1m1 0h1m2 0h4m1 0h1m2 0h2m2 0h2m1 0h1m2 0h2m2 0h6m1 0h3m2 0h25m1 0h18m2 0h3m1 0h1m6 0h2m4 0h2m1 0h1M590 1397.5h1m16 0h1m3 0h1m5 0h1m8 0h1m1 0h1m2 0h2m1 0h1m1 0h1m1 0h1m1 0h1m1 0h1m3 0h1m1 0h21m1 0h14m1 0h3m1 0h1m2 0h6m3 0h1m2 0h3m2 0h1m3 0h1m1 0h1M573 1398.5h1m14 0h1m11 0h1m1 0h1m5 0h1m4 0h1m4 0h2m6 0h1m2 0h1m2 0h1m1 0h3m1 0h1m1 0h4m1 0h2m1 0h3m1 0h28m1 0h8m1 0h2m1 0h5m2 0h1m1 0h3m7 0h2m1 0h2m1 0h1m7 0h1m2 0h1m3 0h1m1 0h1M565 1399.5h1m28 0h1m7 0h1m1 0h1m1 0h1m12 0h1m4 0h1m4 0h1m2 0h1m3 0h1m2 0h1m1 0h2m1 0h39m1 0h3m1 0h4m2 0h6m1 0h3m2 0h2m2 0h1m1 0h2m2 0h1m8 0h1M594 1400.5h1m9 0h1m2 0h1m3 0h1m2 0h1m1 0h1m3 0h1m2 0h1m1 0h1m1 0h1m2 0h1m1 0h2m1 0h3m1 0h9m1 0h43m1 0h6m1 0h1m1 0h4m2 0h4m3 0h1m2 0h2m1 0h1m4 0h1m8 0h1m1 0h1M590 1401.5h1m23 0h1m1 0h2m3 0h1m5 0h1m6 0h1m4 0h1m1 0h41m1 0h10m1 0h1m1 0h3m1 0h3m2 0h3m1 0h1m3 0h1m1 0h1m2 0h1m33 0h1M581 1402.5h1m12 0h2m1 0h1m1 0h1m4 0h1m4 0h2m10 0h1m6 0h2m1 0h2m1 0h1m1 0h1m2 0h3m2 0h46m1 0h8m2 0h1m1 0h2m1 0h1m1 0h1m2 0h1m2 0h1m1 0h1M584 1403.5h1m23 0h1m2 0h1m4 0h1m6 0h1m1 0h5m2 0h1m1 0h1m2 0h3m1 0h3m1 0h50m1 0h8m2 0h3m2 0h1m10 0h1m6 0h1m3 0h1m1 0h1m5 0h1M594 1404.5h1m12 0h1m1 0h1m3 0h1m2 0h1m6 0h1m1 0h2m3 0h1m4 0h3m1 0h3m1 0h1m1 0h1m1 0h13m1 0h12m1 0h11m1 0h9m1 0h2m3 0h1m4 0h1m4 0h1m5 0h1m10 0h1M556 1405.5h1m45 0h3m6 0h1m2 0h1m2 0h2m2 0h1m7 0h2m3 0h18m1 0h11m1 0h4m1 0h1m1 0h31m3 0h1m3 0h2m5 0h1m5 0h1m4 0h1M589 1406.5h1m14 0h2m7 0h2m1 0h2m4 0h3m1 0h2m1 0h5m3 0h39m1 0h22m1 0h5m7 0h2M594 1407.5h1m8 0h1m2 0h2m3 0h1m2 0h2m1 0h3m4 0h1m1 0h5m1 0h4m1 0h4m1 0h1m1 0h12m1 0h6m18 0h4m1 0h14m1 0h5m1 0h2m1 0h1m12 0h1M592 1408.5h1m4 0h1m1 0h1m9 0h1m2 0h1m5 0h1m1 0h2m3 0h1m2 0h6m1 0h24m27 0h23m1 0h1m1 0h1m10 0h1M581 1409.5h1m29 0h1m3 0h2m4 0h1m1 0h1m2 0h1m4 0h1m1 0h7m1 0h15m32 0h14m1 0h2m3 0h1m2 0h2m2 0h1m2 0h1m1 0h1M575 1410.5h1m19 0h1m11 0h2m2 0h1m2 0h2m4 0h2m1 0h1m1 0h9m1 0h19m36 0h12m1 0h1m1 0h4m2 0h1m1 0h2m7 0h2m11 0h1M587 1411.5h1m11 0h1m3 0h1m2 0h1m4 0h2m3 0h1m3 0h1m1 0h1m1 0h1m1 0h6m1 0h10m1 0h8m40 0h9m1 0h6m2 0h1m2 0h2m3 0h1m7 0h1M573 1412.5h1m17 0h1m8 0h1m5 0h1m1 0h1m1 0h6m1 0h3m1 0h2m1 0h3m1 0h22m43 0h9m2 0h2m1 0h2m3 0h1M586 1413.5h1m13 0h1m3 0h1m1 0h1m2 0h1m3 0h3m1 0h8m1 0h3m1 0h18m47 0h15m1 0h2m1 0h1m8 0h1m2 0h1m9 0h1M585 1414.5h1m3 0h1m7 0h2m3 0h1m2 0h1m3 0h3m1 0h6m1 0h1m1 0h5m3 0h15m51 0h15m1 0h2M559 1415.5h1m29 0h1m1 0h1m8 0h1m1 0h2m6 0h2m2 0h1m1 0h10m1 0h16m54 0h8m1 0h4m1 0h1m1 0h1m1 0h2m3 0h2m11 0h1M586 1416.5h1m9 0h1m2 0h1m2 0h1m1 0h1m2 0h4m2 0h10m1 0h17m58 0h7m1 0h1m2 0h7m5 0h1M592 1417.5h2m4 0h1m1 0h1m4 0h2m3 0h2m1 0h1m2 0h2m1 0h3m2 0h4m1 0h9m62 0h7m1 0h5m1 0h2m2 0h1m1 0h1M574 1418.5h1m13 0h1m1 0h1m5 0h1m2 0h1m4 0h1m1 0h1m1 0h1m1 0h7m1 0h18m65 0h15m2 0h1m2 0h1M580 1419.5h1m8 0h1m1 0h1m1 0h1m2 0h1m2 0h2m2 0h1m2 0h1m2 0h3m1 0h4m1 0h15m69 0h9m1 0h1m1 0h3m2 0h1m1 0h1m7 0h1M591 1420.5h2m2 0h2m3 0h4m4 0h1m1 0h21m72 0h2m1 0h1m1 0h4m1 0h1m1 0h1m3 0h2m2 0h1m7 0h1M584 1421.5h2m5 0h2m2 0h1m3 0h5m2 0h3m1 0h4m1 0h13m76 0h4m1 0h7m1 0h2m1 0h1m3 0h2M584 1422.5h1m3 0h5m3 0h2m2 0h6m1 0h2m1 0h6m1 0h9m79 0h14m2 0h4m4 0h1m1 0h1M571 1423.5h1m15 0h1m1 0h1m1 0h1m1 0h2m4 0h3m1 0h2m1 0h3m1 0h12m84 0h8m2 0h3m2 0h1m32 0h1M587 1424.5h1m2 0h2m2 0h1m1 0h2m1 0h3m1 0h2m1 0h14m86 0h10m1 0h3m1 0h1m5 0h1M577 1425.5h1m2 0h1m6 0h2m3 0h2m3 0h21m89 0h8m1 0h4m1 0h1m4 0h1m15 0h1m1 0h1M583 1426.5h1m6 0h1m2 0h1m1 0h6m1 0h1m1 0h11m93 0h10m2 0h3m7 0h1m8 0h1M580 1427.5h1m5 0h1m2 0h2m1 0h1m1 0h10m1 0h8m95 0h12m1 0h2m1 0h1m2 0h1m2 0h1m4 0h1M580 1428.5h1m1 0h2m1 0h2m4 0h2m1 0h3m1 0h12m99 0h11m5 0h2m4 0h1M579 1429.5h1m3 0h1m4 0h3m1 0h6m1 0h2m1 0h6m102 0h12m2 0h2m1 0h1m1 0h3m1 0h1M582 1430.5h1m6 0h1m1 0h15m104 0h5m1 0h2m1 0h2m2 0h1m23 0h1M584 1431.5h1m1 0h3m1 0h4m1 0h8m109 0h2m1 0h6m2 0h1m12 0h1M581 1432.5h1m1 0h2m3 0h1m1 0h4m1 0h8m108 0h14m3 0h3M561 1433.5h1m12 0h1m1 0h1m2 0h1m3 0h2m3 0h3m1 0h9m111 0h5m1 0h5m1 0h2m8 0h1M565 1434.5h1m15 0h1m2 0h2m1 0h13m112 0h11m2 0h1m1 0h1m1 0h1m3 0h1m3 0h1M582 1435.5h1m1 0h1m1 0h1m1 0h2m3 0h6m113 0h9m1 0h2m4 0h1m6 0h1M559 1436.5h1m14 0h1m2 0h2m1 0h2m1 0h2m1 0h5m1 0h6m115 0h2m2 0h2m1 0h1m1 0h2m19 0h1M571 1437.5h1m10 0h2m1 0h6m1 0h5m116 0h6m1 0h6m3 0h1M571 1438.5h1m5 0h2m3 0h1m2 0h4m1 0h6m117 0h6m3 0h2m2 0h1m4 0h2m5 0h1M578 1439.5h2m3 0h3m2 0h2m1 0h5m117 0h6m1 0h3m2 0h1m3 0h1m3 0h1m1 0h1M572 1440.5h1m3 0h1m2 0h2m2 0h12m118 0h5m1 0h4m1 0h1m2 0h1m1 0h1m7 0h1M565 1441.5h1m9 0h2m1 0h1m2 0h1m1 0h11m120 0h7m1 0h2m1 0h1m2 0h1m9 0h1M572 1442.5h1m4 0h1m2 0h1m1 0h3m1 0h4m1 0h3m120 0h8m1 0h1m2 0h2m1 0h1m7 0h1M565 1443.5h1m10 0h1m5 0h1m1 0h1m1 0h7m121 0h10m1 0h2m5 0h3m4 0h1m8 0h1m3 0h1M572 1444.5h1m6 0h1m1 0h1m1 0h1m2 0h7m121 0h7m1 0h2m2 0h1m1 0h1M570 1445.5h1m4 0h1m1 0h1m1 0h1m3 0h10m120 0h5m4 0h3m2 0h2m1 0h1M560 1446.5h1m11 0h2m6 0h5m1 0h6m121 0h8m1 0h2m4 0h1m1 0h1m2 0h1M583 1447.5h1m1 0h7m121 0h9m2 0h3M550 1448.5h1m7 0h1m16 0h2m3 0h12m121 0h7m1 0h2m1 0h1m2 0h1m3 0h1m4 0h1M576 1449.5h1m2 0h1m1 0h2m1 0h8m121 0h7m2 0h1m1 0h1m2 0h2M576 1450.5h1m2 0h1m1 0h6m1 0h4m120 0h8m4 0h1m2 0h2m3 0h2M580 1451.5h1m1 0h10m120 0h8m1 0h1m2 0h1m1 0h1m1 0h1m2 0h1M582 1452.5h10m119 0h10m1 0h4m24 0h1M568 1453.5h1m5 0h1m2 0h1m3 0h2m1 0h3m1 0h4m118 0h11m4 0h1m4 0h1M577 1454.5h1m2 0h2m1 0h9m118 0h7m2 0h3m6 0h1M571 1455.5h1m1 0h1m1 0h1m2 0h1m5 0h6m1 0h2m115 0h7m1 0h2m1 0h3m1 0h1m1 0h2m2 0h2m1 0h1M569 1456.5h1m4 0h1m3 0h4m1 0h2m1 0h8m112 0h13m1 0h3m1 0h3m4 0h1m1 0h1M570 1457.5h1m8 0h5m1 0h9m108 0h11m2 0h6m1 0h1m1 0h1m3 0h1M558 1458.5h1m16 0h1m3 0h1m1 0h1m1 0h1m1 0h11m97 0h17m1 0h7m1 0h1m4 0h1m1 0h2M572 1459.5h2m9 0h2m1 0h11m81 0h21m1 0h8m1 0h5m3 0h1m1 0h2m14 0h1M562 1460.5h1m15 0h1m1 0h1m4 0h14m64 0h28m1 0h23m1 0h1m2 0h1m1 0h2m11 0h2M577 1461.5h1m1 0h2m4 0h5m1 0h11m47 0h20m1 0h37m1 0h7m1 0h3m4 0h1M577 1462.5h1m3 0h3m1 0h1m1 0h1m1 0h15m1 0h3m26 0h26m1 0h27m1 0h3m1 0h12m2 0h2m1 0h1m1 0h3m2 0h2m2 0h1m11 0h1M566 1463.5h1m6 0h1m10 0h1m1 0h7m1 0h6m1 0h40m1 0h41m1 0h4m1 0h4m1 0h5m2 0h1m1 0h2m1 0h5m1 0h2m1 0h3m4 0h3m2 0h1m4 0h1M557 1464.5h1m4 0h1m10 0h1m2 0h2m6 0h1m2 0h4m1 0h61m1 0h1m1 0h17m1 0h4m1 0h6m1 0h13m3 0h1m2 0h2m1 0h3m1 0h1m2 0h1m1 0h2m1 0h1m1 0h1m15 0h1M556 1465.5h1m19 0h1m1 0h1m1 0h2m1 0h2m3 0h1m1 0h4m1 0h3m1 0h57m1 0h3m1 0h3m1 0h3m2 0h1m1 0h7m2 0h2m1 0h1m1 0h4m1 0h4m1 0h8m1 0h4m3 0h2m2 0h3m1 0h1m2 0h2m1 0h1M580 1466.5h1m3 0h1m2 0h1m1 0h1m3 0h2m1 0h5m1 0h1m1 0h11m1 0h8m1 0h1m1 0h6m1 0h7m1 0h6m1 0h4m1 0h1m1 0h1m1 0h6m1 0h3m1 0h1m1 0h6m1 0h2m1 0h4m4 0h3m1 0h1m2 0h1m2 0h2m1 0h4m1 0h2m2 0h1m4 0h3m1 0h1m1 0h1m32 0h1M574 1467.5h1m1 0h1m2 0h2m1 0h1m2 0h1m5 0h3m1 0h19m1 0h7m1 0h4m1 0h10m1 0h9m1 0h2m1 0h2m1 0h2m1 0h3m1 0h2m1 0h3m1 0h1m1 0h1m3 0h4m1 0h3m2 0h1m1 0h3m1 0h1m1 0h2m1 0h2m2 0h4m2 0h6m2 0h1m2 0h1m2 0h1m2 0h1M575 1468.5h1m2 0h1m4 0h1m2 0h1m3 0h1m1 0h2m1 0h5m1 0h1m2 0h13m1 0h6m1 0h1m2 0h2m1 0h7m1 0h4m1 0h6m1 0h2m1 0h1m2 0h2m1 0h6m1 0h1m1 0h1m3 0h1m1 0h3m2 0h4m3 0h3m1 0h6m1 0h1m2 0h3m2 0h1m1 0h2m2 0h1m4 0h1m4 0h2m2 0h2M574 1469.5h1m11 0h1m2 0h3m1 0h1m2 0h3m3 0h15m1 0h3m1 0h4m2 0h1m1 0h2m2 0h9m2 0h6m2 0h3m3 0h1m1 0h2m1 0h2m1 0h4m1 0h3m2 0h2m1 0h4m1 0h2m2 0h6m1 0h2m2 0h2m1 0h2m1 0h1m1 0h2m3 0h1m2 0h1m1 0h1m12 0h1M569 1470.5h1m2 0h1m5 0h1m3 0h1m5 0h1m2 0h2m3 0h3m2 0h2m1 0h2m2 0h4m4 0h3m2 0h4m1 0h1m1 0h7m3 0h6m2 0h3m2 0h6m1 0h2m2 0h3m2 0h1m2 0h6m1 0h3m3 0h1m1 0h1m1 0h2m1 0h3m1 0h3m3 0h2m1 0h2m1 0h1m8 0h1m12 0h2M576 1471.5h2m8 0h2m3 0h1m1 0h3m4 0h4m1 0h7m1 0h8m1 0h1m1 0h2m2 0h3m1 0h2m4 0h1m1 0h2m1 0h1m2 0h4m2 0h7m1 0h1m2 0h3m1 0h3m3 0h5m2 0h2m9 0h1m1 0h2m3 0h1m1 0h1m2 0h2m14 0h1m1 0h2M589 1472.5h1m1 0h3m1 0h2m1 0h1m2 0h2m1 0h2m1 0h2m1 0h3m3 0h4m1 0h2m1 0h3m1 0h7m1 0h3m1 0h1m1 0h2m2 0h1m3 0h7m1 0h2m2 0h1m1 0h1m2 0h1m1 0h2m1 0h4m7 0h2m1 0h1m1 0h1m2 0h5m7 0h1m1 0h2m1 0h1m4 0h1M565 1473.5h1m20 0h1m2 0h1m3 0h3m2 0h2m1 0h4m1 0h1m1 0h2m2 0h1m1 0h2m4 0h1m4 0h4m2 0h2m1 0h1m2 0h2m1 0h4m1 0h2m2 0h3m2 0h1m4 0h2m2 0h2m1 0h2m4 0h2m3 0h1m2 0h2m10 0h1m3 0h1m1 0h3m2 0h1m3 0h1m6 0h1m4 0h2m1 0h2M578 1474.5h1m4 0h2m8 0h1m1 0h1m3 0h5m1 0h1m1 0h1m2 0h1m1 0h1m1 0h1m1 0h2m1 0h1m1 0h2m2 0h1m1 0h2m4 0h1m1 0h1m2 0h4m2 0h2m1 0h1m2 0h1m2 0h1m2 0h2m3 0h1m2 0h1m2 0h3m1 0h1m1 0h4m1 0h1m5 0h1m2 0h1m6 0h2m20 0h1m2 0h1m8 0h1M588 1475.5h1m2 0h5m1 0h2m1 0h4m2 0h5m2 0h4m1 0h3m1 0h2m2 0h2m1 0h1m4 0h2m2 0h2m2 0h1m3 0h1m3 0h1m9 0h3m5 0h1m1 0h2m11 0h1m1 0h1m3 0h1m11 0h3M581 1476.5h1m2 0h1m5 0h2m3 0h1m5 0h1m1 0h3m4 0h2m1 0h3m1 0h2m5 0h1m2 0h1m5 0h1m2 0h1m5 0h1m5 0h1m1 0h1m2 0h1m5 0h1m1 0h1m2 0h1m8 0h1m3 0h1m1 0h1m3 0h1m6 0h2m1 0h2m6 0h1m5 0h2m15 0h1M596 1477.5h1m1 0h1m1 0h3m2 0h3m15 0h1m6 0h1m8 0h1m4 0h1m5 0h1m6 0h1m1 0h1m1 0h1m4 0h1m3 0h1m4 0h1m4 0h1m6 0h1m1 0h1m6 0h1m1 0h1m15 0h1m18 0h1M584 1478.5h1m3 0h1m7 0h1m5 0h4m3 0h2m1 0h4m3 0h1m1 0h2m1 0h4m1 0h1m7 0h1m9 0h1m10 0h1m5 0h1m4 0h2m6 0h2m1 0h1m6 0h1m9 0h2m5 0h1m6 0h1m3 0h1m3 0h1M564 1479.5h1m36 0h2m3 0h1m6 0h1m1 0h1m6 0h2m5 0h2m9 0h1m2 0h1m8 0h1m11 0h1m7 0h1m2 0h1m2 0h1m2 0h1m4 0h3m3 0h2m8 0h1m2 0h1m4 0h1m9 0h1M587 1480.5h1m15 0h1m1 0h2m4 0h1m1 0h1m1 0h2m10 0h1m4 0h1m6 0h2m1 0h1m3 0h1m1 0h1m6 0h1m1 0h1m3 0h1m10 0h1m39 0h1M584 1481.5h1m10 0h1m7 0h1m5 0h1m13 0h1m4 0h1m2 0h1m3 0h1m13 0h1m5 0h1m3 0h1m26 0h1m9 0h1m15 0h1M593 1482.5h1m6 0h1m3 0h1m1 0h1m1 0h1m14 0h1m8 0h2m1 0h1m3 0h1m19 0h2m1 0h1m3 0h1m1 0h1m1 0h1m5 0h1m1 0h1m43 0h1M599 1483.5h1m11 0h1m15 0h1m10 0h1m17 0h1m14 0h2m19 0h1m3 0h1m3 0h2m5 0h1M628 1484.5h1m14 0h1m4 0h1m13 0h1m9 0h1m9 0h2m2 0h1M577 1485.5h1m28 0h1m2 0h1m4 0h1m11 0h1m43 0h1m1 0h1m17 0h1m7 0h1m3 0h1m2 0h1M590 1486.5h1m16 0h1m37 0h1m35 0h1M589 1487.5h1m65 0h1m21 0h1M608 1488.5h1m9 0h1m4 0h1m17 0h1m18 0h1M626 1489.5h1m21 0h1M625 1490.5h1m83 0h1M645 1491.5h1m27 0h1M620 1495.5h1M625 1496.5h1m46 0h1" stroke="#000" stroke-width="1" fill="none" shape-rendering="crispEdges"/>
<path d="M593.6 1443.3L594.4 1441.6L595.4 1439.9L596.5 1438.3L597.6 1436.9L598.9 1435.5L600.2 1434.3L601.6 1433.2L603.0 1432.2L604.6 1431.3L606.2 1430.4L608.0 1429.5L609.9 1428.6L611.9 1427.8L614.0 1426.9L616.2 1426.0L618.6 1425.1L621.0 1424.2L623.5 1423.3L626.0 1422.3L628.5 1421.4L631.1 1420.4L633.7 1419.3L636.3 1418.3L638.9 1417.2L641.6 1416.1L644.1 1415.0L646.4 1414.0L648.6 1413.1L650.6 1412.2L652.4 1411.4L654.1 1410.6L655.6 1409.9L656.9 1409.2L658.4 1408.6L660.1 1408.1L661.9 1407.7L663.9 1407.4L666.1 1407.1L668.4 1407.0L670.9 1406.9L673.6 1406.9L676.1 1407.0L678.4 1407.1L680.6 1407.4L682.6 1407.7L684.4 1408.1L686.1 1408.6L687.6 1409.2L688.9 1409.9L690.3 1410.6L691.7 1411.5L693.1 1412.4L694.5 1413.4L696.0 1414.5L697.5 1415.6L699.0 1416.9L700.6 1418.2L702.1 1419.6L703.5 1421.1L704.8 1422.6L706.1 1424.1L707.3 1425.7L708.4 1427.4L709.5 1429.1L710.5 1430.9L711.4 1432.7L712.1 1434.4L712.7 1436.2L713.1 1438.0L713.4 1439.8L713.6 1441.5L713.6 1443.3L713.5 1445.1L713.3 1446.7L713.0 1448.3L712.6 1449.7L712.1 1451.0L711.5 1452.1L710.8 1453.1L710.0 1454.1L709.1 1454.8L707.9 1455.6L706.5 1456.2L704.8 1456.8L702.8 1457.3L700.5 1457.7L697.9 1458.1L695.1 1458.3L692.0 1458.6L688.9 1458.8L685.7 1459.0L682.5 1459.2L679.3 1459.4L676.0 1459.6L672.7 1459.9L669.4 1460.1L666.1 1460.3L662.8 1460.5L659.5 1460.8L656.2 1461.0L653.0 1461.2L649.8 1461.4L646.7 1461.7L643.6 1461.9L640.4 1462.1L637.3 1462.3L634.2 1462.5L631.1 1462.6L628.0 1462.7L624.9 1462.8L621.8 1462.9L618.7 1462.9L615.6 1462.9L612.7 1462.8L610.0 1462.7L607.6 1462.5L605.4 1462.2L603.4 1461.8L601.6 1461.4L600.0 1460.9L598.7 1460.4L597.5 1459.7L596.3 1459.0L595.3 1458.3L594.4 1457.4L593.7 1456.5L593.0 1455.6L592.4 1454.5L592.0 1453.5L591.7 1452.3L591.6 1451.0L591.6 1449.6L591.9 1448.2L592.3 1446.7L592.8 1445.0Z" fill="#fff" stroke="#fff" stroke-width="0.6"/>
<path d="M637.2 1458.4L635.7 1458.5L634.2 1458.5L632.7 1458.5L631.2 1458.5L629.7 1458.5L628.2 1458.5L626.7 1458.4L625.7 1458.4L624.2 1458.3L622.7 1458.3L621.2 1458.3L619.7 1458.3L618.2 1458.2L616.7 1458.2L615.2 1458.2L613.7 1458.1L612.2 1458.1L610.7 1458.0L609.5 1457.9L608.2 1457.8L606.7 1457.6L605.4 1457.4L604.2 1457.2L603.0 1456.9L601.7 1456.5L600.7 1456.1L599.7 1455.6L598.7 1454.9L598.1 1454.4L597.2 1453.4L596.7 1452.5L596.4 1451.4L596.4 1449.9L596.7 1448.4L597.0 1447.4L597.4 1446.4L597.8 1445.4L598.3 1444.4L598.8 1443.4L599.4 1442.4L600.1 1441.4L600.7 1440.6L601.3 1439.9L602.2 1438.9L602.7 1438.4L603.7 1437.5L604.5 1436.9L605.2 1436.4L606.2 1435.8L607.2 1435.3L608.2 1434.7L609.2 1434.2L610.2 1433.7L611.2 1433.2L612.2 1432.8L613.2 1432.3L614.2 1431.8L615.2 1431.4L616.3 1430.9L617.5 1430.4L618.7 1429.9L619.7 1429.5L620.7 1429.0L621.7 1428.6L622.7 1428.2L623.7 1427.8L624.7 1427.4L625.8 1426.9L627.0 1426.4L628.2 1425.9L629.2 1425.5L630.2 1425.1L631.2 1424.7L632.2 1424.3L633.4 1423.9L634.7 1423.4L635.7 1423.1L636.7 1422.7L637.7 1422.4L639.0 1421.9L640.2 1421.5L641.2 1421.1L642.2 1420.7L643.2 1420.4L644.4 1419.9L645.6 1419.4L646.7 1419.0L647.7 1418.5L648.7 1418.1L649.7 1417.7L650.7 1417.2L651.7 1416.8L652.7 1416.3L653.7 1415.9L654.7 1415.4L655.7 1414.9L656.8 1414.4L657.8 1413.9L658.8 1413.4L660.1 1412.9L661.2 1412.5L662.2 1412.3L663.7 1412.0L664.7 1411.8L666.2 1411.6L667.7 1411.5L668.7 1411.4L670.2 1411.3L671.7 1411.3L673.2 1411.3L674.7 1411.3L676.2 1411.4L677.2 1411.4L678.7 1411.6L680.2 1411.8L681.2 1412.0L682.7 1412.3L683.7 1412.6L684.8 1412.9L686.0 1413.4L687.0 1413.9L687.9 1414.4L688.7 1414.9L689.7 1415.5L690.7 1416.2L691.7 1416.9L692.4 1417.4L693.2 1418.0L694.2 1418.8L694.9 1419.4L695.7 1420.1L696.7 1420.9L697.2 1421.4L698.2 1422.3L698.8 1422.9L699.7 1423.8L700.2 1424.4L701.1 1425.4L701.7 1426.1L702.3 1426.9L703.1 1427.9L703.7 1428.8L704.2 1429.5L704.8 1430.4L705.4 1431.4L706.0 1432.4L706.5 1433.4L707.0 1434.4L707.4 1435.4L707.8 1436.4L708.2 1437.8L708.5 1438.9L708.7 1440.2L708.8 1441.4L708.9 1442.9L708.8 1444.4L708.7 1445.4L708.4 1446.9L708.2 1447.9L707.7 1449.1L707.2 1450.0L706.4 1450.9L705.7 1451.4L704.5 1451.9L703.2 1452.3L702.2 1452.6L700.7 1452.9L699.7 1453.1L698.2 1453.3L697.2 1453.4L695.7 1453.6L694.2 1453.8L692.7 1453.9L691.7 1454.0L690.2 1454.1L688.7 1454.3L687.5 1454.4L686.2 1454.5L684.7 1454.7L683.2 1454.9L682.2 1455.0L680.7 1455.1L679.2 1455.3L677.7 1455.4L676.7 1455.5L675.2 1455.6L673.7 1455.7L672.2 1455.8L670.7 1455.8L669.2 1455.9L668.2 1455.9L666.7 1456.0L665.2 1456.0L663.7 1456.0L662.2 1456.1L660.7 1456.1L659.2 1456.2L657.7 1456.3L656.2 1456.4L655.2 1456.5L653.7 1456.6L652.2 1456.7L650.8 1456.9L649.7 1457.0L648.2 1457.2L646.8 1457.4L645.7 1457.5L644.2 1457.7L642.8 1457.9L641.7 1458.0L640.2 1458.2L638.7 1458.3L637.2 1458.4ZM640.7 1454.9L639.2 1455.1L637.7 1455.2L636.2 1455.3L634.7 1455.3L633.2 1455.3L631.7 1455.2L630.2 1455.1L628.7 1455.0L627.3 1454.9L626.2 1454.8L624.7 1454.7L623.2 1454.5L621.7 1454.4L620.7 1454.4L619.2 1454.3L617.7 1454.2L616.2 1454.2L614.7 1454.1L613.2 1454.1L611.7 1454.0L610.2 1453.9L609.2 1453.8L607.7 1453.6L606.2 1453.4L605.2 1453.3L603.8 1452.9L602.7 1452.5L601.7 1452.0L600.8 1451.4L600.4 1450.4L600.7 1449.1L601.2 1447.9L601.6 1446.9L602.1 1445.9L602.7 1444.9L603.2 1444.1L603.7 1443.4L604.5 1442.4L605.2 1441.6L606.0 1440.9L606.7 1440.3L607.7 1439.6L608.7 1439.0L609.7 1438.5L610.7 1438.0L611.7 1437.5L612.7 1437.0L613.7 1436.5L614.7 1436.0L615.7 1435.5L616.7 1435.0L617.7 1434.5L618.7 1434.0L619.7 1433.6L620.7 1433.1L621.7 1432.6L622.7 1432.1L623.7 1431.6L624.7 1431.1L625.7 1430.6L626.7 1430.2L627.7 1429.7L628.7 1429.3L629.7 1428.8L630.7 1428.4L632.0 1427.9L633.2 1427.5L634.2 1427.1L635.2 1426.8L636.4 1426.4L637.7 1426.0L638.7 1425.7L639.7 1425.4L641.2 1425.0L642.2 1424.7L643.2 1424.4L644.6 1423.9L645.7 1423.5L646.7 1423.2L647.7 1422.8L648.7 1422.4L649.9 1421.9L651.0 1421.4L652.1 1420.9L653.2 1420.4L654.2 1419.9L655.2 1419.4L656.2 1418.9L657.2 1418.4L658.2 1417.9L659.2 1417.4L660.1 1416.9L661.2 1416.5L662.2 1416.1L663.2 1415.8L664.7 1415.5L665.7 1415.3L667.2 1415.1L668.7 1414.9L669.7 1414.9L671.2 1414.8L672.7 1414.8L674.2 1414.8L675.7 1414.8L676.7 1414.9L678.2 1415.1L679.7 1415.3L680.7 1415.5L682.2 1415.8L683.2 1416.1L684.2 1416.5L685.2 1417.0L686.2 1417.6L687.2 1418.2L688.2 1418.9L688.9 1419.4L689.7 1420.0L690.7 1420.8L691.5 1421.4L692.2 1422.0L693.2 1422.9L693.8 1423.4L694.7 1424.2L695.4 1424.9L696.2 1425.8L696.8 1426.4L697.7 1427.4L698.2 1428.0L698.9 1428.9L699.6 1429.9L700.2 1430.7L700.7 1431.4L701.3 1432.4L701.9 1433.4L702.5 1434.4L703.0 1435.4L703.5 1436.4L703.8 1437.4L704.2 1438.5L704.6 1439.9L704.7 1440.9L704.8 1442.4L704.8 1443.9L704.7 1444.9L704.4 1446.4L704.0 1447.4L703.2 1448.1L702.2 1448.4L700.7 1448.8L699.7 1449.0L698.2 1449.2L697.1 1449.4L695.7 1449.6L694.2 1449.8L693.2 1449.9L691.7 1450.1L690.2 1450.3L689.2 1450.4L687.7 1450.7L686.2 1450.9L685.2 1451.1L683.7 1451.3L682.7 1451.4L681.2 1451.7L679.7 1451.9L678.7 1452.0L677.2 1452.1L675.7 1452.2L674.2 1452.3L673.0 1452.4L671.7 1452.4L670.2 1452.5L668.7 1452.5L667.2 1452.5L665.7 1452.4L664.2 1452.4L663.2 1452.4L661.7 1452.4L660.2 1452.4L658.9 1452.4L657.7 1452.4L656.2 1452.5L654.7 1452.7L653.2 1452.8L652.2 1452.9L650.7 1453.2L649.4 1453.4L648.2 1453.6L646.7 1453.9L645.7 1454.1L644.2 1454.4L643.2 1454.6L641.7 1454.8L640.7 1454.9ZM637.2 1452.4L635.7 1452.5L634.2 1452.4L633.2 1452.4L631.7 1452.3L630.2 1452.1L629.1 1451.9L627.7 1451.7L626.2 1451.4L625.2 1451.2L623.7 1451.0L622.7 1450.8L621.2 1450.6L619.7 1450.5L618.7 1450.4L617.2 1450.3L615.7 1450.2L614.2 1450.1L612.7 1450.0L611.2 1449.9L610.2 1449.8L608.7 1449.7L607.2 1449.5L606.2 1449.3L605.1 1448.9L605.6 1447.9L606.2 1446.9L606.7 1446.1L607.3 1445.4L608.2 1444.4L608.7 1443.9L609.7 1443.2L610.7 1442.6L611.7 1442.0L612.7 1441.5L613.7 1440.9L614.7 1440.4L615.6 1439.9L616.6 1439.4L617.5 1438.9L618.4 1438.4L619.3 1437.9L620.2 1437.4L621.2 1436.8L622.2 1436.2L623.2 1435.6L624.2 1435.0L625.2 1434.5L626.2 1433.9L627.1 1433.4L628.0 1432.9L628.9 1432.4L630.0 1431.9L631.1 1431.4L632.2 1430.9L633.2 1430.5L634.2 1430.2L635.2 1429.9L636.7 1429.4L637.7 1429.2L638.9 1428.9L640.2 1428.6L641.2 1428.4L642.7 1428.1L643.7 1427.8L645.2 1427.5L646.2 1427.2L647.3 1426.9L648.7 1426.4L649.7 1426.1L650.7 1425.7L651.7 1425.3L652.7 1424.8L653.7 1424.3L654.7 1423.8L655.7 1423.3L656.7 1422.8L657.7 1422.2L658.7 1421.6L659.7 1421.1L660.7 1420.5L661.7 1420.0L662.7 1419.5L663.7 1419.2L664.8 1418.9L666.2 1418.6L667.2 1418.4L668.7 1418.2L670.2 1418.0L671.7 1417.9L672.7 1417.9L674.2 1417.9L675.2 1417.9L676.7 1418.0L678.2 1418.2L679.2 1418.4L680.7 1418.7L681.7 1419.0L682.7 1419.4L683.7 1419.9L684.7 1420.5L685.7 1421.1L686.7 1421.9L687.4 1422.4L688.2 1423.0L689.2 1423.9L689.8 1424.4L690.7 1425.3L691.4 1425.9L692.2 1426.8L692.8 1427.4L693.7 1428.4L694.2 1429.0L694.9 1429.9L695.7 1430.9L696.2 1431.6L696.8 1432.4L697.4 1433.4L698.0 1434.4L698.6 1435.4L699.1 1436.4L699.6 1437.4L700.0 1438.4L700.3 1439.4L700.7 1440.9L700.8 1441.9L700.8 1443.4L700.7 1444.4L699.6 1444.9L698.2 1445.2L697.1 1445.4L695.7 1445.6L694.2 1445.9L693.2 1446.1L691.7 1446.3L690.7 1446.5L689.2 1446.8L688.2 1447.0L686.7 1447.4L685.7 1447.6L684.3 1447.9L683.2 1448.1L682.0 1448.4L680.7 1448.6L679.2 1448.9L678.2 1449.0L676.7 1449.2L675.2 1449.3L674.2 1449.4L672.7 1449.5L671.2 1449.5L669.7 1449.4L668.7 1449.4L667.2 1449.3L665.7 1449.2L664.2 1449.1L662.7 1448.9L661.7 1448.9L660.2 1448.8L658.7 1448.7L657.2 1448.7L655.7 1448.8L654.6 1448.9L653.2 1449.1L651.7 1449.4L650.7 1449.6L649.3 1449.9L648.2 1450.2L647.2 1450.5L645.7 1450.9L644.7 1451.2L643.7 1451.4L642.2 1451.7L641.2 1451.9L639.7 1452.2L638.2 1452.4L637.2 1452.4ZM639.7 1449.5L638.2 1449.7L636.7 1449.8L635.2 1449.8L633.7 1449.7L632.2 1449.5L631.2 1449.4L629.7 1449.0L628.7 1448.8L627.2 1448.4L626.2 1448.1L625.2 1447.9L623.7 1447.5L622.7 1447.2L621.2 1446.9L620.2 1446.7L618.7 1446.5L617.7 1446.4L616.2 1446.2L614.7 1446.1L613.2 1446.0L613.7 1445.5L614.7 1444.9L615.6 1444.4L616.5 1443.9L617.3 1443.4L618.2 1442.9L619.2 1442.3L620.2 1441.6L621.2 1441.0L622.0 1440.4L622.7 1439.9L623.7 1439.2L624.7 1438.5L625.5 1437.9L626.2 1437.4L627.2 1436.7L628.2 1436.0L629.2 1435.4L630.1 1434.9L631.0 1434.4L632.1 1433.9L633.2 1433.4L634.2 1433.0L635.2 1432.7L636.2 1432.4L637.7 1432.0L638.7 1431.8L640.2 1431.6L641.6 1431.4L642.7 1431.3L644.2 1431.1L645.5 1430.9L646.7 1430.7L648.2 1430.4L649.2 1430.1L650.2 1429.8L651.4 1429.4L652.6 1428.9L653.7 1428.4L654.6 1427.9L655.5 1427.4L656.4 1426.9L657.2 1426.4L658.2 1425.8L659.2 1425.1L660.2 1424.5L661.2 1423.9L662.0 1423.4L662.8 1422.9L663.8 1422.4L665.2 1421.9L666.2 1421.6L667.2 1421.4L668.7 1421.1L669.9 1420.9L671.2 1420.8L672.7 1420.7L674.2 1420.7L675.7 1420.8L677.0 1420.9L678.2 1421.1L679.6 1421.4L680.7 1421.7L681.7 1422.1L682.7 1422.7L683.7 1423.3L684.5 1423.9L685.2 1424.4L686.2 1425.2L686.9 1425.9L687.7 1426.6L688.4 1427.4L689.2 1428.2L689.8 1428.9L690.7 1429.9L691.2 1430.6L691.8 1431.4L692.5 1432.4L693.2 1433.4L693.7 1434.2L694.2 1435.1L694.7 1436.0L695.2 1437.0L695.7 1438.0L696.2 1439.2L696.6 1440.4L696.8 1441.4L695.7 1441.7L694.7 1441.9L693.2 1442.2L692.2 1442.5L690.7 1442.9L689.7 1443.1L688.7 1443.4L687.2 1443.9L686.2 1444.2L685.2 1444.5L684.0 1444.9L682.7 1445.3L681.7 1445.6L680.3 1445.9L679.2 1446.1L677.7 1446.4L676.7 1446.5L675.2 1446.7L673.7 1446.8L672.2 1446.8L670.7 1446.7L669.2 1446.6L667.7 1446.5L666.7 1446.3L665.2 1446.1L663.8 1445.9L662.7 1445.7L661.2 1445.5L660.2 1445.4L658.7 1445.2L657.2 1445.1L655.7 1445.1L654.2 1445.2L653.1 1445.4L651.7 1445.7L650.7 1446.0L649.4 1446.4L648.2 1446.8L647.2 1447.2L646.2 1447.6L645.2 1447.9L643.9 1448.4L642.7 1448.8L641.7 1449.0L640.2 1449.4ZM638.7 1447.0L637.2 1447.2L635.7 1447.2L634.2 1447.1L632.9 1446.9L631.7 1446.6L630.7 1446.4L629.3 1445.9L628.2 1445.5L627.2 1445.1L626.2 1444.7L625.2 1444.3L624.0 1443.9L624.4 1442.9L625.2 1442.2L626.1 1441.4L626.7 1440.8L627.7 1440.0L628.4 1439.4L629.2 1438.7L630.2 1438.0L631.1 1437.4L632.0 1436.9L632.9 1436.4L634.0 1435.9L635.2 1435.4L636.2 1435.1L637.2 1434.9L638.7 1434.6L640.2 1434.4L641.2 1434.4L642.7 1434.3L644.2 1434.3L645.7 1434.2L647.2 1434.1L648.7 1434.0L649.7 1433.8L651.2 1433.4L652.2 1433.1L653.2 1432.7L654.2 1432.2L655.2 1431.6L656.2 1431.0L657.1 1430.4L657.8 1429.9L658.7 1429.3L659.7 1428.5L660.5 1427.9L661.2 1427.4L662.2 1426.7L663.2 1426.0L664.0 1425.4L665.0 1424.9L666.2 1424.5L667.2 1424.1L668.2 1423.9L669.7 1423.6L670.8 1423.4L672.2 1423.3L673.7 1423.2L675.2 1423.3L676.4 1423.4L677.7 1423.6L678.9 1423.9L680.2 1424.3L681.2 1424.8L682.1 1425.4L682.8 1425.9L683.7 1426.6L684.5 1427.4L685.2 1428.0L686.0 1428.9L686.7 1429.7L687.3 1430.4L688.1 1431.4L688.7 1432.3L689.2 1433.0L689.8 1433.9L690.3 1434.9L690.9 1435.9L691.4 1436.9L691.8 1437.9L691.6 1438.9L690.2 1439.4L689.2 1439.8L688.2 1440.2L687.2 1440.6L686.2 1441.0L685.2 1441.4L684.1 1441.9L682.8 1442.4L681.7 1442.8L680.7 1443.1L679.7 1443.4L678.2 1443.8L677.2 1444.0L675.7 1444.2L674.2 1444.3L672.7 1444.3L671.2 1444.2L669.7 1444.1L668.3 1443.9L667.2 1443.7L665.9 1443.4L664.7 1443.1L663.7 1442.9L662.2 1442.5L661.2 1442.2L659.8 1441.9L658.7 1441.7L657.2 1441.5L655.7 1441.4L654.2 1441.5L652.7 1441.7L651.7 1441.9L650.2 1442.4L649.2 1442.8L648.2 1443.2L647.2 1443.7L646.2 1444.2L645.2 1444.7L644.2 1445.2L643.2 1445.6L642.2 1446.0L641.1 1446.4L639.7 1446.8L638.7 1447.0ZM677.2 1441.5L675.7 1441.7L674.2 1441.9L672.7 1441.9L671.2 1441.8L669.7 1441.6L668.7 1441.4L667.2 1441.0L666.2 1440.7L665.2 1440.3L664.0 1439.9L662.7 1439.4L661.7 1439.1L660.7 1438.7L659.7 1438.4L658.2 1438.0L657.2 1437.7L655.7 1437.5L654.2 1437.5L652.7 1437.6L651.2 1437.4L652.7 1437.0L653.7 1436.6L654.7 1436.1L655.7 1435.5L656.6 1434.9L657.3 1434.4L658.2 1433.7L659.1 1432.9L659.7 1432.4L660.7 1431.5L661.4 1430.9L662.2 1430.2L663.1 1429.4L663.7 1428.9L664.7 1428.1L665.7 1427.5L666.7 1427.0L667.7 1426.7L668.7 1426.4L670.2 1426.0L671.2 1425.8L672.7 1425.7L674.2 1425.7L675.7 1425.8L676.7 1425.9L678.2 1426.3L679.2 1426.6L680.2 1427.1L681.2 1427.8L681.9 1428.4L682.7 1429.1L683.4 1429.9L684.2 1430.8L684.7 1431.4L685.4 1432.4L686.1 1433.4L686.7 1434.4L687.2 1435.3L687.7 1436.3L687.6 1436.9L686.7 1437.4L685.7 1437.9L684.7 1438.5L683.7 1439.0L682.7 1439.5L681.7 1440.0L680.7 1440.4L679.3 1440.9L678.2 1441.2L677.2 1441.5ZM639.2 1443.9L637.7 1444.2L636.2 1444.3L634.7 1444.2L633.2 1443.9L632.2 1443.7L631.2 1443.3L630.2 1442.9L629.7 1442.3L630.6 1441.4L631.2 1440.9L632.2 1440.1L633.2 1439.4L634.1 1438.9L635.2 1438.4L636.2 1438.0L637.2 1437.8L638.7 1437.5L639.7 1437.4L641.2 1437.3L642.7 1437.4L643.7 1437.5L645.2 1437.6L646.7 1437.7L648.2 1437.7L649.7 1437.6L651.2 1437.5L650.7 1438.1L649.7 1438.4L648.7 1438.9L647.7 1439.4L646.7 1440.0L645.7 1440.6L644.7 1441.3L643.7 1441.9L642.8 1442.4L641.9 1442.9L640.7 1443.4L639.7 1443.8ZM676.7 1438.9L675.2 1439.2L673.7 1439.3L672.2 1439.3L670.7 1439.1L669.7 1438.9L668.2 1438.4L667.2 1438.1L666.2 1437.7L665.2 1437.2L664.2 1436.7L663.2 1436.2L662.2 1435.7L661.5 1434.9L662.2 1434.1L662.9 1433.4L663.7 1432.5L664.3 1431.9L665.2 1431.0L665.9 1430.4L666.7 1429.9L667.7 1429.4L669.0 1428.9L670.2 1428.6L671.2 1428.3L672.7 1428.1L674.2 1428.1L675.7 1428.3L676.7 1428.4L678.2 1428.9L679.2 1429.4L679.9 1429.9L680.7 1430.7L681.4 1431.4L682.2 1432.4L682.7 1433.0L683.3 1433.9L683.9 1434.9L683.2 1435.9L682.5 1436.4L681.6 1436.9L680.7 1437.4L679.7 1437.9L678.5 1438.4L677.2 1438.8Z" fill="none" stroke="#606060" stroke-width="0.7"/>
<rect x="597.3" y="1320.9" width="121.40000000000009" height="82.39999999999986" fill="none" stroke="#000" stroke-width="3"/>
<text transform="translate(634.52,1312.37) scale(0.9791,1)" font-size="32.65" style="font-family:'Liberation Sans', sans-serif;" fill="#000" >5.3</text>
<rect x="789.2" y="1282.4" width="216.39999999999998" height="215.5999999999999" fill="none" stroke="#555" stroke-width="1.1"/>
<path d="M786.2 1308.1H789.2M786.2 1300.1H789.2M786.2 1294.5H789.2M786.2 1290.1H789.2M786.2 1286.6H789.2M786.2 1283.6H789.2M786.2 1352.8H789.2M786.2 1345.0H789.2M786.2 1339.4H789.2M786.2 1335.1H789.2M786.2 1331.5H789.2M786.2 1328.5H789.2M786.2 1325.9H789.2M786.2 1323.6H789.2M786.2 1401.9H789.2M786.2 1393.0H789.2M786.2 1386.6H789.2M786.2 1381.7H789.2M786.2 1377.6H789.2M786.2 1374.2H789.2M786.2 1371.2H789.2M786.2 1368.6H789.2M784.2 1321.6H789.2M784.2 1366.3H789.2M784.2 1417.3H789.2M786.2 1432.4H789.2M786.2 1442.4H789.2M786.2 1450.4H789.2M786.2 1468.4H789.2M786.2 1477.4H789.2M786.2 1487.4H789.2M786.2 1496.4H789.2M886.8 1498V1501M895.4 1498V1501M901.6 1498V1501M906.3 1498V1501M910.2 1498V1501M913.5 1498V1501M916.3 1498V1501M918.9 1498V1501M934.3 1498V1501M942.0 1498V1501M947.5 1498V1501M951.7 1498V1501M955.2 1498V1501M958.1 1498V1501M960.7 1498V1501M962.9 1498V1501M978.2 1498V1501M986.0 1498V1501M991.6 1498V1501M995.9 1498V1501M999.4 1498V1501M1002.3 1498V1501M872.0 1498V1503.5M921.1 1498V1503.5M964.9 1498V1503.5M793.2 1498V1501M799.2 1498V1501M805.2 1498V1501M836.2 1498V1501M845.2 1498V1501M853.2 1498V1501M861.2 1498V1501" stroke="#333" stroke-width="1" fill="none"/>
<rect x="815.2" y="1498.5" width="17" height="4" fill="#111"/>
<rect x="783.7" y="1452.9" width="5" height="13" fill="#111"/>
<text transform="translate(765.33,1327.72) scale(1.2596,1)" font-size="8.20" style="font-family:'Liberation Sans', sans-serif;" fill="#222" >10</text>
<text transform="translate(776.58,1321.93) scale(1.0731,1)" font-size="7.46" style="font-family:'Liberation Sans', sans-serif;" fill="#222" >5</text>
<text transform="translate(765.33,1372.42) scale(1.2596,1)" font-size="8.20" style="font-family:'Liberation Sans', sans-serif;" fill="#222" >10</text>
<text transform="translate(776.73,1366.70) scale(0.9949,1)" font-size="7.56" style="font-family:'Liberation Sans', sans-serif;" fill="#222" >4</text>
<text transform="translate(765.33,1423.42) scale(1.2596,1)" font-size="8.20" style="font-family:'Liberation Sans', sans-serif;" fill="#222" >10</text>
<text transform="translate(776.60,1417.63) scale(1.0885,1)" font-size="7.35" style="font-family:'Liberation Sans', sans-serif;" fill="#222" >3</text>
<text transform="translate(769.02,1461.73) scale(1.3074,1)" font-size="7.21" style="font-family:'Liberation Sans', sans-serif;" fill="#222" >0</text>
<text transform="translate(867.70,1523.02) scale(1.1993,1)" font-size="7.77" style="font-family:'Liberation Sans', sans-serif;" fill="#222" >10</text>
<text transform="translate(877.82,1516.42) scale(0.9407,1)" font-size="8.06" style="font-family:'Liberation Sans', sans-serif;" fill="#222" >3</text>
<text transform="translate(916.80,1523.02) scale(1.1993,1)" font-size="7.77" style="font-family:'Liberation Sans', sans-serif;" fill="#222" >10</text>
<text transform="translate(927.04,1516.50) scale(0.8598,1)" font-size="8.29" style="font-family:'Liberation Sans', sans-serif;" fill="#222" >4</text>
<text transform="translate(960.60,1523.02) scale(1.1993,1)" font-size="7.77" style="font-family:'Liberation Sans', sans-serif;" fill="#222" >10</text>
<text transform="translate(970.70,1516.42) scale(0.9274,1)" font-size="8.17" style="font-family:'Liberation Sans', sans-serif;" fill="#222" >5</text>
<text transform="translate(821.45,1523.02) scale(1.1315,1)" font-size="7.77" style="font-family:'Liberation Sans', sans-serif;" fill="#222" >0</text>
<path d="M796 1303.5h1M892 1310.5h1M954 1320.5h1m2 0h1M857 1321.5h1m7 0h1m76 0h1M857 1322.5h1m85 0h1M848 1323.5h1m21 0h1M866 1325.5h1m15 0h1m5 0h1m62 0h1M865 1326.5h1M862 1327.5h1M870 1328.5h1m26 0h1M843 1329.5h1m23 0h1M906 1330.5h1m51 0h1M900 1334.5h1m3 0h1m34 0h1M867 1335.5h1M902 1336.5h1M960 1337.5h1M863 1338.5h1m22 0h1m32 0h1m17 0h1M888 1340.5h1m6 0h1M905 1341.5h1m29 0h1M847 1343.5h1m56 0h1M846 1345.5h1M876 1348.5h1M907 1349.5h1m18 0h1M906 1350.5h1M839 1352.5h1m56 0h1m59 0h1M911 1354.5h1M960 1357.5h1M850 1358.5h1M888 1359.5h1M856 1362.5h1m32 0h1m35 0h1M876 1364.5h1m33 0h1M852 1365.5h1m122 0h1M917 1366.5h1M838 1367.5h1m40 0h1M872 1368.5h1m38 0h1m23 0h1M890 1370.5h1M912 1371.5h1M869 1374.5h1m45 0h1m3 0h1M850 1375.5h1m67 0h1M846 1376.5h1m93 0h1M865 1377.5h1m6 0h1M876 1378.5h1M874 1379.5h1M844 1380.5h1m26 0h1M853 1381.5h1m1 0h1m71 0h1M905 1382.5h1m6 0h1m11 0h1M897 1383.5h1m4 0h1m45 0h1M863 1384.5h1m60 0h1M932 1385.5h1M868 1386.5h1m32 0h1M796 1387.5h1m82 0h1m1 0h1m7 0h1m37 0h1M846 1388.5h1m120 0h1M841 1389.5h1m19 0h1m31 0h1m16 0h1m2 0h1m26 0h1M842 1390.5h1m82 0h2m1 0h1m32 0h1M857 1391.5h1m1 0h1m14 0h1m46 0h2m1 0h1m8 0h1m3 0h1m14 0h1M865 1392.5h1m26 0h2m11 0h2m2 0h1m5 0h1m1 0h1M928 1393.5h1M831 1394.5h1m72 0h1m5 0h1m7 0h1m8 0h1M868 1395.5h2m9 0h1m7 0h1m9 0h1m11 0h1m2 0h1m8 0h1m4 0h1M895 1396.5h2m22 0h1m39 0h1m15 0h1M864 1397.5h1m6 0h1m15 0h1m6 0h2m11 0h1m33 0h1m1 0h1M851 1398.5h1m17 0h2m32 0h1m1 0h1m1 0h1m11 0h1m9 0h1m4 0h1m21 0h1M852 1399.5h1m15 0h1m3 0h1m1 0h1m3 0h2m4 0h1m3 0h2m1 0h1m6 0h1m5 0h1m13 0h3m2 0h2m3 0h1m11 0h1m15 0h1m21 0h1M847 1400.5h1m2 0h1m15 0h1m7 0h1m4 0h1m8 0h1m4 0h1m4 0h1m16 0h1m12 0h1m2 0h2m11 0h1M839 1401.5h1m18 0h1m1 0h1m1 0h1m13 0h2m2 0h1m19 0h3m11 0h2m2 0h2m4 0h1m4 0h2m12 0h1m17 0h1M839 1402.5h1m14 0h1m21 0h2m3 0h1m23 0h1m1 0h1m4 0h4m3 0h1m11 0h1m4 0h1m1 0h1m3 0h1m1 0h1m3 0h1M829 1403.5h1m11 0h1m5 0h1m11 0h1m17 0h1m8 0h1m3 0h1m4 0h1m2 0h2m6 0h2m1 0h3m1 0h1m2 0h2m1 0h1m1 0h1m8 0h2m14 0h1m3 0h1m2 0h1m17 0h1M841 1404.5h1m20 0h1m11 0h1m10 0h1m10 0h1m1 0h1m5 0h3m3 0h3m2 0h3m2 0h1m4 0h2m3 0h1m2 0h1m3 0h2m3 0h1m3 0h2m3 0h1M817 1405.5h1m12 0h1m24 0h1m18 0h1m18 0h1m1 0h1m2 0h1m2 0h1m6 0h3m1 0h2m1 0h1m1 0h2m1 0h1m4 0h2m7 0h1m8 0h1m9 0h1m8 0h1M830 1406.5h1m16 0h1m9 0h1m8 0h1m22 0h1m3 0h1m13 0h1m1 0h2m7 0h1m1 0h2m1 0h1m1 0h1m3 0h1m24 0h1M866 1407.5h1m17 0h2m1 0h1m9 0h1m2 0h1m1 0h3m4 0h2m1 0h1m1 0h3m2 0h1m6 0h2m2 0h1m3 0h1m12 0h1m10 0h1M824 1408.5h1m66 0h1m4 0h1m2 0h1m4 0h1m1 0h1m4 0h2m1 0h2m3 0h1m1 0h1m2 0h1m2 0h2m1 0h1m6 0h1m4 0h1m1 0h1m2 0h3m8 0h1M865 1409.5h1m13 0h1m8 0h2m3 0h1m2 0h2m2 0h1m6 0h1m5 0h2m1 0h2m1 0h2m1 0h1m2 0h2m2 0h2m4 0h1m7 0h1m3 0h1M867 1410.5h1m12 0h2m4 0h1m1 0h1m6 0h1m2 0h1m1 0h1m2 0h4m1 0h2m2 0h1m1 0h1m2 0h1m2 0h2m2 0h1m1 0h1m1 0h2m6 0h3m5 0h1m3 0h1m1 0h1m9 0h1m15 0h1M881 1411.5h1m2 0h1m3 0h1m7 0h1m1 0h3m1 0h1m3 0h6m1 0h1m3 0h5m1 0h2m2 0h4m3 0h2m3 0h1m1 0h1m1 0h1m5 0h1m2 0h1m26 0h1M831 1412.5h1m43 0h2m6 0h1m10 0h1m8 0h7m1 0h4m4 0h1m1 0h4m2 0h2m1 0h2m2 0h7m5 0h1m2 0h1M880 1413.5h1m2 0h1m4 0h1m2 0h3m2 0h1m1 0h1m1 0h1m1 0h5m3 0h3m8 0h2m2 0h1m1 0h1m2 0h2m1 0h5M855 1414.5h1m22 0h3m4 0h1m2 0h1m2 0h1m2 0h7m3 0h1m1 0h3m15 0h1m2 0h8m3 0h1m1 0h1m1 0h1m1 0h1m3 0h1m11 0h1M817 1415.5h1m48 0h1m1 0h1m14 0h1m2 0h1m4 0h1m5 0h1m1 0h7m21 0h2m1 0h2m1 0h1m5 0h3m5 0h1m13 0h1m1 0h1M865 1416.5h1m15 0h3m2 0h1m1 0h6m1 0h1m3 0h3m28 0h2m1 0h2m1 0h1m1 0h1m2 0h1m5 0h1m12 0h1M876 1417.5h2m2 0h2m1 0h1m1 0h3m1 0h5m1 0h1m38 0h2m1 0h1m1 0h1m1 0h2m2 0h1m2 0h1m2 0h1m7 0h1M860 1418.5h1m1 0h1m2 0h1m6 0h2m9 0h1m2 0h1m1 0h4m1 0h4m38 0h2m1 0h4m2 0h1m1 0h4m4 0h1M829 1419.5h1m38 0h1m4 0h1m6 0h1m5 0h2m1 0h7m42 0h2m1 0h1m2 0h3m1 0h1m1 0h1m2 0h1m4 0h1m15 0h1M863 1420.5h1m2 0h3m1 0h1m1 0h1m2 0h3m1 0h2m3 0h2m4 0h3m49 0h3m1 0h1m1 0h2m1 0h2m3 0h2M865 1421.5h1m1 0h2m1 0h1m4 0h3m1 0h1m2 0h3m1 0h3m2 0h1m50 0h5m1 0h4m2 0h1m5 0h1M849 1422.5h1m11 0h1m2 0h5m2 0h1m2 0h3m4 0h1m2 0h2m1 0h3m53 0h4m4 0h2m10 0h1M842 1423.5h1m4 0h1m3 0h1m2 0h1m12 0h1m1 0h2m1 0h2m3 0h2m1 0h1m1 0h3m1 0h1m58 0h3m1 0h2m3 0h1m3 0h1m4 0h1M853 1424.5h1m4 0h1m6 0h2m3 0h1m1 0h2m1 0h3m1 0h6m61 0h1m1 0h4m5 0h1m1 0h1m1 0h1M853 1425.5h1m5 0h2m5 0h2m1 0h4m3 0h1m1 0h1m2 0h1m66 0h2m3 0h3m1 0h1M852 1426.5h1m4 0h1m7 0h1m1 0h1m1 0h2m1 0h3m1 0h1m1 0h2m69 0h5m1 0h3m15 0h1M853 1427.5h1m5 0h1m3 0h4m1 0h1m4 0h1m1 0h4m71 0h1m2 0h5m1 0h1M847 1428.5h1m3 0h1m1 0h1m8 0h5m1 0h1m1 0h2m3 0h1m74 0h2m4 0h1m1 0h2m8 0h1M848 1429.5h2m3 0h2m1 0h1m3 0h2m5 0h3m1 0h2m78 0h6m1 0h1M836 1430.5h1m9 0h1m4 0h2m5 0h1m2 0h3m3 0h3m1 0h1m79 0h5m4 0h1m1 0h1m1 0h1M836 1431.5h1m1 0h2m7 0h1m1 0h1m1 0h1m2 0h1m3 0h1m1 0h1m1 0h7m83 0h1m1 0h2m1 0h1m1 0h1m2 0h2m6 0h1M841 1432.5h1m3 0h1m1 0h1m5 0h2m2 0h3m1 0h2m2 0h2m85 0h3m1 0h4m5 0h1M837 1433.5h1m1 0h1m1 0h2m5 0h1m1 0h2m3 0h1m1 0h2m2 0h4m88 0h1m1 0h2m1 0h2m3 0h1m3 0h1M844 1434.5h2m3 0h2m1 0h3m1 0h2m1 0h1m1 0h1m91 0h1m3 0h3M832 1435.5h1m6 0h1m3 0h2m1 0h3m1 0h1m1 0h1m1 0h1m1 0h2m1 0h1m93 0h6m1 0h2M837 1436.5h1m4 0h1m4 0h1m1 0h2m1 0h3m1 0h2m95 0h1m2 0h1m3 0h1m16 0h1m8 0h1M842 1437.5h1m1 0h1m2 0h2m1 0h2m1 0h1m1 0h1m98 0h4m3 0h1M836 1438.5h1m1 0h1m2 0h1m1 0h1m2 0h2m1 0h1m1 0h1m101 0h3m2 0h2m3 0h2M837 1439.5h2m3 0h2m1 0h5m1 0h1m100 0h2m1 0h2m2 0h3M838 1440.5h1m4 0h1m1 0h3m1 0h2m101 0h3m1 0h1m1 0h2m10 0h1M837 1441.5h1m3 0h9m103 0h1m1 0h1m1 0h1m1 0h1m2 0h1M843 1442.5h1m3 0h1m103 0h1m1 0h2m3 0h1m6 0h1M836 1443.5h2m1 0h2m1 0h5m103 0h1m1 0h2m1 0h1m1 0h1m3 0h1M836 1444.5h2m5 0h3m1 0h1m101 0h6m2 0h1m8 0h1m3 0h1M831 1445.5h1m4 0h1m3 0h1m1 0h2m1 0h2m104 0h1m2 0h1m1 0h1m2 0h2M832 1446.5h1m1 0h1m9 0h1m1 0h1m98 0h1m10 0h5M839 1447.5h1m1 0h3m2 0h1m96 0h1m1 0h1m2 0h1m3 0h4m2 0h3m4 0h1M834 1448.5h1m4 0h1m1 0h2m2 0h1m93 0h2m1 0h1m2 0h7m1 0h1M832 1449.5h1m2 0h1m1 0h1m7 0h1m90 0h1m1 0h3m1 0h1m3 0h2m1 0h1m1 0h2m2 0h1m1 0h1M835 1450.5h1m2 0h1m2 0h2m2 0h1m87 0h3m1 0h5m2 0h3m1 0h3m7 0h2M836 1451.5h3m1 0h2m2 0h2m85 0h5m2 0h5m1 0h1m2 0h2m1 0h1m4 0h1M838 1452.5h1m3 0h2m1 0h2m81 0h5m1 0h2m2 0h1m5 0h5m2 0h1m3 0h1m1 0h2m10 0h1M830 1453.5h1m1 0h1m4 0h1m1 0h2m3 0h2m78 0h1m1 0h1m2 0h4m1 0h3m1 0h1m3 0h2m3 0h1m3 0h2M840 1454.5h2m1 0h4m74 0h2m1 0h1m1 0h3m1 0h1m2 0h1m3 0h2m5 0h2m2 0h1m2 0h1m6 0h1M833 1455.5h1m4 0h1m1 0h1m1 0h1m1 0h4m71 0h1m1 0h1m2 0h7m1 0h8m5 0h1M841 1456.5h1m1 0h2m1 0h1m69 0h5m2 0h2m1 0h1m1 0h2m1 0h2m1 0h1m1 0h1m4 0h1m2 0h1m1 0h1m2 0h1m9 0h1m3 0h1M834 1457.5h1m6 0h1m2 0h3m1 0h1m66 0h7m1 0h1m7 0h1m4 0h1m5 0h1m3 0h1m2 0h1m2 0h1m1 0h1m3 0h1m22 0h1M840 1458.5h4m1 0h1m1 0h2m65 0h1m1 0h1m1 0h3m2 0h1m1 0h4m5 0h2m1 0h2m9 0h1M839 1459.5h1m1 0h1m1 0h4m2 0h1m60 0h2m1 0h3m1 0h2m3 0h1m2 0h2m3 0h2m1 0h1m4 0h1m8 0h1M811 1460.5h1m28 0h1m1 0h1m2 0h1m1 0h5m55 0h2m1 0h2m1 0h2m1 0h2m2 0h2m6 0h1m4 0h1m1 0h2m6 0h1m1 0h1m2 0h1M840 1461.5h4m4 0h2m1 0h1m1 0h1m51 0h1m1 0h1m1 0h5m4 0h3m1 0h1m1 0h2m2 0h2m5 0h1m10 0h1M830 1462.5h1m6 0h1m4 0h2m3 0h2m1 0h1m1 0h4m47 0h1m1 0h2m2 0h2m2 0h6m1 0h1m1 0h2m2 0h1m4 0h1m2 0h1m10 0h1M836 1463.5h1m3 0h1m3 0h1m5 0h7m42 0h4m1 0h5m1 0h2m5 0h2m1 0h1m1 0h1m1 0h2m1 0h1m2 0h1m2 0h2m3 0h1M827 1464.5h1m18 0h1m1 0h2m1 0h2m2 0h2m1 0h1m38 0h4m1 0h1m1 0h3m2 0h1m2 0h2m3 0h2m2 0h1m14 0h1m3 0h1M839 1465.5h1m4 0h2m1 0h1m1 0h2m1 0h5m1 0h1m2 0h1m1 0h2m29 0h1m1 0h2m1 0h2m1 0h1m5 0h2m6 0h1m10 0h1m3 0h1m3 0h2M840 1466.5h1m2 0h1m2 0h3m5 0h11m1 0h1m2 0h6m11 0h3m1 0h2m3 0h3m2 0h1m2 0h1m3 0h8m1 0h2m6 0h1m17 0h2M847 1467.5h1m7 0h2m1 0h3m4 0h6m1 0h3m1 0h1m2 0h5m1 0h1m2 0h5m1 0h5m2 0h2m2 0h2m3 0h1m1 0h1m3 0h2M841 1468.5h1m4 0h1m2 0h1m2 0h1m1 0h1m2 0h3m1 0h1m3 0h2m1 0h2m1 0h4m2 0h3m2 0h6m3 0h1m1 0h2m4 0h1m1 0h2m2 0h1m1 0h1m2 0h1m2 0h2m1 0h3m2 0h1M843 1469.5h1m4 0h1m2 0h1m2 0h1m3 0h1m1 0h1m1 0h2m1 0h1m3 0h8m2 0h1m1 0h1m2 0h1m2 0h1m2 0h5m1 0h3m1 0h2m4 0h2m4 0h1m4 0h1m4 0h1m20 0h1m17 0h1M836 1470.5h1m6 0h1m7 0h1m4 0h1m3 0h1m2 0h1m1 0h1m1 0h3m2 0h1m1 0h4m1 0h1m1 0h1m1 0h1m3 0h2m1 0h1m2 0h1m2 0h2m6 0h1m7 0h1m1 0h1m5 0h1m9 0h1M837 1471.5h1m6 0h3m1 0h2m3 0h2m3 0h1m2 0h1m1 0h1m3 0h2m6 0h1m1 0h5m1 0h8m1 0h1m1 0h1m2 0h3m4 0h1m5 0h3m4 0h1m2 0h1M838 1472.5h1m10 0h1m10 0h1m1 0h1m5 0h1m1 0h1m1 0h2m1 0h1m2 0h3m1 0h1m7 0h3m6 0h1m1 0h1m5 0h1m7 0h1m1 0h1m17 0h1M846 1473.5h1m6 0h1m4 0h1m1 0h2m8 0h3m2 0h1m1 0h2m1 0h1m4 0h1m1 0h1m2 0h1m1 0h1m3 0h1m3 0h1m1 0h1m5 0h1m22 0h1M806 1474.5h1m33 0h1m12 0h1m16 0h1m2 0h1m2 0h1m2 0h1m6 0h1m3 0h1m1 0h1m1 0h1m2 0h1m2 0h1m15 0h1M861 1475.5h1m2 0h1m4 0h1m8 0h1m2 0h2m1 0h3m4 0h1m49 0h1M853 1476.5h1m1 0h1m2 0h1m1 0h1m8 0h1m1 0h1m6 0h1m2 0h1m1 0h1m2 0h1m10 0h1m4 0h1m10 0h1m9 0h1M868 1477.5h1m8 0h1m1 0h2m15 0h1m1 0h1m6 0h1M833 1478.5h1m29 0h1m15 0h2m11 0h1m3 0h2m9 0h1m4 0h1m5 0h1M848 1479.5h1m26 0h1m15 0h1m6 0h1M835 1480.5h1m38 0h1m3 0h1M872 1481.5h1m2 0h2m7 0h1m5 0h1M880 1482.5h1m2 0h1m2 0h1M867 1483.5h1m14 0h1m14 0h1M867 1484.5h1m36 0h1M818 1485.5h1m65 0h1M889 1487.5h1M910 1488.5h1M868 1494.5h1M890 1497.5h1" stroke="#000" stroke-width="1" fill="none" shape-rendering="crispEdges"/>
<path d="M847.2 1445.7L847.7 1444.6L848.4 1443.5L849.3 1442.5L850.3 1441.4L851.5 1440.4L852.8 1439.5L854.3 1438.5L855.9 1437.6L857.7 1436.7L859.5 1435.8L861.4 1434.9L863.3 1434.0L865.3 1433.1L867.4 1432.2L869.5 1431.3L871.7 1430.5L873.9 1429.5L876.1 1428.6L878.4 1427.7L880.6 1426.7L882.8 1425.7L885.0 1424.7L887.2 1423.6L889.4 1422.5L891.7 1421.5L893.8 1420.4L896.0 1419.4L898.1 1418.5L900.2 1417.6L902.3 1416.7L904.4 1416.0L906.4 1415.2L908.4 1414.6L910.3 1414.0L912.2 1413.6L913.9 1413.3L915.6 1413.1L917.2 1413.1L918.7 1413.2L920.1 1413.4L921.4 1413.7L922.8 1414.1L924.3 1414.6L925.9 1415.1L927.6 1415.6L929.3 1416.2L931.2 1416.9L933.1 1417.6L935.1 1418.4L937.0 1419.2L938.8 1420.0L940.4 1420.8L942.0 1421.6L943.4 1422.5L944.8 1423.3L946.0 1424.2L947.1 1425.1L948.1 1426.0L949.0 1427.0L949.9 1427.9L950.6 1428.9L951.2 1430.0L951.7 1431.0L952.2 1432.1L952.5 1433.2L952.8 1434.3L952.9 1435.4L952.9 1436.5L952.9 1437.5L952.7 1438.6L952.5 1439.6L952.1 1440.6L951.7 1441.6L951.0 1442.5L950.2 1443.4L949.2 1444.3L948.1 1445.1L946.7 1445.8L945.2 1446.5L943.5 1447.1L941.6 1447.6L939.7 1448.2L937.7 1448.8L935.7 1449.5L933.6 1450.1L931.5 1450.8L929.4 1451.6L927.2 1452.3L925.0 1453.1L922.8 1453.9L920.5 1454.7L918.3 1455.6L916.1 1456.5L913.9 1457.4L911.6 1458.3L909.4 1459.3L907.2 1460.3L905.0 1461.2L902.9 1462.1L900.8 1462.9L898.8 1463.6L896.9 1464.2L895.0 1464.8L893.2 1465.3L891.4 1465.8L889.5 1466.1L887.5 1466.4L885.4 1466.6L883.2 1466.7L880.9 1466.7L878.4 1466.7L875.9 1466.6L873.2 1466.3L870.7 1466.1L868.2 1465.7L865.9 1465.4L863.7 1464.9L861.6 1464.4L859.6 1463.9L857.7 1463.2L855.9 1462.6L854.3 1461.8L852.8 1461.0L851.5 1460.1L850.3 1459.1L849.3 1458.0L848.4 1456.8L847.7 1455.6L847.2 1454.2L846.7 1452.9L846.5 1451.7L846.3 1450.4L846.3 1449.2L846.5 1448.0L846.7 1446.8Z" fill="#fff" stroke="#fff" stroke-width="0.6"/>
<path d="M888.2 1462.9L886.7 1463.1L885.2 1463.2L883.7 1463.3L882.2 1463.4L880.7 1463.4L879.2 1463.3L877.7 1463.2L876.2 1463.1L874.7 1463.0L873.7 1462.9L872.2 1462.7L870.7 1462.5L869.7 1462.4L868.2 1462.2L866.7 1461.9L865.7 1461.7L864.3 1461.4L863.2 1461.1L862.2 1460.9L860.7 1460.5L859.7 1460.1L858.7 1459.8L857.6 1459.4L856.5 1458.9L855.5 1458.4L854.7 1457.9L853.7 1457.2L852.7 1456.4L852.2 1455.8L851.5 1454.9L850.9 1453.9L850.5 1452.9L850.2 1451.9L849.9 1450.4L850.0 1448.9L850.2 1447.8L850.7 1446.6L851.2 1445.8L851.9 1444.9L852.7 1444.1L853.5 1443.4L854.2 1442.9L855.2 1442.2L856.2 1441.5L857.2 1441.0L858.2 1440.4L859.2 1439.9L860.2 1439.4L861.2 1438.9L862.2 1438.5L863.2 1438.0L864.2 1437.5L865.2 1437.0L866.2 1436.5L867.2 1436.0L868.2 1435.5L869.2 1435.1L870.2 1434.6L871.2 1434.1L872.2 1433.6L873.2 1433.1L874.2 1432.7L875.2 1432.2L876.2 1431.8L877.2 1431.4L878.3 1430.9L879.5 1430.4L880.7 1429.9L881.7 1429.5L882.7 1429.1L883.7 1428.8L884.7 1428.4L885.8 1427.9L887.0 1427.4L888.2 1426.9L889.2 1426.4L890.2 1426.0L891.2 1425.5L892.2 1424.9L893.2 1424.4L894.2 1423.9L895.1 1423.4L896.1 1422.9L897.0 1422.4L898.0 1421.9L898.9 1421.4L900.0 1420.9L901.0 1420.4L902.1 1419.9L903.2 1419.4L904.2 1419.0L905.2 1418.7L906.2 1418.3L907.4 1417.9L908.7 1417.5L909.7 1417.2L911.2 1416.9L912.2 1416.7L913.7 1416.5L914.9 1416.4L916.2 1416.4L917.5 1416.4L918.7 1416.5L920.2 1416.9L921.2 1417.2L922.2 1417.5L923.5 1417.9L924.7 1418.3L925.7 1418.7L926.7 1419.0L927.8 1419.4L929.1 1419.9L930.2 1420.3L931.2 1420.7L932.2 1421.1L933.2 1421.5L934.3 1421.9L935.4 1422.4L936.6 1422.9L937.6 1423.4L938.7 1423.9L939.6 1424.4L940.5 1424.9L941.4 1425.4L942.2 1425.9L943.2 1426.6L944.2 1427.3L944.9 1427.9L945.7 1428.6L946.4 1429.4L947.2 1430.3L947.7 1431.0L948.2 1431.9L948.7 1433.0L949.1 1434.4L949.3 1435.4L949.3 1436.9L949.2 1438.0L948.7 1439.4L948.2 1440.4L947.7 1440.9L946.7 1441.7L945.7 1442.3L944.7 1442.8L943.7 1443.2L942.7 1443.6L941.6 1443.9L940.2 1444.3L939.2 1444.6L938.2 1444.9L936.7 1445.4L935.7 1445.7L934.7 1446.0L933.6 1446.4L932.2 1446.9L931.2 1447.2L930.2 1447.5L929.1 1447.9L927.7 1448.4L926.7 1448.7L925.7 1449.1L924.7 1449.5L923.5 1449.9L922.2 1450.4L921.2 1450.7L920.2 1451.1L919.2 1451.5L918.2 1451.9L916.9 1452.4L915.7 1452.9L914.7 1453.3L913.7 1453.7L912.7 1454.1L911.7 1454.5L910.7 1454.9L909.5 1455.4L908.4 1455.9L907.2 1456.4L906.2 1456.9L905.2 1457.3L904.2 1457.7L903.2 1458.1L902.2 1458.6L901.2 1459.0L900.1 1459.4L898.8 1459.9L897.7 1460.3L896.7 1460.6L895.7 1461.0L894.4 1461.4L893.2 1461.8L892.2 1462.1L890.9 1462.4L889.7 1462.6L888.2 1462.9ZM885.7 1460.4L884.2 1460.6L882.7 1460.6L881.2 1460.6L879.7 1460.6L878.2 1460.5L877.2 1460.4L875.7 1460.2L874.2 1460.0L873.2 1459.9L871.7 1459.7L870.2 1459.4L869.2 1459.3L867.7 1459.0L866.7 1458.8L865.2 1458.5L864.2 1458.2L862.9 1457.9L861.7 1457.6L860.7 1457.2L859.7 1456.9L858.4 1456.4L857.3 1455.9L856.5 1455.4L855.7 1454.9L854.7 1454.0L854.2 1453.4L853.6 1452.4L853.2 1451.3L853.0 1449.9L853.2 1448.5L853.7 1447.6L854.3 1446.9L855.2 1446.0L855.9 1445.4L856.7 1444.8L857.7 1444.2L858.7 1443.6L859.7 1443.1L860.7 1442.6L861.7 1442.1L862.7 1441.6L863.7 1441.1L864.7 1440.6L865.7 1440.0L866.7 1439.5L867.7 1439.0L868.7 1438.4L869.7 1437.9L870.6 1437.4L871.5 1436.9L872.4 1436.4L873.4 1435.9L874.4 1435.4L875.4 1434.9L876.4 1434.4L877.5 1433.9L878.7 1433.4L879.7 1433.0L880.7 1432.6L881.7 1432.2L882.7 1431.9L884.0 1431.4L885.2 1431.0L886.2 1430.7L887.2 1430.3L888.3 1429.9L889.5 1429.4L890.7 1428.9L891.7 1428.4L892.7 1427.9L893.6 1427.4L894.5 1426.9L895.4 1426.4L896.2 1425.9L897.2 1425.3L898.2 1424.7L899.2 1424.1L900.2 1423.6L901.2 1423.0L902.2 1422.5L903.2 1422.0L904.2 1421.6L905.2 1421.2L906.2 1420.8L907.4 1420.4L908.7 1420.0L909.7 1419.7L911.2 1419.4L912.2 1419.3L913.7 1419.1L915.2 1419.0L916.7 1419.0L918.2 1419.2L919.2 1419.5L920.6 1419.9L921.7 1420.3L922.7 1420.7L923.7 1421.0L924.7 1421.4L926.0 1421.9L927.2 1422.4L928.2 1422.8L929.2 1423.2L930.2 1423.6L931.2 1424.0L932.3 1424.4L933.5 1424.9L934.7 1425.4L935.7 1425.9L936.7 1426.4L937.7 1426.9L938.7 1427.4L939.6 1427.9L940.4 1428.4L941.2 1428.9L942.2 1429.7L943.1 1430.4L943.7 1431.0L944.5 1431.9L945.2 1432.8L945.7 1433.8L946.1 1434.9L946.3 1435.9L946.2 1437.3L945.8 1438.4L945.2 1439.0L944.2 1439.6L943.2 1440.1L942.2 1440.5L940.9 1440.9L939.7 1441.3L938.7 1441.6L937.6 1441.9L936.2 1442.4L935.2 1442.7L934.2 1443.0L932.9 1443.4L931.7 1443.8L930.7 1444.2L929.7 1444.5L928.5 1444.9L927.2 1445.4L926.2 1445.7L925.2 1446.1L924.2 1446.5L923.1 1446.9L921.8 1447.4L920.7 1447.8L919.7 1448.2L918.7 1448.6L917.7 1449.0L916.7 1449.4L915.4 1449.9L914.2 1450.4L913.2 1450.7L912.2 1451.1L911.2 1451.5L910.2 1451.9L909.0 1452.4L907.8 1452.9L906.7 1453.3L905.7 1453.8L904.7 1454.2L903.7 1454.6L902.7 1455.1L901.7 1455.5L900.7 1455.9L899.6 1456.4L898.3 1456.9L897.2 1457.3L896.2 1457.7L895.2 1458.1L894.2 1458.5L892.9 1458.9L891.7 1459.3L890.7 1459.6L889.3 1459.9L888.2 1460.1L886.7 1460.3L885.7 1460.4ZM885.7 1457.9L884.2 1458.1L882.7 1458.1L881.2 1458.1L879.7 1458.0L878.5 1457.9L877.2 1457.7L875.7 1457.5L874.7 1457.4L873.2 1457.1L872.2 1456.9L870.7 1456.6L869.7 1456.4L868.2 1456.1L867.2 1455.9L865.7 1455.5L864.7 1455.2L863.4 1454.9L862.2 1454.5L861.2 1454.2L860.2 1453.8L859.2 1453.4L858.2 1452.9L857.2 1452.2L856.5 1451.4L856.1 1450.4L856.2 1449.4L857.1 1448.4L857.7 1447.9L858.7 1447.2L859.7 1446.6L860.7 1446.0L861.7 1445.5L862.7 1445.0L863.7 1444.4L864.7 1443.9L865.6 1443.4L866.5 1442.9L867.4 1442.4L868.2 1441.9L869.2 1441.3L870.2 1440.7L871.2 1440.0L872.2 1439.4L873.0 1438.9L873.8 1438.4L874.7 1437.9L875.7 1437.3L876.7 1436.8L877.7 1436.3L878.7 1435.8L879.7 1435.4L880.9 1434.9L882.2 1434.5L883.2 1434.1L884.2 1433.8L885.7 1433.4L886.7 1433.1L887.7 1432.8L889.2 1432.4L890.2 1432.1L891.2 1431.7L892.2 1431.3L893.2 1430.8L894.2 1430.2L895.2 1429.6L896.2 1429.0L897.0 1428.4L897.8 1427.9L898.7 1427.2L899.7 1426.6L900.7 1425.9L901.5 1425.4L902.4 1424.9L903.3 1424.4L904.2 1423.9L905.3 1423.4L906.6 1422.9L907.7 1422.5L908.7 1422.2L910.0 1421.9L911.2 1421.7L912.7 1421.5L913.8 1421.4L915.2 1421.4L916.2 1421.4L917.7 1421.7L918.7 1421.9L919.9 1422.4L921.1 1422.9L922.2 1423.4L923.2 1423.8L924.2 1424.2L925.2 1424.7L926.2 1425.1L927.2 1425.5L928.2 1426.0L929.2 1426.4L930.4 1426.9L931.6 1427.4L932.7 1427.9L933.7 1428.3L934.7 1428.8L935.7 1429.3L936.7 1429.8L937.7 1430.4L938.6 1430.9L939.4 1431.4L940.2 1432.0L941.2 1432.8L941.8 1433.4L942.6 1434.4L943.0 1435.4L943.2 1436.4L942.7 1436.9L941.7 1437.4L940.3 1437.9L939.2 1438.2L938.2 1438.5L937.0 1438.9L935.7 1439.3L934.7 1439.6L933.7 1439.9L932.3 1440.4L931.2 1440.8L930.2 1441.1L929.2 1441.5L928.0 1441.9L926.7 1442.4L925.7 1442.8L924.7 1443.2L923.7 1443.6L922.7 1444.0L921.7 1444.4L920.6 1444.9L919.4 1445.4L918.2 1445.9L917.2 1446.3L916.2 1446.7L915.2 1447.1L914.2 1447.5L913.1 1447.9L911.7 1448.4L910.7 1448.8L909.7 1449.1L908.7 1449.5L907.6 1449.9L906.2 1450.4L905.2 1450.8L904.2 1451.2L903.2 1451.7L902.2 1452.1L901.2 1452.5L900.2 1453.0L899.2 1453.4L898.1 1453.9L897.0 1454.4L895.8 1454.9L894.7 1455.4L893.7 1455.8L892.7 1456.2L891.7 1456.5L890.6 1456.9L889.2 1457.3L888.2 1457.5L886.7 1457.8L885.7 1457.9ZM887.2 1455.4L885.7 1455.7L884.2 1455.8L882.7 1455.9L881.2 1455.8L879.7 1455.7L878.2 1455.5L877.2 1455.3L875.7 1455.0L874.7 1454.8L873.2 1454.4L872.2 1454.2L871.2 1453.9L869.7 1453.5L868.7 1453.2L867.5 1452.9L866.2 1452.6L865.2 1452.3L864.0 1451.9L862.7 1451.5L861.7 1451.1L860.7 1450.7L860.2 1449.9L860.9 1449.4L861.8 1448.9L862.7 1448.4L863.7 1447.9L864.7 1447.3L865.7 1446.8L866.7 1446.2L867.7 1445.5L868.7 1444.9L869.4 1444.4L870.2 1443.8L871.2 1443.1L872.1 1442.4L872.8 1441.9L873.7 1441.2L874.7 1440.5L875.6 1439.9L876.4 1439.4L877.2 1438.9L878.2 1438.4L879.2 1437.9L880.2 1437.4L881.5 1436.9L882.7 1436.5L883.7 1436.2L884.9 1435.9L886.2 1435.6L887.2 1435.4L888.7 1435.1L889.7 1434.9L891.2 1434.5L892.2 1434.2L893.2 1433.8L894.2 1433.3L895.2 1432.7L896.2 1432.1L897.1 1431.4L897.8 1430.9L898.7 1430.2L899.6 1429.4L900.2 1428.9L901.2 1428.2L902.2 1427.4L903.0 1426.9L903.8 1426.4L904.7 1425.9L905.7 1425.4L906.9 1424.9L908.2 1424.4L909.2 1424.1L910.3 1423.9L911.7 1423.7L913.2 1423.6L914.7 1423.6L916.2 1423.7L917.2 1423.9L918.6 1424.4L919.7 1424.9L920.7 1425.4L921.7 1425.9L922.7 1426.4L923.6 1426.9L924.6 1427.4L925.6 1427.9L926.6 1428.4L927.6 1428.9L928.7 1429.4L929.7 1429.9L930.7 1430.3L931.7 1430.7L932.7 1431.2L933.7 1431.7L934.7 1432.2L935.7 1432.7L936.7 1433.3L937.6 1433.9L938.3 1434.4L938.7 1435.1L937.7 1435.5L936.3 1435.9L935.2 1436.2L934.2 1436.6L933.2 1436.9L931.7 1437.4L930.7 1437.7L929.7 1438.1L928.7 1438.5L927.6 1438.9L926.4 1439.4L925.3 1439.9L924.2 1440.4L923.2 1440.9L922.2 1441.3L921.2 1441.8L920.2 1442.3L919.2 1442.8L918.2 1443.2L917.2 1443.7L916.2 1444.1L915.2 1444.5L914.2 1444.9L912.9 1445.4L911.7 1445.8L910.7 1446.1L909.7 1446.4L908.2 1446.9L907.2 1447.2L906.2 1447.5L905.1 1447.9L903.7 1448.4L902.7 1448.8L901.7 1449.2L900.7 1449.6L899.7 1450.1L898.7 1450.5L897.7 1451.0L896.7 1451.5L895.7 1452.0L894.7 1452.5L893.7 1453.0L892.7 1453.5L891.7 1453.9L890.6 1454.4L889.2 1454.9L888.2 1455.2L887.2 1455.4ZM886.2 1453.5L884.7 1453.7L883.2 1453.8L881.7 1453.7L880.2 1453.6L879.0 1453.4L877.7 1453.1L876.7 1452.9L875.2 1452.4L874.2 1452.1L873.2 1451.8L872.0 1451.4L870.7 1451.0L869.7 1450.6L868.7 1450.3L867.5 1449.9L867.2 1449.3L868.2 1448.7L869.2 1448.0L870.0 1447.4L870.7 1446.8L871.7 1446.0L872.3 1445.4L873.2 1444.6L874.0 1443.9L874.7 1443.3L875.7 1442.5L876.4 1441.9L877.2 1441.3L878.2 1440.7L879.2 1440.1L880.2 1439.6L881.2 1439.1L882.2 1438.8L883.4 1438.4L884.7 1438.1L885.7 1437.9L887.2 1437.7L888.7 1437.5L889.7 1437.4L891.2 1437.1L892.4 1436.9L893.7 1436.5L894.7 1436.1L895.7 1435.6L896.7 1435.0L897.5 1434.4L898.2 1433.8L899.2 1432.9L899.7 1432.4L900.7 1431.4L901.2 1430.9L902.2 1430.0L902.9 1429.4L903.7 1428.8L904.7 1428.1L905.7 1427.5L906.7 1427.0L907.7 1426.6L908.7 1426.2L910.0 1425.9L911.2 1425.7L912.7 1425.6L914.2 1425.6L915.7 1425.8L916.7 1426.0L917.8 1426.4L918.8 1426.9L919.7 1427.4L920.7 1428.1L921.7 1428.7L922.7 1429.3L923.6 1429.9L924.5 1430.4L925.3 1430.9L926.2 1431.4L927.2 1431.9L928.2 1432.4L929.2 1432.9L930.2 1433.4L931.3 1433.9L930.7 1434.5L929.7 1434.9L928.5 1435.4L927.3 1435.9L926.2 1436.4L925.2 1436.9L924.2 1437.4L923.3 1437.9L922.4 1438.4L921.5 1438.9L920.7 1439.4L919.7 1439.9L918.7 1440.5L917.7 1441.0L916.7 1441.5L915.7 1442.0L914.7 1442.4L913.5 1442.9L912.2 1443.3L911.2 1443.7L910.2 1443.9L908.7 1444.3L907.7 1444.6L906.4 1444.9L905.2 1445.2L904.2 1445.4L902.7 1445.9L901.7 1446.2L900.7 1446.6L899.7 1447.0L898.7 1447.5L897.7 1448.0L896.7 1448.6L895.7 1449.2L894.7 1449.7L893.7 1450.3L892.7 1450.9L891.8 1451.4L890.8 1451.9L889.7 1452.4L888.7 1452.8L887.7 1453.1L886.5 1453.4ZM886.2 1451.4L884.7 1451.7L883.2 1451.8L881.7 1451.7L880.2 1451.5L879.2 1451.3L877.7 1450.9L876.7 1450.6L875.7 1450.2L874.7 1449.8L873.7 1449.4L872.6 1448.9L873.2 1448.2L874.0 1447.4L874.7 1446.6L875.4 1445.9L876.2 1445.0L876.9 1444.4L877.7 1443.6L878.6 1442.9L879.4 1442.4L880.2 1441.9L881.2 1441.4L882.3 1440.9L883.7 1440.5L884.7 1440.2L886.2 1440.0L887.3 1439.9L888.7 1439.8L890.2 1439.8L891.7 1439.7L893.2 1439.5L894.2 1439.3L895.6 1438.9L896.7 1438.4L897.5 1437.9L898.2 1437.4L899.2 1436.5L899.7 1435.9L900.6 1434.9L901.2 1434.2L901.9 1433.4L902.7 1432.5L903.3 1431.9L904.2 1431.0L904.9 1430.4L905.7 1429.8L906.7 1429.2L907.7 1428.7L908.7 1428.3L909.9 1427.9L911.2 1427.7L912.7 1427.6L914.2 1427.6L915.7 1427.9L916.7 1428.2L917.7 1428.7L918.7 1429.4L919.4 1429.9L920.2 1430.5L921.2 1431.3L922.0 1431.9L922.7 1432.4L923.7 1433.1L924.7 1433.8L924.2 1434.3L923.3 1434.9L922.6 1435.4L921.7 1436.0L920.7 1436.7L919.7 1437.3L918.9 1437.9L918.1 1438.4L917.2 1438.9L916.2 1439.5L915.2 1440.0L914.2 1440.5L913.2 1440.9L911.7 1441.4L910.7 1441.7L909.7 1442.0L908.2 1442.3L907.2 1442.5L905.7 1442.7L904.5 1442.9L903.2 1443.1L901.9 1443.4L900.7 1443.7L899.7 1444.1L898.7 1444.5L897.7 1445.0L896.7 1445.5L895.7 1446.2L894.7 1446.8L893.9 1447.4L893.2 1447.9L892.2 1448.6L891.2 1449.2L890.2 1449.8L889.2 1450.3L888.2 1450.8L887.2 1451.1L886.2 1451.4ZM898.7 1441.5L898.2 1441.2L899.2 1440.5L899.9 1439.9L900.7 1439.1L901.3 1438.4L902.0 1437.4L902.7 1436.4L903.2 1435.7L903.8 1434.9L904.5 1433.9L905.2 1433.1L905.9 1432.4L906.7 1431.7L907.7 1431.0L908.7 1430.5L909.7 1430.1L910.7 1429.9L912.2 1429.7L913.7 1429.8L914.7 1429.9L916.2 1430.4L917.1 1430.9L917.8 1431.4L918.7 1432.2L919.4 1432.9L920.2 1433.6L919.9 1434.4L919.2 1435.0L918.2 1435.8L917.4 1436.4L916.7 1436.9L915.7 1437.5L914.7 1438.1L913.7 1438.6L912.7 1439.1L911.7 1439.4L910.2 1439.8L909.2 1440.1L907.7 1440.3L906.7 1440.4L905.2 1440.6L903.7 1440.7L902.2 1440.8L901.2 1440.9L899.7 1441.2L898.7 1441.5ZM885.7 1449.4L884.2 1449.7L882.7 1449.8L881.2 1449.6L880.1 1449.4L878.7 1449.0L877.7 1448.6L877.0 1447.9L877.7 1447.0L878.3 1446.4L879.2 1445.5L879.8 1444.9L880.7 1444.3L881.7 1443.6L882.7 1443.2L883.7 1442.8L885.2 1442.5L886.2 1442.4L887.7 1442.3L889.2 1442.4L890.2 1442.4L891.7 1442.5L893.2 1442.5L894.5 1442.4L895.7 1442.2L896.7 1441.9L897.7 1441.9L896.7 1442.4L895.9 1442.9L895.1 1443.4L894.2 1444.1L893.2 1444.9L892.6 1445.4L891.7 1446.1L890.7 1446.9L890.0 1447.4L889.2 1447.9L888.2 1448.5L887.2 1449.0L885.8 1449.4Z" fill="none" stroke="#606060" stroke-width="0.7"/>
<rect x="839.6" y="1320.9" width="121.5" height="82.69999999999982" fill="none" stroke="#000" stroke-width="3"/>
<text transform="translate(878.32,1312.70) scale(0.9834,1)" font-size="33.60" style="font-family:'Liberation Sans', sans-serif;" fill="#000" >1.7</text>
<line x1="18.9" y1="1422" x2="18.9" y2="1290" stroke="#000" stroke-width="3" />
<path d="M9.3 1293.3L18.6 1275.6L27.8 1293.3Z" fill="#000"/>
<text transform="translate(31.10,1505.13) rotate(-90) scale(0.9495,1)" font-size="33.41" style="font-family:'Liberation Sans', sans-serif;" fill="#000" >IL-21</text>
<text transform="translate(56.28,1551.89) scale(0.9712,1)" font-size="31.38" style="font-family:'Liberation Sans', sans-serif;" fill="#000" >CD44</text>
<line x1="143.3" y1="1539.5" x2="992" y2="1539.5" stroke="#000" stroke-width="3" />
<path d="M988.5 1530L1007 1539.4L988.5 1548.7Z" fill="#000"/>
<circle cx="1097.6" cy="1211.6" r="8" fill="#000"/>
<circle cx="1097.6" cy="1240.4" r="6.8" fill="#f01010" stroke="#000" stroke-width="2.4"/>
<text transform="translate(1117.43,1219.73) scale(1.0512,1)" font-size="27.21" style="font-family:'Liberation Sans', sans-serif;font-style:italic;" fill="#000" >Cd4-Cre:Stat3</text>
<text transform="translate(1299.09,1208.81) scale(1.1861,1)" font-size="19.05" style="font-family:'Liberation Sans', sans-serif;font-style:italic;" fill="#000" >+/+</text>
<text transform="translate(1117.43,1250.71) scale(1.0012,1)" font-size="28.57" style="font-family:'Liberation Sans', sans-serif;font-style:italic;" fill="#000" >Cd4-Cre:Stat3</text>
<text transform="translate(1299.67,1241.80) scale(1.2564,1)" font-size="20.41" style="font-family:'Liberation Sans', sans-serif;font-style:italic;" fill="#000" >fl/fl</text>
<line x1="1092.6" y1="1270.4" x2="1092.6" y2="1511.9" stroke="#000" stroke-width="3" />
<line x1="1080.0" y1="1271.9" x2="1092.6" y2="1271.9" stroke="#000" stroke-width="3" />
<line x1="1080.0" y1="1331.9" x2="1092.6" y2="1331.9" stroke="#000" stroke-width="3" />
<line x1="1080.0" y1="1391.6" x2="1092.6" y2="1391.6" stroke="#000" stroke-width="3" />
<line x1="1080.0" y1="1451.2" x2="1092.6" y2="1451.2" stroke="#000" stroke-width="3" />
<line x1="1080.0" y1="1510.4" x2="1092.6" y2="1510.4" stroke="#000" stroke-width="3" />
<line x1="1080" y1="1510.4" x2="1350" y2="1510.4" stroke="#000" stroke-width="3" />
<line x1="1155.6" y1="1510.4" x2="1155.6" y2="1522.5" stroke="#000" stroke-width="3" />
<line x1="1283.3" y1="1510.4" x2="1283.3" y2="1522.5" stroke="#000" stroke-width="3" />
<rect x="1109.7" y="1399.3" width="34.799999999999955" height="111.10000000000014" fill="#fff" stroke="#000" stroke-width="3"/>
<rect x="1166.4" y="1460.3" width="34.799999999999955" height="50.100000000000136" fill="#fff" stroke="#000" stroke-width="3"/>
<rect x="1238.9" y="1330.7" width="34.59999999999991" height="179.70000000000005" fill="#fff" stroke="#000" stroke-width="3"/>
<rect x="1293.1" y="1458.5" width="34.80000000000018" height="51.90000000000009" fill="#fff" stroke="#000" stroke-width="3"/>
<circle cx="1120" cy="1395.3" r="7.6" fill="#000"/>
<circle cx="1128.9" cy="1407.9" r="7.6" fill="#000"/>
<circle cx="1138.4" cy="1395.8" r="7.6" fill="#000"/>
<circle cx="1256.3" cy="1301.6" r="7.6" fill="#000"/>
<circle cx="1256.3" cy="1326" r="7.6" fill="#000"/>
<circle cx="1256.3" cy="1364.6" r="7.6" fill="#000"/>
<circle cx="1183.3" cy="1451.2" r="6.4" fill="#f01010" stroke="#000" stroke-width="2.5"/>
<circle cx="1193.1" cy="1459.6" r="6.4" fill="#f01010" stroke="#000" stroke-width="2.5"/>
<circle cx="1174.2" cy="1472.1" r="6.4" fill="#f01010" stroke="#000" stroke-width="2.5"/>
<circle cx="1302.1" cy="1451.2" r="6.4" fill="#f01010" stroke="#000" stroke-width="2.5"/>
<circle cx="1311" cy="1464.6" r="6.4" fill="#f01010" stroke="#000" stroke-width="2.5"/>
<circle cx="1320.3" cy="1461.6" r="6.4" fill="#f01010" stroke="#000" stroke-width="2.5"/>
<line x1="1119" y1="1369.6" x2="1186.8" y2="1369.6" stroke="#000" stroke-width="3" />
<text transform="translate(1145.92,1372.16) scale(1.0788,1)" font-size="30.34" style="font-family:'Liberation Sans', sans-serif;font-weight:bold;" fill="#000" >*</text>
<line x1="1248" y1="1285" x2="1316" y2="1285" stroke="#000" stroke-width="3" />
<text transform="translate(1276.92,1287.76) scale(1.0788,1)" font-size="30.34" style="font-family:'Liberation Sans', sans-serif;font-weight:bold;" fill="#000" >*</text>
<text transform="translate(1058.24,1284.27) scale(1.0537,1)" font-size="32.51" style="font-family:'Liberation Sans', sans-serif;" fill="#000" >8</text>
<text transform="translate(1057.96,1344.27) scale(1.0708,1)" font-size="32.51" style="font-family:'Liberation Sans', sans-serif;" fill="#000" >6</text>
<text transform="translate(1058.98,1404.30) scale(0.9530,1)" font-size="33.45" style="font-family:'Liberation Sans', sans-serif;" fill="#000" >4</text>
<text transform="translate(1057.93,1463.90) scale(1.0731,1)" font-size="32.97" style="font-family:'Liberation Sans', sans-serif;" fill="#000" >2</text>
<text transform="translate(1058.35,1522.77) scale(1.0372,1)" font-size="32.51" style="font-family:'Liberation Sans', sans-serif;" fill="#000" >0</text>
<text transform="translate(1135.93,1550.20) scale(1.2376,1)" font-size="29.52" style="font-family:'Liberation Sans', sans-serif;" fill="#000" >nil</text>
<text transform="translate(1237.60,1549.40) scale(1.1932,1)" font-size="28.42" style="font-family:'Liberation Sans', sans-serif;" fill="#000" >Leptin</text>
<text transform="translate(1046.26,1508.12) rotate(-90) scale(0.9047,1)" font-size="33.64" style="font-family:'Liberation Sans', sans-serif;" fill="#000" >CD44</text>
<text transform="translate(1036.05,1430.69) rotate(-90) scale(1.0328,1)" font-size="22.24" style="font-family:'Liberation Sans', sans-serif;" fill="#000" >+</text>
<text transform="translate(1046.60,1418.92) rotate(-90) scale(0.9562,1)" font-size="32.97" style="font-family:'Liberation Sans', sans-serif;" fill="#000" >IL-21</text>
<text transform="translate(1036.05,1347.76) rotate(-90) scale(1.0051,1)" font-size="22.24" style="font-family:'Liberation Sans', sans-serif;" fill="#000" >+</text>
<text transform="translate(1045.47,1326.39) rotate(-90) scale(0.8920,1)" font-size="33.89" style="font-family:'Liberation Sans', sans-serif;" fill="#000" >(%)</text>
</svg></body></html>
